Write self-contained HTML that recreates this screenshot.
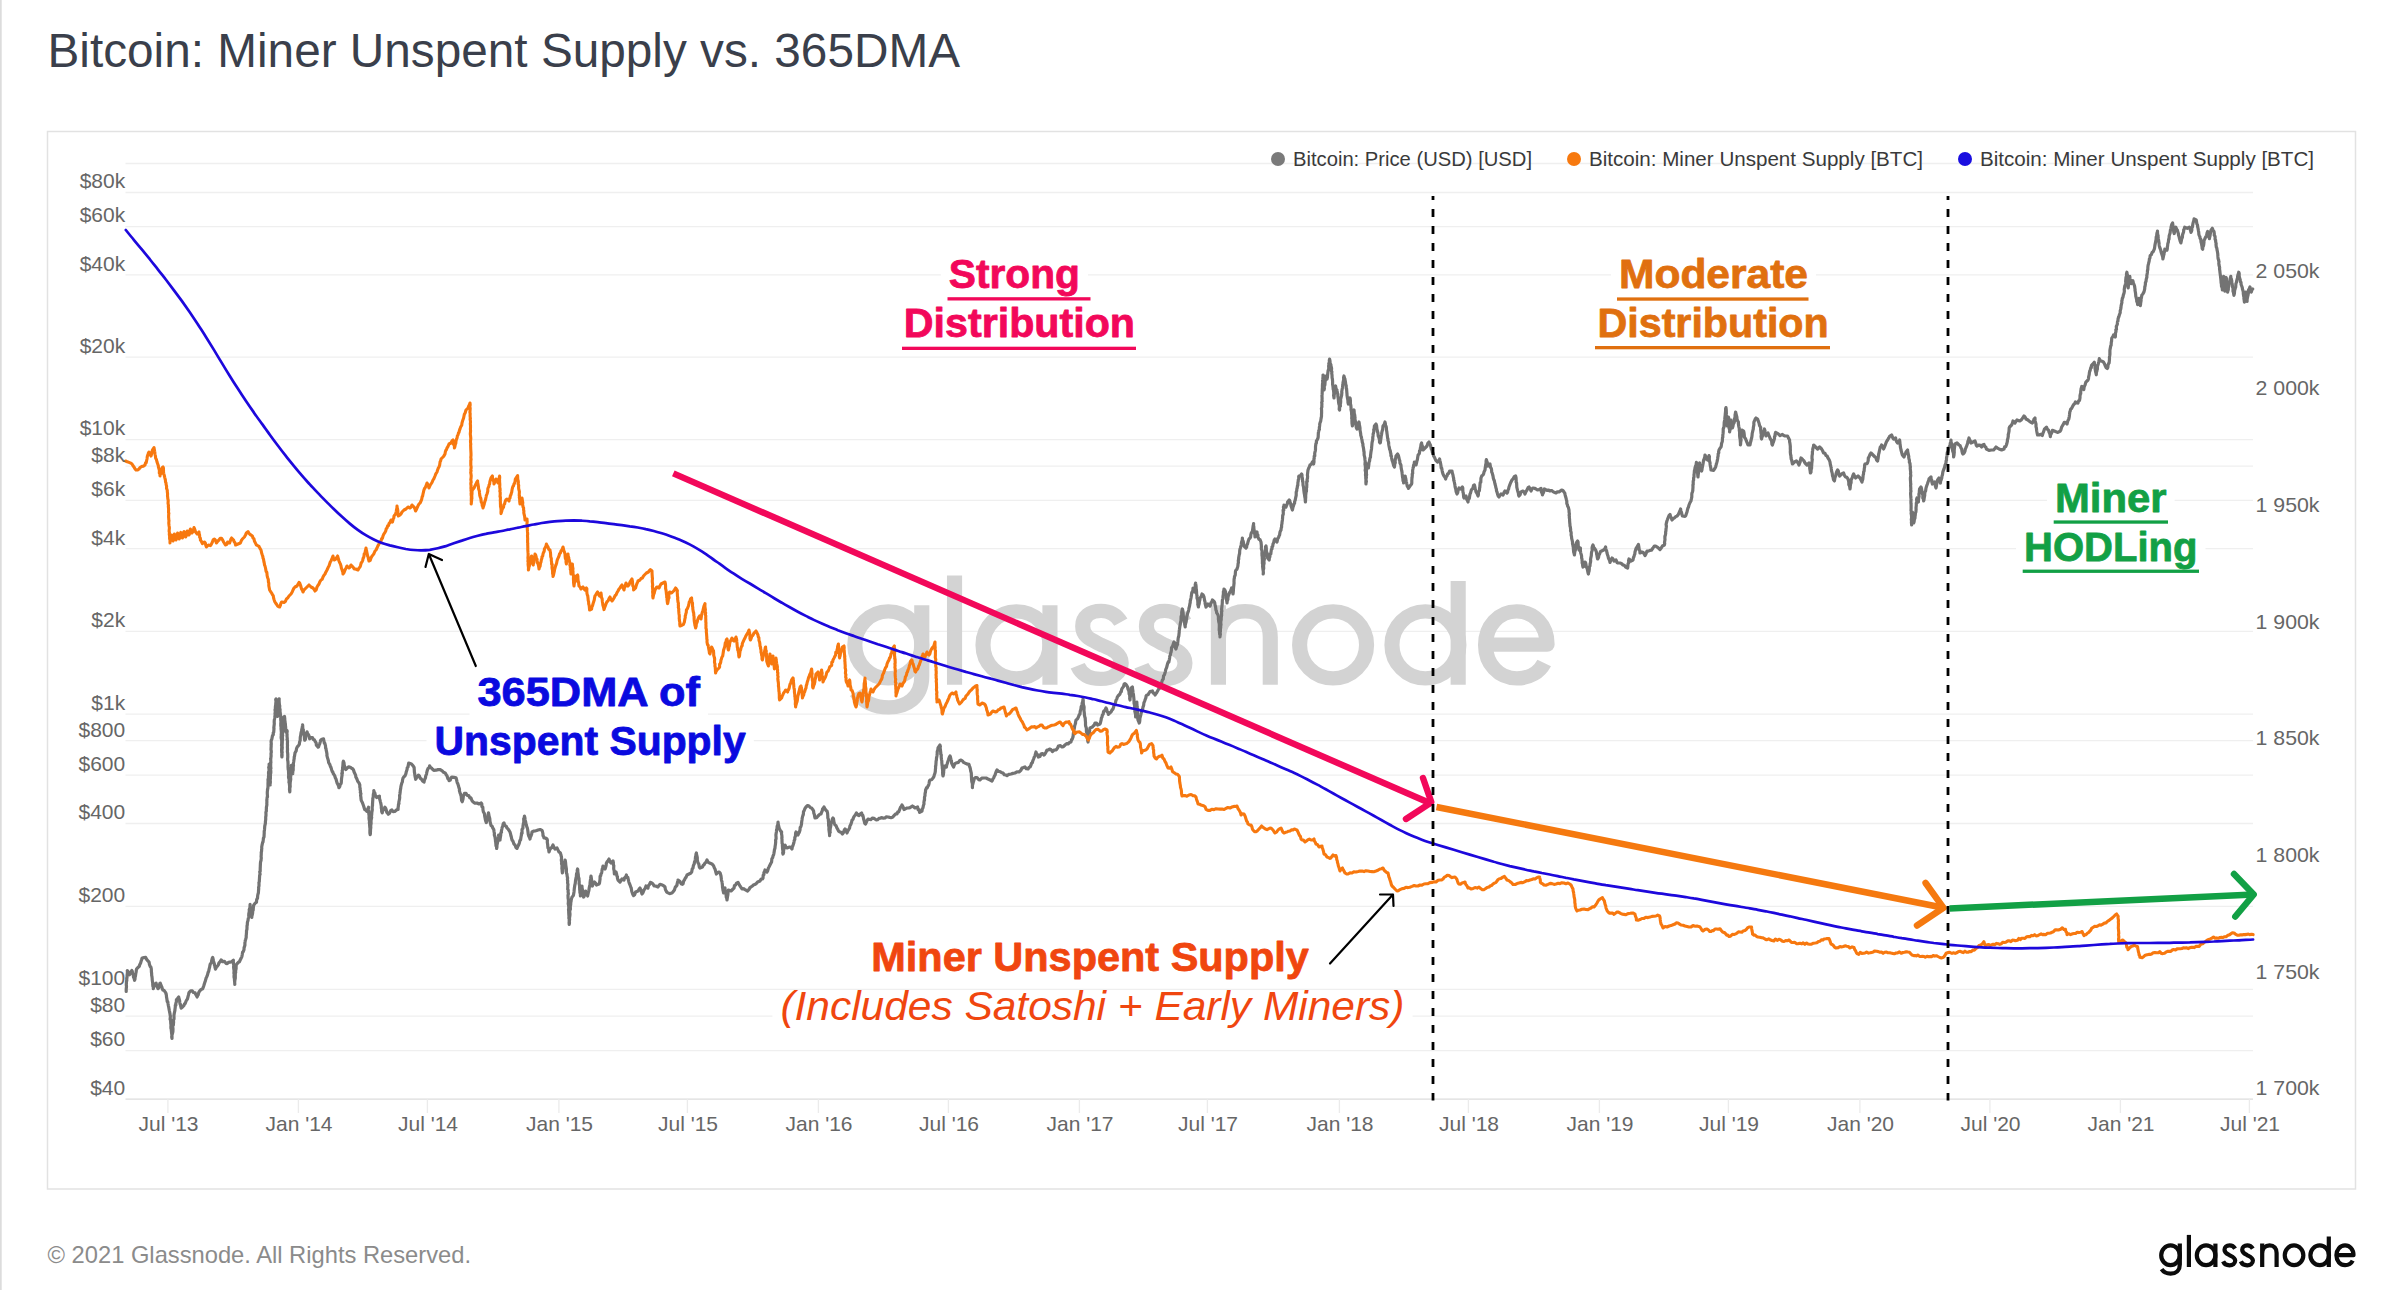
<!DOCTYPE html>
<html lang="en"><head><meta charset="utf-8"><title>Bitcoin: Miner Unspent Supply vs. 365DMA</title>
<style>
html,body{margin:0;padding:0;background:#fff;}
body{width:2400px;height:1290px;overflow:hidden;font-family:"Liberation Sans", sans-serif;}
svg{display:block;position:absolute;left:0;top:0;}
text{font-family:"Liberation Sans", sans-serif;}
.ax{font-size:21px;fill:#666;}
.lg{font-size:20.5px;fill:#3a3a3a;}
.an{font-size:41px;font-weight:bold;stroke-width:0.8px;stroke-linejoin:round;}
</style></head><body>
<svg width="2400" height="1290" viewBox="0 0 2400 1290">
<rect x="0" y="0" width="1.7" height="1290" fill="#dcdcdc"/>
<text x="47.5" y="67" font-size="48" fill="#3a3f4b" textLength="912.5" lengthAdjust="spacingAndGlyphs">Bitcoin: Miner Unspent Supply vs. 365DMA</text>
<rect x="47.5" y="131.5" width="2308" height="1057.5" fill="#fff" stroke="#e2e2e2" stroke-width="1.5"/>
<g stroke="#efefef" stroke-width="1.3">
<line x1="125.5" x2="2253" y1="163.5" y2="163.5"/>
<line x1="125.5" x2="2253" y1="192.5" y2="192.5"/>
<line x1="125.5" x2="2253" y1="226.6" y2="226.6"/>
<line x1="125.5" x2="2253" y1="274.8" y2="274.8"/>
<line x1="125.5" x2="2253" y1="357.2" y2="357.2"/>
<line x1="125.5" x2="2253" y1="439.6" y2="439.6"/>
<line x1="125.5" x2="2253" y1="466.2" y2="466.2"/>
<line x1="125.5" x2="2253" y1="500.4" y2="500.4"/>
<line x1="125.5" x2="2253" y1="548.7" y2="548.7"/>
<line x1="125.5" x2="2253" y1="631.3" y2="631.3"/>
<line x1="125.5" x2="2253" y1="714.1" y2="714.1"/>
<line x1="125.5" x2="2253" y1="740.7" y2="740.7"/>
<line x1="125.5" x2="2253" y1="775.1" y2="775.1"/>
<line x1="125.5" x2="2253" y1="823.5" y2="823.5"/>
<line x1="125.5" x2="2253" y1="906.4" y2="906.4"/>
<line x1="125.5" x2="2253" y1="989.4" y2="989.4"/>
<line x1="125.5" x2="2253" y1="1016.1" y2="1016.1"/>
<line x1="125.5" x2="2253" y1="1050.6" y2="1050.6"/>
</g>
<line x1="125.5" x2="2253" y1="1099.2" y2="1099.2" stroke="#dcdcdc" stroke-width="1.2"/>
<g stroke="#ebebeb" stroke-width="1.3">
<line x1="167.9" x2="167.9" y1="1099" y2="1113"/>
<line x1="298.4" x2="298.4" y1="1099" y2="1113"/>
<line x1="427.4" x2="427.4" y1="1099" y2="1113"/>
<line x1="558.9" x2="558.9" y1="1099" y2="1113"/>
<line x1="687.4" x2="687.4" y1="1099" y2="1113"/>
<line x1="818.4" x2="818.4" y1="1099" y2="1113"/>
<line x1="948.4" x2="948.4" y1="1099" y2="1113"/>
<line x1="1079.4" x2="1079.4" y1="1099" y2="1113"/>
<line x1="1207.4" x2="1207.4" y1="1099" y2="1113"/>
<line x1="1339.4" x2="1339.4" y1="1099" y2="1113"/>
<line x1="1468.4" x2="1468.4" y1="1099" y2="1113"/>
<line x1="1599.4" x2="1599.4" y1="1099" y2="1113"/>
<line x1="1728.4" x2="1728.4" y1="1099" y2="1113"/>
<line x1="1859.9" x2="1859.9" y1="1099" y2="1113"/>
<line x1="1989.9" x2="1989.9" y1="1099" y2="1113"/>
<line x1="2120.4" x2="2120.4" y1="1099" y2="1113"/>
<line x1="2249.4" x2="2249.4" y1="1099" y2="1113"/>
</g>
<g fill="none" stroke="#d3d3d3" stroke-width="4.2" stroke-linecap="butt" stroke-linejoin="round" transform="translate(-6925.5 -3623.1) scale(3.6 3.4)"><ellipse cx="2170.50" cy="1255.30" rx="9.30" ry="9.85"/><path d="M2179.8 1243.6 L2179.8 1264.5 C2179.8 1270.8 2175.5 1273.7 2170.6 1273.7 C2166.6 1273.7 2163.4 1272 2161.6 1269.2"/><path d="M2188.9 1234.9 L2188.9 1267"/><ellipse cx="2206.10" cy="1255.30" rx="9.30" ry="9.85"/><path d="M2215.4 1243.6 L2215.4 1267"/><path d="M2235.10 1248.6 C2233.70 1246.2 2231.90 1245.3 2229.60 1245.3 C2226.50 1245.3 2224.50 1247 2224.50 1249.8 C2224.50 1253.2 2227.30 1254 2229.70 1255.3 C2232.50 1256.6 2235.20 1257.6 2235.20 1260.6 C2235.20 1263.6 2232.70 1265.3 2229.50 1265.3 C2226.50 1265.3 2224.20 1264 2223.10 1261.4"/><path d="M2252.80 1248.6 C2251.40 1246.2 2249.60 1245.3 2247.30 1245.3 C2244.20 1245.3 2242.20 1247 2242.20 1249.8 C2242.20 1253.2 2245.00 1254 2247.40 1255.3 C2250.20 1256.6 2252.90 1257.6 2252.90 1260.6 C2252.90 1263.6 2250.40 1265.3 2247.20 1265.3 C2244.20 1265.3 2241.90 1264 2240.80 1261.4"/><path d="M2262.2 1243.6 L2262.2 1267 M2262.2 1253.5 C2262.2 1248.5 2265.3 1245.4 2269.6 1245.4 C2274 1245.4 2276.6 1248.4 2276.6 1253 L2276.6 1267"/><ellipse cx="2294.05" cy="1255.30" rx="9.30" ry="9.85"/><ellipse cx="2319.70" cy="1255.30" rx="9.30" ry="9.85"/><path d="M2328.8 1236.5 L2328.8 1267"/><path d="M2337 1255.2 L2353.5 1255.2 C2353.5 1249.4 2349.8 1245.45 2345.05 1245.45 C2340 1245.45 2336.4 1249.8 2336.4 1255.3 C2336.4 1260.8 2340 1265.15 2345.1 1265.15 C2348.6 1265.15 2351.3 1263.4 2352.7 1260.6"/></g>
<rect x="940.8" y="257.5" width="147.2" height="44.3" fill="#fff"/>
<rect x="895.8" y="307.3" width="247.2" height="42.9" fill="#fff"/>
<rect x="1611.0" y="257.5" width="205.0" height="44.3" fill="#fff"/>
<rect x="1589.5" y="307.3" width="247.5" height="42.9" fill="#fff"/>
<rect x="2047.0" y="482.5" width="127.6" height="42.3" fill="#fff"/>
<rect x="2016.0" y="531.3" width="189.5" height="42.7" fill="#fff"/>
<rect x="469.5" y="676.5" width="238.5" height="42.5" fill="#fff"/>
<rect x="426.5" y="726.0" width="327.3" height="42.0" fill="#fff"/>
<rect x="864.3" y="942.2" width="452.0" height="41.6" fill="#fff"/>
<rect x="772.4" y="991.2" width="640.2" height="42.2" fill="#fff"/>
<path d="M126.2 991.5 L126.2 989.2 L126.4 987.4 L126.5 986.4 L126.3 985.0 L126.4 983.3 L126.5 981.0 L126.8 980.8 L126.7 978.0 L127.0 977.9 L127.1 975.2 L127.4 972.8 L127.4 971.7 L127.3 970.5 L127.9 971.2 L128.7 974.0 L129.5 974.7 L130.1 973.5 L131.1 971.7 L131.8 970.5 L132.3 971.3 L132.5 973.2 L133.3 975.3 L133.5 977.2 L134.1 978.3 L134.6 980.3 L135.0 979.1 L135.0 977.3 L135.4 976.3 L135.8 973.5 L136.2 971.6 L136.2 971.2 L136.5 969.1 L137.7 967.7 L139.3 966.3 L139.6 965.0 L140.6 963.1 L141.2 960.9 L141.6 959.8 L142.1 958.0 L144.0 957.6 L145.7 957.4 L147.0 959.9 L147.9 960.9 L149.1 962.2 L149.4 964.3 L150.3 966.6 L150.9 967.0 L151.3 969.1 L151.4 971.0 L151.4 972.1 L151.6 972.9 L151.7 975.7 L151.9 976.1 L152.2 978.9 L152.2 979.6 L152.5 981.9 L152.8 983.4 L152.7 984.0 L152.9 986.4 L153.3 986.5 L153.3 988.7 L153.8 986.7 L154.5 985.9 L155.4 984.0 L156.1 983.1 L156.5 984.8 L157.3 986.9 L158.0 988.7 L158.8 987.7 L159.1 986.1 L159.8 983.6 L160.2 983.1 L161.0 985.0 L161.5 986.5 L161.9 987.1 L162.3 988.9 L163.0 990.1 L164.2 990.6 L165.8 992.9 L166.0 993.8 L166.4 995.2 L166.5 996.9 L166.9 999.0 L167.2 1001.6 L167.8 1001.7 L168.1 1004.0 L168.3 1005.3 L168.6 1006.5 L169.2 1009.9 L169.3 1010.5 L169.5 1011.4 L170.0 1013.8 L170.1 1014.9 L170.4 1016.2 L170.1 1019.3 L170.5 1019.2 L170.6 1020.5 L170.8 1024.0 L171.1 1024.9 L170.9 1025.8 L170.9 1028.2 L171.3 1029.7 L171.3 1030.1 L171.6 1033.2 L171.8 1034.4 L171.9 1035.8 L171.7 1036.9 L172.0 1038.4 L172.0 1035.9 L172.0 1034.8 L172.3 1034.1 L172.8 1032.1 L172.9 1031.7 L173.0 1028.9 L172.8 1027.1 L172.9 1025.5 L173.3 1025.3 L173.5 1023.0 L173.6 1022.1 L173.4 1020.3 L174.0 1019.0 L174.0 1016.8 L173.9 1015.9 L174.2 1013.8 L174.4 1012.8 L174.9 1010.5 L174.9 1010.0 L175.3 1006.9 L175.3 1005.3 L175.9 1005.1 L175.8 1003.6 L176.4 1001.7 L176.4 999.8 L177.5 998.5 L178.7 997.0 L178.8 997.7 L179.6 1000.5 L179.8 1002.7 L180.1 1004.2 L180.6 1004.4 L180.7 1006.2 L181.2 1008.2 L182.4 1007.0 L184.0 1005.4 L184.5 1003.9 L185.2 1003.5 L186.0 1001.2 L186.8 999.8 L187.4 999.1 L187.8 997.5 L188.4 995.2 L189.0 992.6 L189.6 992.0 L190.9 990.8 L192.3 990.9 L193.5 992.5 L195.1 992.9 L195.6 994.2 L196.6 995.8 L197.1 997.0 L197.6 995.7 L198.2 994.8 L198.6 993.0 L199.3 991.5 L200.9 989.6 L202.7 988.7 L203.3 987.1 L203.7 986.0 L204.4 983.8 L204.8 982.3 L205.3 981.1 L205.8 979.2 L206.3 977.5 L206.8 976.7 L207.5 974.9 L208.2 972.0 L208.6 971.7 L209.1 969.1 L209.7 966.9 L209.8 966.1 L210.2 964.2 L210.7 963.6 L211.5 962.6 L211.6 960.8 L212.3 958.2 L212.7 957.4 L213.3 959.8 L213.3 961.2 L213.7 961.8 L214.4 963.9 L214.3 964.6 L214.8 965.9 L215.0 967.3 L215.5 969.1 L216.6 966.8 L217.4 966.2 L218.3 964.9 L219.0 962.9 L220.2 961.6 L221.1 959.9 L222.6 961.6 L224.4 961.3 L226.0 963.4 L227.2 963.6 L228.4 962.4 L230.0 962.2 L231.5 961.7 L233.4 960.2 L233.3 961.0 L233.5 964.1 L233.8 964.3 L233.6 967.1 L233.8 968.2 L233.7 968.4 L234.1 970.7 L233.9 973.2 L234.2 974.5 L234.0 976.1 L234.1 977.6 L234.4 978.1 L234.5 980.8 L234.5 980.7 L234.7 982.4 L234.8 984.5 L234.7 982.3 L234.8 980.9 L235.0 979.6 L235.3 978.1 L235.3 976.3 L235.3 974.5 L235.4 973.0 L235.7 972.6 L235.6 970.9 L236.1 968.7 L236.1 967.8 L236.1 967.1 L236.2 964.9 L237.2 963.6 L238.4 962.2 L239.4 961.7 L240.2 960.0 L241.2 958.0 L241.9 956.6 L242.3 954.3 L242.6 952.2 L243.2 951.8 L244.0 949.6 L244.1 947.4 L244.3 947.2 L244.9 945.3 L244.9 942.9 L245.1 941.8 L245.3 940.2 L245.6 939.7 L246.2 937.3 L246.2 935.6 L246.3 935.0 L246.5 932.3 L246.5 930.8 L246.9 929.6 L247.0 928.0 L247.0 926.0 L247.3 924.8 L247.4 922.5 L247.7 921.4 L248.0 920.5 L248.2 918.9 L248.5 917.6 L248.7 916.4 L248.8 913.7 L249.3 911.7 L249.4 911.1 L249.2 909.9 L249.9 907.9 L250.0 906.6 L250.1 904.4 L250.2 906.1 L250.5 908.3 L250.9 909.9 L251.0 911.7 L251.3 913.0 L251.2 913.3 L251.4 915.6 L251.8 917.5 L251.8 916.6 L252.3 914.6 L252.6 913.1 L252.8 910.2 L253.2 910.1 L253.3 908.1 L253.6 905.6 L253.8 904.9 L255.3 903.0 L256.5 902.1 L256.6 900.1 L257.2 898.4 L257.5 898.3 L257.7 895.5 L257.9 894.5 L258.4 892.8 L258.5 891.0 L258.7 888.5 L258.6 887.3 L259.0 885.8 L259.0 883.6 L258.9 882.5 L259.3 881.8 L259.4 879.4 L259.5 878.1 L259.6 875.9 L259.9 874.4 L260.1 874.3 L259.7 871.8 L260.2 871.2 L260.2 868.6 L260.3 866.6 L260.3 866.4 L260.4 864.1 L260.5 862.4 L261.1 860.0 L261.1 859.2 L261.3 858.0 L261.1 856.8 L261.3 853.5 L261.2 852.8 L261.6 850.9 L261.6 849.4 L261.8 848.8 L261.7 847.0 L262.1 844.9 L262.6 842.5 L263.0 842.1 L263.3 839.6 L263.4 838.2 L264.0 837.0 L264.1 835.2 L264.2 833.4 L264.2 831.1 L264.3 831.1 L264.5 829.7 L264.7 826.8 L264.9 825.1 L265.0 825.1 L265.4 823.2 L265.4 821.8 L265.7 819.5 L265.7 817.0 L265.9 816.2 L266.0 815.0 L265.9 812.3 L266.4 810.9 L266.3 810.0 L266.4 808.1 L266.4 807.4 L266.9 804.8 L266.8 803.3 L266.9 802.0 L266.8 799.9 L266.9 799.8 L267.2 796.9 L267.5 796.9 L267.3 793.6 L267.3 791.9 L267.5 790.4 L267.5 789.1 L267.8 788.8 L268.0 786.3 L268.0 784.9 L268.0 783.3 L268.1 781.4 L268.0 779.6 L268.6 777.7 L268.4 777.1 L268.7 774.7 L268.5 773.1 L268.6 771.9 L269.0 771.1 L269.0 767.8 L268.7 767.6 L269.2 765.5 L269.1 764.0 L269.2 764.6 L269.2 768.0 L269.5 769.5 L269.7 769.9 L269.3 771.3 L269.6 774.0 L269.9 775.7 L269.9 777.4 L269.9 778.6 L269.7 780.6 L269.9 782.5 L270.2 782.9 L270.2 784.9 L270.1 782.9 L270.4 782.2 L270.1 779.4 L270.4 778.9 L270.4 776.7 L270.5 774.7 L270.4 774.0 L270.8 772.9 L270.8 771.0 L270.5 769.0 L270.9 768.4 L270.6 765.5 L270.7 765.2 L270.7 762.9 L270.9 762.7 L270.7 759.3 L270.8 758.6 L271.0 756.6 L271.1 756.1 L271.0 753.5 L271.3 752.2 L271.2 750.5 L271.0 750.0 L271.0 748.8 L271.2 745.8 L271.1 744.7 L271.3 744.2 L271.1 741.6 L271.3 740.2 L271.8 739.3 L272.5 735.6 L273.3 734.7 L273.2 732.9 L273.7 732.4 L273.8 731.1 L274.0 728.2 L273.8 727.9 L274.2 724.6 L274.3 723.8 L274.2 722.1 L274.3 720.0 L274.5 719.1 L274.7 717.9 L275.0 715.6 L275.2 714.2 L275.0 713.8 L275.3 711.5 L275.0 710.0 L275.3 709.3 L275.4 706.6 L275.8 704.3 L275.7 704.3 L276.0 701.2 L275.7 699.6 L276.1 698.9 L276.4 700.0 L276.5 702.9 L276.4 703.3 L276.8 705.6 L276.6 707.4 L276.8 708.1 L276.7 710.6 L277.3 712.0 L277.4 712.4 L277.2 714.9 L277.5 716.5 L277.9 715.8 L277.7 712.8 L277.9 711.7 L278.3 709.5 L278.4 709.0 L278.6 707.5 L278.6 705.0 L278.6 703.5 L279.0 701.3 L278.9 701.0 L279.2 698.9 L279.1 699.6 L279.2 702.1 L279.4 704.6 L279.8 706.1 L279.6 705.9 L279.7 708.3 L280.1 709.7 L280.0 711.2 L280.3 713.3 L280.5 715.2 L280.6 715.3 L280.8 717.2 L280.7 718.9 L280.8 720.7 L281.0 721.6 L280.8 723.2 L280.8 726.0 L281.1 726.4 L281.0 729.2 L281.1 729.2 L281.3 731.6 L281.4 732.0 L281.2 735.0 L281.5 736.7 L281.1 736.9 L281.2 738.2 L281.7 740.5 L281.7 741.6 L281.7 743.3 L281.5 745.5 L281.8 745.6 L281.7 748.2 L281.6 749.2 L281.6 750.4 L281.7 752.7 L281.9 753.4 L281.7 755.1 L281.9 757.0 L282.1 754.9 L281.9 753.4 L282.2 752.6 L281.9 750.2 L282.1 749.6 L282.3 747.2 L282.1 746.9 L282.2 744.5 L282.2 744.4 L282.3 742.1 L282.3 740.3 L282.6 739.9 L282.4 736.8 L282.7 735.4 L282.3 735.3 L282.6 733.6 L282.6 732.2 L282.7 729.3 L282.5 728.5 L282.9 727.8 L282.6 725.7 L282.8 723.9 L282.8 722.0 L283.0 721.8 L282.8 719.4 L283.1 717.9 L284.5 716.5 L284.8 719.0 L284.6 718.8 L285.1 722.1 L285.0 721.8 L285.4 724.0 L285.5 726.0 L285.6 726.6 L285.7 728.2 L285.7 731.0 L285.9 731.9 L287.0 730.5 L287.2 731.3 L286.9 733.3 L287.1 734.8 L287.0 736.0 L287.3 738.8 L287.0 739.6 L287.4 740.1 L287.5 741.8 L287.4 744.1 L287.5 745.2 L287.4 747.2 L287.5 748.9 L287.5 749.9 L287.4 751.8 L287.6 752.6 L287.8 755.2 L287.7 755.5 L287.8 756.8 L287.6 759.0 L287.7 760.5 L287.9 761.2 L288.0 762.8 L288.1 765.7 L288.0 765.8 L288.1 768.2 L288.2 769.5 L288.5 770.6 L288.6 773.9 L288.7 775.1 L288.5 777.0 L288.8 778.6 L289.1 778.6 L289.1 781.7 L288.9 782.1 L289.3 783.3 L289.5 785.1 L289.6 786.4 L289.5 789.6 L289.5 789.8 L289.8 791.9 L289.9 790.0 L289.7 788.1 L289.9 788.1 L290.2 786.4 L290.1 784.7 L290.2 782.6 L290.5 780.7 L290.7 779.5 L290.7 778.6 L290.6 777.3 L290.9 774.5 L291.1 772.7 L291.3 771.8 L291.1 770.6 L291.2 767.8 L291.5 766.0 L291.4 765.4 L291.9 766.5 L292.1 769.7 L292.3 770.7 L292.5 771.1 L292.8 773.7 L292.7 771.5 L293.1 770.6 L293.2 770.0 L293.2 767.1 L293.5 765.2 L293.3 764.3 L293.5 762.8 L293.7 761.7 L294.0 759.4 L294.2 758.5 L294.2 757.0 L294.5 756.2 L295.0 752.9 L295.4 752.2 L296.2 750.9 L296.5 748.6 L297.3 746.8 L298.1 746.1 L299.3 744.4 L299.5 742.6 L299.8 741.3 L300.2 740.4 L300.2 739.2 L300.3 737.0 L300.8 734.9 L300.8 734.5 L301.1 732.5 L301.8 730.2 L301.7 729.6 L302.1 728.2 L302.5 725.7 L302.6 724.9 L302.7 726.0 L302.8 728.7 L303.4 729.9 L303.2 731.7 L303.8 732.5 L304.1 734.0 L304.0 734.8 L304.3 736.3 L304.5 739.2 L304.8 740.2 L305.4 739.3 L305.8 736.4 L306.2 735.1 L306.8 733.6 L307.1 731.9 L307.6 733.9 L308.6 734.8 L309.1 736.1 L309.6 738.8 L310.9 737.6 L312.4 737.5 L313.4 739.7 L314.4 739.9 L315.2 741.6 L316.1 742.7 L316.4 745.2 L317.3 746.2 L318.0 747.2 L318.6 746.8 L319.1 745.1 L319.7 743.8 L320.2 742.1 L320.7 740.2 L322.2 739.2 L323.5 738.8 L323.9 740.8 L324.3 743.2 L324.8 743.1 L325.5 745.8 L325.6 748.3 L326.0 748.3 L326.1 749.6 L326.7 752.4 L327.0 754.2 L326.9 755.4 L327.4 757.5 L327.7 758.4 L328.4 760.8 L328.6 762.5 L329.6 764.3 L329.8 764.5 L330.5 766.8 L330.9 767.2 L331.8 770.2 L332.3 771.6 L332.8 771.9 L333.3 773.7 L333.8 774.3 L334.8 775.9 L335.3 777.8 L336.1 779.3 L336.4 780.5 L337.1 783.1 L337.7 784.0 L338.6 786.0 L338.9 787.7 L339.8 786.5 L340.1 784.7 L341.1 783.5 L341.3 782.5 L341.4 780.7 L341.6 778.2 L341.9 776.3 L342.1 774.9 L341.8 773.3 L342.4 773.3 L342.2 770.7 L342.6 769.7 L342.6 767.5 L342.8 766.6 L342.9 765.3 L343.1 762.2 L343.4 761.2 L344.0 762.9 L344.2 764.8 L344.7 766.8 L345.5 768.5 L345.9 769.6 L347.3 767.9 L348.7 766.8 L350.0 767.2 L351.5 768.2 L352.6 768.7 L353.5 770.0 L354.2 772.3 L354.7 773.3 L355.6 775.1 L355.9 777.3 L356.3 777.8 L357.0 779.3 L357.7 781.2 L358.6 782.4 L359.1 783.2 L359.8 784.9 L359.8 787.1 L360.2 788.5 L360.1 789.4 L360.5 791.2 L360.3 792.5 L360.9 793.6 L360.6 795.3 L361.0 797.9 L360.9 798.0 L361.2 800.3 L361.7 801.3 L362.3 802.4 L362.8 803.8 L363.7 806.3 L364.0 807.2 L364.7 809.6 L365.7 809.8 L366.8 811.4 L367.6 810.6 L368.0 808.5 L368.5 807.2 L368.4 809.0 L368.5 809.7 L368.7 810.9 L368.8 813.9 L369.0 814.8 L369.1 816.3 L369.0 818.1 L369.2 819.9 L369.5 820.8 L369.4 822.9 L369.5 823.4 L369.7 826.2 L369.8 827.4 L370.0 828.9 L369.9 829.9 L369.9 831.8 L369.9 832.9 L370.2 834.6 L370.4 833.5 L370.5 831.0 L370.5 829.8 L370.7 828.2 L370.8 827.7 L370.7 825.6 L371.1 823.5 L371.1 823.1 L371.0 820.7 L371.2 819.6 L371.7 817.5 L371.4 816.1 L371.7 814.8 L371.8 812.8 L372.0 811.5 L372.3 809.7 L372.2 808.9 L372.2 806.8 L372.5 805.4 L372.5 804.2 L372.7 800.8 L372.8 799.9 L372.8 798.3 L373.2 797.3 L373.3 794.8 L373.4 794.2 L373.9 792.1 L373.8 790.5 L374.2 792.5 L374.8 792.7 L375.3 795.2 L376.2 796.3 L376.6 797.5 L378.0 796.9 L379.4 796.1 L379.5 798.5 L379.8 799.4 L380.3 801.3 L380.4 801.8 L380.7 802.9 L381.1 804.9 L381.3 806.3 L381.3 807.8 L381.6 809.1 L381.7 811.7 L382.2 812.8 L382.7 810.9 L383.5 810.0 L384.2 808.9 L384.9 807.2 L385.7 808.4 L386.5 810.7 L386.7 812.1 L387.8 813.4 L388.3 814.2 L389.3 813.5 L390.8 810.5 L391.9 810.0 L393.1 811.6 L394.7 811.4 L396.5 809.9 L398.1 809.5 L398.1 807.2 L398.3 806.9 L398.5 804.0 L399.0 803.7 L398.8 802.3 L399.2 800.5 L399.5 799.2 L399.7 797.5 L399.6 795.6 L399.9 794.1 L400.1 792.8 L400.3 790.5 L400.7 788.4 L400.9 786.6 L401.3 784.9 L401.7 783.5 L402.0 782.6 L402.4 781.8 L402.5 780.2 L403.1 777.9 L404.0 776.7 L405.0 775.8 L405.9 773.7 L406.2 772.1 L406.9 769.9 L407.1 769.5 L407.2 767.9 L408.0 767.0 L408.2 765.6 L408.7 763.1 L411.5 764.0 L412.6 765.3 L413.7 766.8 L414.1 767.4 L414.3 770.2 L414.4 772.2 L414.6 773.0 L414.9 775.2 L415.0 776.1 L415.4 777.9 L415.7 779.3 L416.7 777.5 L417.7 776.3 L418.4 775.1 L419.4 775.9 L420.3 778.5 L421.2 778.8 L422.7 781.0 L424.0 782.1 L424.4 780.1 L424.9 779.0 L425.5 777.8 L425.7 776.0 L426.5 774.1 L426.8 772.3 L427.3 770.3 L428.0 768.5 L429.1 767.7 L429.6 765.9 L430.7 767.6 L431.9 768.4 L432.8 769.5 L433.8 770.4 L436.0 770.2 L438.0 769.6 L440.2 769.7 L442.2 770.9 L443.6 772.3 L445.1 772.9 L446.4 775.1 L446.9 775.6 L447.9 778.8 L448.5 779.1 L449.1 780.7 L450.2 780.1 L451.0 777.8 L451.9 777.1 L453.9 777.4 L456.1 777.9 L456.5 779.4 L457.1 782.1 L457.3 782.9 L457.8 783.7 L458.6 786.2 L458.9 787.7 L459.5 789.1 L459.4 790.6 L460.1 793.2 L460.6 793.9 L460.7 794.7 L461.2 796.4 L461.3 797.6 L461.6 800.5 L462.3 801.7 L462.5 800.9 L463.0 799.0 L463.4 795.7 L464.2 794.4 L464.5 793.3 L466.0 793.4 L467.1 795.3 L468.7 795.5 L469.8 797.8 L470.9 797.8 L471.9 800.5 L472.9 801.7 L474.9 803.2 L477.1 803.0 L479.0 804.0 L481.2 803.0 L481.8 803.7 L481.9 806.6 L482.8 807.1 L483.0 810.0 L483.4 811.9 L484.0 812.8 L484.4 813.6 L484.7 816.2 L485.1 818.1 L485.4 819.9 L485.8 821.3 L486.3 822.6 L486.7 820.8 L487.0 819.9 L487.6 818.3 L487.8 815.7 L487.9 815.4 L488.5 812.8 L488.9 815.0 L489.1 816.2 L489.7 818.2 L489.8 818.7 L490.0 821.4 L490.3 822.6 L490.8 824.6 L491.0 825.4 L492.1 826.3 L492.6 827.7 L493.8 829.6 L494.0 831.3 L494.4 833.5 L494.3 835.0 L494.9 836.6 L495.0 837.0 L495.4 839.7 L495.5 841.5 L495.6 841.4 L495.9 844.4 L496.0 845.9 L496.6 846.4 L496.6 848.5 L496.9 847.4 L497.0 845.0 L497.1 844.6 L497.6 842.5 L497.5 841.7 L498.0 839.1 L498.2 838.9 L498.5 836.7 L498.6 835.2 L499.0 836.9 L499.4 837.8 L500.0 840.0 L500.1 838.9 L500.4 837.1 L500.7 835.5 L500.8 833.1 L501.5 832.2 L501.3 831.3 L501.9 828.8 L502.0 828.0 L502.7 826.0 L503.3 823.7 L504.0 823.0 L504.8 825.6 L506.2 826.3 L507.0 828.0 L508.0 828.9 L509.1 830.5 L510.0 832.0 L510.6 834.1 L511.0 836.1 L511.1 835.9 L511.5 837.8 L512.0 840.0 L512.8 840.8 L514.0 844.1 L515.0 845.0 L516.0 847.6 L517.0 848.4 L517.9 846.1 L518.4 845.3 L519.0 844.0 L519.3 843.2 L519.9 840.6 L520.6 839.7 L521.0 837.0 L521.4 835.2 L521.5 833.2 L522.1 833.3 L522.0 829.8 L522.3 828.8 L522.9 828.4 L523.0 826.0 L523.4 823.4 L523.6 823.1 L523.8 822.0 L523.7 818.6 L524.3 818.5 L524.4 816.0 L524.8 817.2 L525.1 819.7 L525.2 820.4 L525.6 821.6 L526.0 824.0 L526.4 824.9 L526.7 826.5 L527.3 827.8 L527.7 829.8 L528.0 832.0 L528.3 834.6 L528.9 836.4 L529.7 838.0 L530.0 839.0 L530.3 837.1 L530.8 836.4 L531.7 834.0 L532.0 832.0 L533.5 831.2 L535.0 831.0 L536.7 830.5 L538.0 830.0 L540.1 829.5 L542.0 830.4 L542.3 831.0 L542.9 833.5 L543.0 835.7 L543.5 836.3 L544.0 838.0 L545.3 838.0 L547.0 839.0 L547.4 840.3 L547.3 842.2 L547.7 844.7 L547.8 846.5 L548.0 847.9 L548.6 848.2 L548.7 849.9 L549.0 852.0 L549.9 849.4 L551.0 848.0 L551.9 847.5 L553.0 845.0 L554.2 847.9 L555.0 849.0 L557.0 848.0 L557.8 849.6 L559.0 852.0 L560.2 852.6 L561.0 855.0 L561.2 856.1 L561.5 857.0 L561.5 859.2 L561.3 860.0 L561.7 862.6 L561.5 863.9 L562.0 864.9 L562.0 866.3 L561.9 869.0 L562.3 869.4 L562.1 870.7 L562.4 873.0 L562.8 871.2 L562.9 868.9 L563.4 868.2 L563.6 866.0 L564.1 864.7 L564.2 862.1 L564.8 861.3 L565.0 860.0 L565.3 860.7 L565.6 862.8 L565.8 865.4 L565.8 865.3 L566.2 867.8 L566.4 869.0 L566.4 871.0 L566.5 873.4 L566.9 873.8 L567.2 876.4 L567.6 878.0 L567.4 879.5 L567.7 881.0 L567.6 882.9 L568.0 884.7 L567.8 885.9 L567.8 887.5 L567.7 889.2 L568.2 890.0 L568.1 891.6 L568.1 892.0 L568.4 893.9 L568.0 895.2 L568.1 898.1 L568.1 898.2 L568.4 899.9 L568.4 902.0 L568.2 903.8 L568.6 905.2 L568.7 906.0 L568.8 908.8 L568.5 909.2 L568.7 911.6 L568.7 912.4 L568.8 914.1 L569.0 917.1 L568.8 918.1 L569.2 918.9 L569.2 922.1 L569.1 922.6 L569.2 924.4 L569.5 922.9 L569.3 922.1 L569.6 919.3 L569.4 917.7 L569.6 917.4 L569.9 915.6 L570.0 913.9 L569.7 911.6 L570.0 910.0 L570.4 909.2 L570.3 906.5 L570.7 904.7 L570.8 902.5 L571.0 901.7 L571.2 900.0 L571.9 897.3 L573.0 896.0 L573.5 895.0 L573.8 893.1 L574.0 892.0 L574.3 888.7 L574.4 888.0 L574.7 885.9 L575.0 884.2 L575.2 883.8 L575.5 880.8 L575.7 879.5 L576.0 878.0 L576.5 876.1 L576.4 875.3 L576.6 873.7 L577.3 872.0 L577.2 870.4 L577.6 869.0 L577.8 869.9 L577.8 871.4 L578.1 873.5 L578.3 874.8 L578.4 876.9 L579.0 878.6 L579.0 880.0 L579.2 881.9 L579.1 883.6 L579.4 884.9 L579.6 886.3 L579.6 887.5 L579.7 889.6 L579.9 891.4 L579.9 892.5 L580.4 893.9 L580.4 896.0 L580.7 894.3 L580.8 893.6 L581.1 891.5 L581.3 888.5 L581.9 887.5 L582.0 886.0 L582.0 887.3 L582.4 889.6 L582.5 890.2 L583.1 892.8 L583.0 893.5 L583.3 895.8 L583.6 897.0 L584.2 896.2 L584.8 894.0 L585.2 893.0 L585.6 891.0 L586.4 892.6 L587.1 894.8 L587.6 896.0 L588.1 893.6 L588.5 891.7 L588.7 891.2 L588.9 890.3 L589.3 887.5 L589.6 886.0 L590.0 885.1 L590.1 882.4 L590.3 880.9 L590.6 878.9 L590.7 877.8 L591.0 876.0 L591.2 877.3 L591.6 880.0 L591.7 880.9 L591.8 882.3 L592.0 884.5 L592.4 886.0 L593.4 883.2 L594.4 882.0 L595.6 883.1 L596.4 885.0 L599.0 884.0 L599.5 883.0 L599.9 880.1 L600.0 879.8 L600.1 876.4 L600.7 875.7 L601.0 874.0 L601.6 872.9 L601.8 871.8 L602.2 869.2 L602.7 867.4 L603.0 866.0 L603.9 867.7 L605.0 869.0 L605.4 868.1 L606.1 865.6 L606.3 863.5 L607.0 862.0 L608.0 860.6 L609.0 859.0 L610.0 861.8 L611.0 863.0 L613.0 861.0 L613.4 862.6 L613.3 864.5 L613.8 865.6 L613.7 868.1 L613.7 868.8 L614.3 871.4 L614.2 871.6 L614.4 874.0 L616.0 872.0 L616.6 874.0 L617.0 876.2 L617.4 876.6 L617.4 878.0 L618.0 880.0 L620.0 882.0 L621.0 880.5 L622.0 879.0 L624.0 880.0 L624.6 877.7 L625.7 876.9 L626.4 875.0 L627.0 877.7 L627.8 877.4 L628.4 880.0 L628.9 882.1 L629.3 883.4 L629.7 884.1 L630.4 886.0 L631.0 887.7 L631.3 888.4 L631.6 890.6 L632.0 892.0 L632.7 894.1 L633.6 895.6 L634.6 894.8 L635.6 892.0 L638.0 891.0 L639.0 889.3 L640.0 888.0 L640.3 888.8 L641.1 890.2 L641.3 891.8 L642.0 894.0 L643.0 892.6 L644.0 890.0 L645.1 888.6 L646.0 886.0 L648.0 888.0 L648.4 885.6 L649.3 884.8 L649.9 883.5 L650.4 882.4 L651.5 882.7 L653.0 884.0 L654.1 885.8 L655.6 886.0 L658.0 887.0 L659.0 885.4 L660.0 884.4 L662.4 885.0 L663.7 885.8 L665.0 887.0 L665.4 889.6 L666.4 891.5 L667.0 892.4 L669.6 893.6 L672.0 893.0 L673.2 891.7 L674.4 890.0 L675.3 887.1 L676.4 886.0 L677.0 885.2 L677.1 883.8 L677.8 881.1 L678.0 880.0 L680.0 881.6 L681.3 883.9 L682.4 884.4 L683.1 883.8 L683.6 881.2 L684.4 880.0 L685.4 877.8 L686.0 877.4 L687.0 875.0 L689.0 874.0 L691.0 873.0 L691.7 871.9 L692.2 869.0 L693.0 868.0 L693.4 865.6 L694.2 864.1 L694.5 862.0 L695.0 861.0 L695.3 859.2 L695.5 856.9 L695.7 856.9 L696.0 854.1 L696.4 853.0 L696.5 854.2 L696.8 855.4 L697.3 857.7 L697.3 860.1 L697.5 860.9 L698.0 863.0 L698.8 863.9 L699.3 867.0 L700.0 868.0 L702.4 867.0 L703.4 865.0 L704.1 864.8 L705.0 863.0 L705.9 862.4 L707.0 860.0 L708.2 862.4 L709.6 863.0 L712.0 864.0 L712.8 864.8 L713.6 865.9 L714.4 868.0 L715.0 869.0 L715.6 871.2 L715.8 872.0 L716.4 874.0 L717.8 872.4 L719.0 872.0 L720.2 873.2 L721.0 876.0 L721.2 877.6 L721.4 879.5 L721.6 880.8 L722.0 881.6 L722.1 882.7 L722.4 885.0 L722.5 887.3 L722.8 888.5 L722.9 889.9 L723.3 891.4 L723.6 893.0 L724.0 890.5 L724.4 889.1 L725.0 888.0 L725.1 889.9 L725.4 890.8 L726.0 893.0 L726.2 894.7 L726.1 895.1 L726.3 897.4 L726.8 898.2 L727.0 900.0 L727.2 898.7 L727.6 896.2 L727.9 894.7 L728.0 892.7 L728.0 892.5 L728.4 890.0 L731.0 891.0 L733.0 889.0 L734.0 888.1 L734.5 885.4 L735.6 885.0 L736.6 883.1 L738.0 882.4 L738.9 884.0 L740.0 886.0 L740.8 887.1 L742.0 889.0 L743.6 888.7 L745.0 889.6 L747.6 891.0 L749.0 889.4 L750.0 887.6 L752.4 886.0 L753.8 884.7 L755.0 884.4 L756.3 883.6 L757.6 882.0 L760.0 881.0 L761.1 879.0 L762.4 879.0 L763.0 878.1 L763.2 875.1 L763.9 874.7 L763.9 872.5 L764.4 872.1 L765.0 870.0 L767.0 872.0 L767.5 871.2 L768.5 867.8 L769.0 867.0 L770.1 864.8 L771.0 863.0 L771.6 861.9 L771.9 858.7 L772.7 857.6 L773.0 856.0 L773.6 854.8 L773.9 853.5 L774.3 851.1 L774.4 850.0 L775.0 848.0 L775.1 846.4 L775.5 844.1 L775.6 842.3 L775.7 842.2 L775.6 840.1 L776.1 838.7 L776.0 836.3 L775.9 834.9 L776.2 833.0 L776.4 832.0 L776.6 829.6 L777.0 829.0 L777.1 826.5 L777.5 825.2 L778.0 823.4 L778.0 822.0 L778.3 824.5 L778.6 825.6 L779.1 827.9 L779.6 829.0 L780.6 831.0 L781.6 832.0 L781.5 833.9 L781.8 835.1 L782.0 837.4 L781.8 837.9 L782.0 839.3 L782.0 841.0 L782.1 843.4 L782.4 843.8 L782.4 846.1 L782.5 847.1 L782.5 848.3 L783.0 851.4 L782.7 852.9 L783.0 854.0 L783.6 852.6 L783.5 851.0 L784.0 848.9 L784.4 847.0 L784.9 846.8 L785.0 845.0 L786.1 847.4 L787.0 848.0 L789.6 847.0 L790.9 847.5 L792.0 849.0 L792.4 846.5 L792.8 846.0 L793.7 843.3 L794.0 842.0 L794.2 840.6 L794.8 839.5 L794.8 837.6 L795.5 835.8 L795.6 833.0 L796.0 832.0 L797.2 833.1 L798.0 835.0 L798.6 833.4 L799.3 832.3 L800.0 830.0 L800.2 827.4 L800.7 826.9 L801.2 825.4 L801.5 824.2 L801.7 821.7 L802.0 820.0 L802.2 818.1 L802.7 816.2 L803.1 814.8 L803.3 814.9 L803.5 811.6 L804.0 811.0 L805.0 808.4 L806.0 807.0 L807.6 805.5 L809.0 806.0 L810.5 807.7 L811.6 808.0 L812.7 809.4 L813.6 811.0 L813.8 813.1 L814.3 814.3 L814.6 816.1 L815.0 818.0 L816.6 817.7 L818.0 816.0 L819.7 814.3 L821.0 814.0 L821.5 812.5 L822.2 810.9 L822.6 809.0 L823.3 808.3 L824.0 807.0 L825.2 809.2 L826.2 810.6 L827.0 811.0 L827.5 812.9 L827.6 813.5 L827.8 816.2 L827.8 817.8 L828.4 819.3 L828.4 821.0 L828.6 822.2 L828.6 825.0 L828.6 825.2 L829.0 827.4 L828.9 829.4 L829.1 830.9 L829.3 832.4 L829.5 833.8 L829.6 835.6 L829.6 833.3 L830.2 832.4 L830.0 831.4 L830.3 828.2 L830.6 826.8 L830.8 825.8 L831.0 824.0 L831.4 822.6 L831.8 821.0 L832.5 818.7 L833.0 818.0 L833.5 818.9 L834.0 822.2 L834.5 823.7 L835.0 825.0 L836.0 825.6 L837.0 828.1 L837.6 829.0 L838.6 831.2 L840.0 832.0 L841.1 832.3 L842.4 834.0 L843.5 832.5 L844.3 829.9 L845.0 829.0 L846.1 830.1 L847.0 833.0 L847.7 831.1 L848.5 829.9 L849.6 828.0 L849.9 826.0 L850.7 824.7 L851.2 823.4 L851.7 821.7 L852.0 820.0 L853.0 819.4 L853.4 817.8 L854.4 816.0 L855.3 815.0 L856.4 813.0 L857.8 815.0 L859.0 815.6 L860.1 814.0 L861.6 813.0 L862.2 815.4 L862.7 815.1 L863.2 816.7 L863.6 819.0 L864.3 821.3 L864.7 823.2 L865.6 824.0 L866.5 821.8 L867.0 820.6 L868.0 819.0 L869.7 819.5 L871.0 819.6 L872.3 818.0 L874.0 818.4 L876.4 820.0 L877.5 819.8 L879.0 818.4 L880.3 818.1 L882.0 817.6 L883.4 818.2 L885.0 818.0 L886.4 816.8 L888.0 817.0 L889.7 817.4 L891.0 817.6 L892.6 817.2 L894.0 815.6 L895.7 813.8 L897.0 814.0 L897.8 811.8 L898.7 811.8 L899.6 809.6 L900.6 807.1 L901.0 807.2 L902.0 805.0 L902.8 806.3 L903.3 807.4 L904.0 809.6 L905.7 808.6 L907.0 808.0 L908.7 808.0 L910.0 807.6 L912.4 806.0 L913.5 806.7 L915.0 808.0 L917.6 807.0 L918.1 809.6 L919.0 809.7 L919.6 812.4 L922.0 811.0 L922.3 809.0 L923.0 807.7 L923.4 805.5 L924.0 804.0 L923.9 802.6 L924.3 799.9 L924.5 800.3 L924.5 797.1 L925.0 795.8 L925.0 794.7 L925.1 793.2 L925.4 792.5 L925.6 790.0 L926.6 787.7 L927.2 787.9 L928.0 786.0 L928.7 785.0 L929.1 783.3 L929.4 781.1 L930.0 780.0 L931.6 779.7 L933.0 778.0 L933.9 776.7 L934.2 775.2 L935.0 773.0 L935.3 771.4 L935.4 769.5 L935.6 767.9 L935.5 766.2 L935.8 765.9 L936.0 763.0 L936.1 761.1 L936.4 760.0 L936.5 757.8 L936.6 757.7 L937.0 755.4 L937.2 753.6 L937.2 751.6 L937.5 750.6 L937.9 749.6 L938.0 748.0 L939.2 746.2 L940.0 745.0 L940.4 746.7 L940.1 747.4 L940.5 750.5 L940.6 751.5 L940.8 753.2 L940.7 754.0 L941.3 755.1 L941.2 756.0 L941.3 758.0 L941.6 760.0 L941.8 761.0 L941.8 762.6 L942.1 765.5 L942.2 765.8 L942.4 768.9 L942.5 768.8 L942.7 772.0 L942.6 772.1 L942.7 774.5 L943.0 776.0 L943.4 774.6 L943.7 772.1 L943.6 771.5 L944.0 769.1 L944.3 767.3 L944.4 766.0 L946.4 767.0 L946.7 765.1 L947.2 763.8 L947.8 761.7 L948.4 760.0 L949.2 757.5 L950.0 756.0 L950.4 756.8 L951.0 759.6 L951.4 760.4 L951.6 763.0 L952.7 765.4 L953.6 767.0 L954.3 764.9 L955.0 763.6 L956.0 763.0 L958.4 762.4 L959.8 760.4 L961.0 760.0 L962.5 761.0 L963.6 762.4 L966.0 763.6 L967.5 764.2 L969.0 764.4 L969.4 766.2 L969.9 767.1 L970.3 768.5 L970.7 771.0 L971.0 772.0 L971.3 773.2 L971.4 776.1 L971.4 776.2 L971.6 779.1 L971.5 778.8 L971.8 781.7 L972.1 782.6 L972.4 783.9 L972.4 785.2 L972.4 787.6 L972.5 785.1 L972.8 784.2 L973.4 781.8 L973.9 780.5 L974.0 779.0 L975.3 777.7 L977.0 777.6 L978.6 779.6 L980.0 780.0 L981.8 778.1 L984.0 778.0 L986.1 778.0 L988.0 779.0 L990.2 780.0 L992.0 781.0 L992.9 779.0 L993.8 777.6 L994.4 776.0 L995.0 775.3 L995.5 773.5 L996.1 771.8 L997.0 770.0 L998.5 771.5 L1000.0 771.6 L1001.3 772.4 L1003.0 773.0 L1004.3 774.7 L1005.9 775.0 L1007.0 775.6 L1008.9 774.3 L1011.0 774.0 L1012.9 773.4 L1015.0 773.0 L1016.9 771.9 L1019.0 772.0 L1020.1 771.0 L1020.9 770.3 L1022.0 768.0 L1023.4 767.6 L1025.0 767.0 L1026.3 768.7 L1028.0 769.0 L1029.2 767.2 L1030.1 767.0 L1031.0 765.0 L1031.5 763.2 L1032.3 762.8 L1032.8 760.9 L1033.6 759.0 L1034.2 757.2 L1034.8 756.3 L1035.3 754.5 L1036.0 752.0 L1036.7 754.2 L1037.8 754.7 L1038.4 757.0 L1039.9 756.5 L1041.0 754.0 L1042.4 753.5 L1044.0 755.0 L1044.8 754.3 L1045.8 752.5 L1047.0 750.0 L1048.3 750.0 L1050.0 749.0 L1051.0 749.6 L1052.4 751.6 L1054.1 750.0 L1055.6 750.0 L1056.5 749.5 L1057.6 748.1 L1058.4 746.0 L1060.4 745.6 L1062.0 747.0 L1063.4 746.6 L1065.0 745.0 L1066.6 743.6 L1068.0 744.0 L1069.5 742.5 L1071.0 742.0 L1071.6 739.5 L1072.1 739.6 L1073.0 737.0 L1073.1 736.3 L1073.3 734.0 L1073.5 732.4 L1073.8 731.4 L1074.0 730.0 L1074.4 728.0 L1074.7 725.6 L1075.0 724.8 L1075.6 722.9 L1075.5 722.5 L1076.0 720.0 L1077.4 719.0 L1078.4 717.0 L1079.1 714.9 L1080.0 714.0 L1080.2 711.5 L1080.4 710.8 L1080.9 709.3 L1081.2 706.6 L1081.6 706.0 L1082.0 704.6 L1082.3 702.6 L1082.7 701.7 L1083.0 699.0 L1083.3 700.9 L1083.2 701.6 L1083.4 704.4 L1083.5 704.8 L1083.7 705.8 L1084.1 707.0 L1084.0 710.4 L1084.0 711.2 L1084.2 712.0 L1084.4 714.0 L1084.4 714.9 L1085.0 717.8 L1085.2 718.0 L1085.3 720.1 L1085.5 722.2 L1085.5 724.7 L1085.6 725.9 L1086.0 727.0 L1086.4 728.5 L1086.4 731.0 L1086.5 731.8 L1086.9 732.8 L1087.1 734.3 L1087.2 736.2 L1087.5 737.1 L1087.7 739.1 L1087.7 740.7 L1088.0 742.0 L1088.1 741.3 L1088.4 739.3 L1088.7 737.3 L1088.7 735.1 L1089.3 734.3 L1089.3 732.7 L1089.7 730.6 L1089.6 730.2 L1090.0 728.0 L1092.4 727.0 L1093.2 725.9 L1094.3 725.1 L1095.0 723.0 L1096.5 723.1 L1097.6 725.0 L1100.0 724.0 L1100.4 722.9 L1101.2 719.7 L1101.3 718.3 L1102.0 717.0 L1102.3 715.2 L1103.2 714.0 L1103.5 711.7 L1104.0 711.0 L1104.9 710.5 L1106.0 708.0 L1106.7 709.5 L1107.2 711.8 L1107.9 712.1 L1108.4 714.4 L1109.8 712.9 L1111.0 712.0 L1112.0 710.0 L1113.0 709.0 L1113.6 707.0 L1114.3 704.7 L1115.0 704.0 L1115.5 702.5 L1116.0 700.2 L1116.9 698.7 L1117.3 697.1 L1118.0 696.0 L1120.0 694.0 L1120.8 691.7 L1121.3 691.7 L1121.7 689.3 L1122.4 688.0 L1123.4 686.8 L1124.1 684.2 L1125.0 683.6 L1126.0 684.5 L1127.0 686.0 L1127.6 687.1 L1128.0 689.3 L1128.7 690.2 L1129.0 692.0 L1129.1 693.8 L1129.6 694.6 L1129.8 697.2 L1129.7 698.7 L1130.0 700.0 L1130.1 697.6 L1130.4 696.8 L1130.5 695.5 L1130.8 694.5 L1130.5 692.7 L1130.9 690.9 L1131.2 689.3 L1131.2 688.0 L1132.4 687.0 L1132.6 689.4 L1132.8 690.2 L1133.0 692.5 L1133.3 694.0 L1133.4 694.2 L1133.7 696.9 L1133.9 698.9 L1134.0 700.0 L1134.0 701.0 L1134.1 703.7 L1134.2 703.8 L1134.7 706.3 L1134.5 708.1 L1135.0 709.2 L1134.8 711.2 L1135.1 712.5 L1135.6 714.5 L1135.6 714.7 L1135.6 717.0 L1135.6 715.5 L1135.6 715.0 L1135.8 712.0 L1136.0 710.5 L1136.4 709.6 L1136.3 707.8 L1136.2 706.1 L1136.7 705.6 L1136.9 703.0 L1136.8 702.0 L1136.8 702.6 L1137.0 704.7 L1137.1 706.5 L1137.2 707.7 L1137.5 708.9 L1137.6 711.1 L1137.3 712.1 L1137.6 713.8 L1137.7 715.1 L1137.7 717.6 L1137.8 718.9 L1138.0 720.0 L1138.8 721.7 L1139.2 723.0 L1139.5 722.4 L1139.8 720.8 L1139.9 718.4 L1140.5 716.1 L1140.9 714.6 L1141.0 714.0 L1141.5 711.6 L1142.2 710.6 L1142.7 708.7 L1143.0 707.0 L1143.6 705.6 L1143.9 702.9 L1144.7 701.0 L1145.0 700.0 L1145.9 697.7 L1146.1 695.9 L1147.0 695.0 L1148.1 694.8 L1149.0 693.1 L1150.0 691.6 L1152.4 691.0 L1153.1 693.1 L1154.2 693.0 L1155.0 695.0 L1155.6 694.1 L1156.5 693.0 L1157.6 691.0 L1158.7 689.0 L1160.0 688.0 L1160.5 686.0 L1161.0 684.1 L1161.6 682.8 L1162.1 680.9 L1162.4 680.0 L1163.2 679.2 L1163.6 675.6 L1164.3 675.0 L1165.0 673.0 L1165.4 671.3 L1165.8 669.4 L1166.6 667.6 L1167.0 666.0 L1167.6 663.6 L1168.2 662.0 L1168.8 662.2 L1169.3 659.7 L1169.6 658.0 L1169.8 656.1 L1170.4 654.9 L1170.8 652.5 L1171.0 652.4 L1171.4 650.2 L1171.5 647.9 L1172.0 647.0 L1172.6 646.1 L1173.5 643.1 L1174.0 642.0 L1174.7 642.8 L1175.0 646.4 L1175.4 648.1 L1176.0 649.0 L1176.6 646.4 L1177.0 645.6 L1177.6 644.0 L1177.7 642.8 L1177.9 641.2 L1178.2 638.1 L1178.6 636.5 L1178.8 636.2 L1179.0 634.0 L1179.2 632.4 L1179.2 631.0 L1179.4 629.8 L1179.6 628.2 L1179.9 626.2 L1180.3 624.3 L1180.2 624.4 L1180.5 622.7 L1181.0 620.5 L1181.0 619.0 L1181.1 616.5 L1181.7 614.9 L1181.7 614.1 L1181.7 612.3 L1182.0 610.7 L1182.4 609.0 L1182.7 610.2 L1182.8 611.8 L1183.1 612.8 L1183.3 615.7 L1183.7 617.3 L1184.0 618.0 L1184.0 620.4 L1184.4 621.6 L1184.6 622.9 L1184.7 624.5 L1184.8 625.0 L1185.2 627.0 L1185.2 625.2 L1185.7 623.4 L1186.2 621.5 L1186.3 620.2 L1186.5 619.7 L1186.8 616.7 L1187.0 616.0 L1187.3 614.6 L1188.0 611.9 L1188.3 611.6 L1188.8 609.3 L1189.0 608.0 L1189.5 606.3 L1189.9 603.7 L1190.2 602.8 L1190.3 600.5 L1190.5 600.1 L1191.0 598.0 L1191.4 595.6 L1191.6 593.9 L1191.8 592.4 L1192.2 592.3 L1192.9 590.2 L1193.0 588.0 L1193.7 590.0 L1194.4 592.0 L1194.7 591.3 L1194.9 589.3 L1194.8 587.8 L1195.4 586.6 L1195.2 584.9 L1195.6 583.0 L1195.7 583.8 L1196.1 586.3 L1196.1 586.8 L1196.3 589.9 L1196.5 591.0 L1196.6 592.6 L1196.6 593.4 L1196.9 595.6 L1197.0 596.1 L1197.0 598.0 L1197.5 599.6 L1197.7 600.2 L1197.9 603.1 L1197.8 604.7 L1198.0 604.9 L1198.4 607.0 L1198.6 605.0 L1198.9 604.8 L1199.3 602.9 L1199.4 601.6 L1199.9 599.9 L1200.0 598.0 L1201.2 596.7 L1202.0 594.0 L1203.0 594.7 L1204.0 597.0 L1204.4 599.3 L1204.6 600.5 L1205.2 602.6 L1205.1 603.6 L1205.4 604.6 L1206.0 607.0 L1207.2 605.3 L1208.0 604.0 L1210.0 606.0 L1210.7 604.4 L1211.1 602.4 L1211.7 602.2 L1212.4 600.0 L1214.4 602.0 L1214.8 603.1 L1214.9 604.5 L1215.5 606.4 L1215.8 608.6 L1215.9 609.9 L1216.4 611.0 L1216.7 613.1 L1217.2 613.5 L1218.1 615.2 L1218.4 617.0 L1218.4 619.3 L1218.7 620.9 L1218.7 621.6 L1219.1 623.2 L1219.3 624.1 L1219.3 625.6 L1219.3 626.8 L1219.2 630.2 L1219.5 631.5 L1219.5 632.1 L1219.6 634.0 L1220.1 635.5 L1220.0 637.0 L1220.0 636.3 L1220.4 634.2 L1220.1 632.5 L1220.4 631.6 L1220.4 629.4 L1220.7 627.3 L1220.7 626.3 L1221.0 624.3 L1220.8 623.7 L1220.8 621.8 L1221.2 619.7 L1221.2 618.0 L1221.3 617.0 L1221.6 615.5 L1221.6 612.6 L1221.5 611.3 L1221.9 611.3 L1221.6 609.2 L1221.9 606.6 L1221.9 606.5 L1222.2 604.1 L1222.3 602.6 L1222.3 601.3 L1222.4 600.0 L1222.9 598.7 L1223.0 597.2 L1223.0 596.2 L1223.4 594.1 L1223.4 591.5 L1223.8 591.2 L1224.0 589.0 L1224.9 590.2 L1225.6 592.0 L1225.6 593.6 L1226.2 594.5 L1226.3 596.1 L1226.3 597.4 L1226.5 599.6 L1227.0 602.4 L1227.0 603.0 L1227.2 601.1 L1227.9 599.4 L1227.9 598.4 L1228.1 596.5 L1228.6 595.3 L1229.0 594.0 L1229.9 592.0 L1230.2 591.8 L1230.9 590.2 L1231.6 588.0 L1232.0 590.1 L1232.2 590.3 L1232.8 592.4 L1233.0 594.0 L1233.2 592.7 L1233.4 590.4 L1233.4 590.0 L1233.6 587.2 L1233.8 585.5 L1234.0 583.5 L1234.1 582.9 L1234.0 582.1 L1234.1 579.1 L1234.4 578.0 L1234.5 576.5 L1235.2 575.2 L1235.3 573.8 L1235.5 571.2 L1236.0 570.0 L1236.9 569.4 L1237.6 567.0 L1237.9 565.8 L1238.1 563.6 L1238.4 562.8 L1238.3 560.5 L1238.8 558.8 L1238.6 558.3 L1239.0 556.0 L1239.3 554.4 L1239.6 553.6 L1239.7 550.9 L1239.9 549.4 L1240.4 548.0 L1240.7 547.0 L1241.2 544.8 L1241.4 543.1 L1241.6 542.0 L1242.2 540.3 L1242.4 538.0 L1242.5 539.9 L1243.2 541.2 L1243.6 543.6 L1243.8 545.0 L1244.0 546.0 L1246.0 548.0 L1246.6 547.3 L1246.8 545.4 L1247.6 543.7 L1248.0 542.0 L1248.9 539.1 L1250.0 538.0 L1250.6 537.1 L1250.9 534.4 L1251.4 532.7 L1252.0 532.0 L1252.4 531.3 L1252.8 528.4 L1253.1 526.1 L1253.4 524.9 L1253.6 523.6 L1253.5 525.5 L1253.8 526.5 L1253.9 528.5 L1254.3 530.9 L1254.2 532.6 L1254.5 533.1 L1254.9 535.0 L1255.0 537.0 L1255.6 535.5 L1256.2 534.3 L1257.0 532.0 L1257.2 534.2 L1257.9 535.1 L1257.8 537.1 L1258.4 538.0 L1259.0 539.3 L1260.1 539.8 L1261.0 542.0 L1261.2 543.9 L1261.3 544.8 L1261.4 546.7 L1261.3 548.7 L1261.8 550.1 L1261.9 550.7 L1262.1 551.6 L1261.9 553.3 L1262.0 555.9 L1262.3 556.9 L1262.2 557.9 L1262.4 560.0 L1262.4 561.1 L1262.4 563.6 L1262.7 564.5 L1262.6 566.6 L1262.7 567.3 L1263.0 569.7 L1263.3 571.4 L1263.3 573.3 L1263.2 574.0 L1263.4 572.9 L1263.2 570.4 L1263.3 570.2 L1263.7 568.3 L1263.6 566.2 L1263.6 565.3 L1264.1 563.1 L1263.8 561.4 L1264.0 561.3 L1264.4 558.9 L1264.1 556.7 L1264.4 556.0 L1264.5 554.9 L1264.9 553.6 L1265.4 551.6 L1265.5 550.0 L1265.5 546.9 L1266.0 546.0 L1266.2 547.5 L1266.3 548.5 L1266.4 551.3 L1266.9 552.9 L1267.2 553.4 L1267.3 554.8 L1267.6 557.2 L1267.6 558.0 L1269.2 560.0 L1269.4 557.4 L1269.8 557.0 L1270.2 554.2 L1270.8 554.2 L1271.0 552.0 L1271.4 549.5 L1272.0 548.9 L1272.0 546.8 L1272.7 546.4 L1273.0 544.0 L1273.7 542.6 L1274.2 540.2 L1275.0 539.0 L1276.2 540.3 L1277.0 542.0 L1277.3 540.7 L1277.8 538.4 L1278.5 537.7 L1279.0 536.0 L1279.6 534.9 L1280.0 532.1 L1280.6 530.6 L1281.0 530.0 L1281.2 528.1 L1281.6 527.1 L1281.6 525.3 L1282.0 523.3 L1282.0 522.5 L1282.4 520.0 L1282.6 517.6 L1282.6 518.0 L1282.7 515.3 L1283.2 514.6 L1283.3 513.0 L1283.1 510.2 L1283.8 510.1 L1283.4 507.1 L1283.7 507.4 L1284.0 505.0 L1286.0 507.0 L1286.4 505.7 L1287.3 503.9 L1287.6 502.0 L1289.2 500.0 L1289.9 501.0 L1289.9 502.0 L1290.7 503.7 L1291.0 506.0 L1291.9 508.4 L1292.4 510.0 L1292.6 509.1 L1293.0 507.0 L1293.4 506.1 L1294.0 504.0 L1294.6 503.3 L1294.6 501.7 L1295.2 500.1 L1295.6 498.0 L1295.9 496.6 L1296.2 495.3 L1296.2 492.1 L1296.7 490.9 L1296.9 488.7 L1297.2 488.0 L1297.5 485.5 L1297.8 485.6 L1297.9 482.7 L1298.2 481.4 L1298.3 479.7 L1298.8 479.1 L1298.7 476.7 L1299.0 476.0 L1300.4 475.7 L1301.6 474.0 L1302.0 474.9 L1302.0 476.9 L1302.4 478.3 L1302.6 481.6 L1302.9 481.3 L1303.0 484.0 L1303.0 484.9 L1303.6 487.5 L1303.7 488.9 L1303.9 490.9 L1304.2 493.2 L1304.4 494.0 L1304.7 496.2 L1305.0 497.9 L1305.1 497.9 L1305.3 501.1 L1305.4 502.0 L1305.5 501.2 L1305.5 499.8 L1305.7 497.7 L1305.7 495.4 L1305.9 493.9 L1305.9 492.6 L1306.4 491.4 L1306.5 490.1 L1306.4 488.0 L1306.7 487.5 L1306.8 484.5 L1306.7 483.3 L1306.7 481.5 L1307.3 481.3 L1307.1 479.5 L1307.5 478.3 L1307.6 476.1 L1307.4 475.2 L1307.6 473.3 L1307.8 471.6 L1308.0 470.0 L1308.9 467.7 L1309.3 467.0 L1310.0 465.0 L1311.2 464.4 L1312.4 462.0 L1313.6 464.0 L1313.7 463.3 L1314.0 461.9 L1313.9 458.9 L1314.2 458.8 L1314.2 456.0 L1314.8 456.0 L1314.7 453.4 L1315.0 452.0 L1315.3 450.8 L1315.5 449.4 L1315.5 446.8 L1315.6 446.1 L1315.9 443.7 L1316.4 442.9 L1316.4 441.0 L1317.2 439.8 L1318.0 438.0 L1318.2 436.9 L1318.3 434.1 L1318.4 432.5 L1318.7 431.3 L1318.8 430.5 L1319.4 429.4 L1319.3 428.0 L1319.6 426.0 L1319.8 423.6 L1320.1 422.6 L1320.7 421.1 L1321.0 418.8 L1321.2 418.0 L1321.5 416.2 L1321.5 414.1 L1321.6 413.0 L1321.6 412.6 L1321.6 410.1 L1321.4 408.4 L1321.9 406.8 L1321.8 406.2 L1321.9 403.9 L1321.7 402.2 L1322.2 401.3 L1322.0 400.0 L1322.1 398.6 L1322.0 396.0 L1321.9 396.0 L1322.1 394.7 L1322.2 392.6 L1322.2 391.2 L1322.3 388.8 L1322.5 386.7 L1322.4 386.5 L1322.5 384.1 L1322.8 382.3 L1322.6 380.7 L1322.8 379.4 L1322.9 378.1 L1323.1 375.7 L1323.0 375.0 L1323.2 377.2 L1323.1 377.1 L1323.3 378.7 L1323.4 381.4 L1323.3 381.7 L1323.6 383.3 L1323.6 385.4 L1323.6 386.1 L1323.8 388.4 L1324.0 390.0 L1324.4 388.6 L1324.1 386.3 L1324.7 385.5 L1324.9 384.7 L1325.1 381.4 L1325.3 380.7 L1325.1 378.5 L1325.6 377.0 L1325.6 376.0 L1326.1 377.0 L1327.0 379.0 L1327.4 377.4 L1327.6 375.1 L1327.7 374.1 L1327.8 373.3 L1328.1 370.7 L1328.4 370.0 L1328.8 368.4 L1328.6 365.9 L1329.0 365.3 L1328.8 363.7 L1329.4 362.2 L1329.3 360.6 L1329.6 359.0 L1330.0 361.1 L1330.1 363.1 L1330.9 364.7 L1331.0 366.0 L1331.4 367.4 L1331.6 368.6 L1331.4 371.1 L1331.9 371.7 L1331.7 373.2 L1332.0 375.0 L1332.1 377.9 L1332.4 379.0 L1332.6 381.5 L1332.6 382.5 L1332.6 384.6 L1332.8 385.3 L1333.1 387.8 L1333.2 389.5 L1333.4 389.5 L1333.6 391.1 L1333.8 393.2 L1333.6 395.8 L1333.8 396.2 L1334.0 398.0 L1334.1 396.8 L1334.2 394.7 L1334.4 394.2 L1334.6 392.2 L1334.9 390.4 L1335.2 389.4 L1335.2 387.0 L1335.6 386.0 L1336.1 388.9 L1337.0 390.0 L1337.1 390.9 L1337.5 393.5 L1337.9 394.1 L1337.8 396.0 L1338.2 398.2 L1338.4 400.0 L1338.6 402.4 L1338.9 404.1 L1339.2 404.5 L1339.4 406.5 L1339.2 409.2 L1339.6 410.0 L1339.6 407.5 L1339.8 406.6 L1340.4 406.2 L1340.3 404.1 L1340.6 403.1 L1340.7 401.0 L1340.6 399.0 L1341.0 398.0 L1341.3 396.5 L1341.6 395.5 L1341.9 392.4 L1341.7 392.1 L1342.2 389.0 L1342.4 388.0 L1342.7 386.0 L1342.7 384.7 L1343.0 383.9 L1343.0 382.5 L1343.5 380.4 L1343.7 379.6 L1343.6 377.5 L1344.0 376.0 L1344.5 378.2 L1344.9 378.9 L1345.4 381.8 L1345.6 383.0 L1345.7 384.4 L1346.2 385.6 L1346.2 388.6 L1346.6 388.8 L1346.7 390.6 L1346.9 393.0 L1347.0 394.0 L1347.0 395.1 L1347.3 396.9 L1347.5 398.3 L1347.9 400.5 L1348.0 402.5 L1348.4 404.0 L1349.0 402.7 L1349.1 401.4 L1349.6 398.9 L1350.0 398.0 L1350.2 398.6 L1350.4 400.5 L1350.4 403.7 L1350.8 405.1 L1350.9 406.3 L1351.1 408.5 L1351.0 409.7 L1351.2 410.3 L1351.6 412.6 L1351.6 414.0 L1351.9 416.3 L1351.8 416.4 L1351.7 418.6 L1352.1 419.5 L1351.9 420.5 L1352.0 423.4 L1352.1 424.0 L1352.4 426.0 L1352.4 424.8 L1353.0 421.8 L1352.7 422.1 L1353.3 418.9 L1353.1 418.0 L1353.3 416.2 L1353.5 414.3 L1353.5 412.4 L1353.7 410.8 L1354.0 410.0 L1354.2 411.9 L1354.2 413.7 L1354.6 414.4 L1354.7 415.6 L1355.1 417.9 L1354.8 418.6 L1355.3 420.7 L1355.5 421.9 L1355.6 424.0 L1356.2 426.3 L1356.3 427.5 L1357.0 429.0 L1357.3 427.7 L1358.2 426.1 L1358.4 422.9 L1359.0 422.0 L1359.3 423.8 L1359.3 424.7 L1359.7 426.2 L1360.0 428.1 L1360.0 430.2 L1360.4 432.0 L1360.7 434.0 L1360.8 435.6 L1361.2 436.4 L1361.7 438.8 L1362.0 440.0 L1362.3 442.3 L1362.4 442.6 L1362.9 444.0 L1362.9 445.5 L1363.5 448.2 L1363.6 449.0 L1363.9 451.5 L1364.1 451.8 L1364.1 454.2 L1364.2 455.5 L1364.4 456.0 L1364.8 457.7 L1365.0 460.0 L1365.3 462.3 L1365.1 462.4 L1365.0 464.5 L1365.3 465.7 L1365.4 467.6 L1365.5 468.2 L1365.2 470.3 L1365.5 471.5 L1365.6 472.9 L1365.5 475.0 L1365.8 477.0 L1365.7 477.9 L1366.0 480.4 L1365.9 480.2 L1365.9 482.8 L1366.0 484.0 L1366.0 481.5 L1366.4 481.7 L1366.0 479.3 L1366.4 477.4 L1366.2 476.8 L1366.6 474.6 L1366.3 473.0 L1366.4 472.6 L1366.5 469.7 L1366.9 467.9 L1366.6 466.2 L1366.8 465.6 L1367.0 464.0 L1367.9 465.3 L1368.4 468.0 L1368.5 466.9 L1368.9 464.3 L1369.0 462.5 L1369.7 460.6 L1369.6 460.1 L1370.0 458.0 L1370.5 457.1 L1370.5 455.6 L1370.9 452.6 L1371.0 451.8 L1371.5 448.9 L1371.6 448.0 L1371.6 447.4 L1371.8 445.6 L1372.0 443.0 L1372.2 441.9 L1372.7 439.8 L1372.8 438.6 L1372.7 438.0 L1373.0 436.0 L1373.2 433.7 L1373.4 433.3 L1373.9 431.1 L1373.7 429.9 L1374.2 428.5 L1374.4 426.0 L1376.0 424.0 L1376.5 425.3 L1376.8 427.8 L1376.8 428.5 L1377.2 430.1 L1377.6 432.0 L1377.9 432.7 L1378.2 435.8 L1378.6 436.8 L1379.0 438.0 L1379.5 440.2 L1379.5 442.2 L1380.0 443.0 L1380.4 442.5 L1380.6 440.5 L1381.0 438.0 L1381.1 436.8 L1381.5 434.8 L1381.6 434.0 L1381.9 432.1 L1382.3 430.5 L1382.6 429.9 L1382.9 426.9 L1383.0 426.0 L1384.2 424.5 L1385.0 422.0 L1385.4 423.8 L1385.5 425.7 L1386.1 426.4 L1386.4 428.0 L1386.5 430.2 L1386.9 432.1 L1386.9 432.7 L1387.1 433.9 L1387.3 435.4 L1387.6 438.0 L1388.0 439.1 L1387.9 440.3 L1388.6 442.2 L1388.7 444.2 L1389.0 446.0 L1389.5 448.4 L1389.6 449.3 L1390.2 450.4 L1390.4 452.0 L1390.9 454.0 L1390.9 455.7 L1391.3 455.7 L1391.6 458.0 L1392.1 460.3 L1392.5 461.3 L1393.0 463.0 L1393.7 465.8 L1394.4 467.0 L1394.7 464.8 L1394.8 463.6 L1395.3 462.7 L1395.1 461.5 L1395.3 459.3 L1395.7 458.0 L1396.0 456.0 L1397.6 454.0 L1398.3 455.2 L1399.0 458.0 L1399.4 460.1 L1399.8 460.7 L1399.9 463.0 L1400.4 464.0 L1400.9 465.0 L1401.2 468.2 L1401.3 468.6 L1401.8 471.3 L1402.0 472.0 L1402.1 473.2 L1402.4 475.6 L1402.5 476.8 L1402.9 478.6 L1403.0 480.8 L1403.6 481.6 L1403.6 483.0 L1404.1 480.6 L1404.6 479.6 L1404.9 478.5 L1405.2 476.0 L1405.5 478.4 L1405.7 478.2 L1406.2 481.6 L1406.7 483.3 L1406.8 484.0 L1407.3 486.3 L1407.9 486.2 L1408.4 488.4 L1410.0 486.0 L1411.6 484.0 L1411.8 483.0 L1411.8 481.0 L1411.9 478.8 L1412.1 477.6 L1412.3 475.2 L1412.2 474.1 L1412.7 473.3 L1412.6 470.7 L1412.9 469.0 L1413.0 468.0 L1413.4 467.3 L1413.6 465.2 L1414.2 464.0 L1414.4 462.0 L1415.3 463.9 L1416.0 465.0 L1416.3 463.9 L1417.0 460.6 L1417.4 459.6 L1417.6 458.0 L1418.1 455.1 L1419.0 454.0 L1419.5 452.9 L1419.5 450.9 L1420.1 450.5 L1420.4 448.0 L1420.7 446.9 L1421.1 444.1 L1421.6 443.0 L1421.8 444.6 L1422.4 446.1 L1422.5 447.7 L1423.0 450.0 L1425.0 448.0 L1427.0 446.0 L1427.8 443.4 L1429.0 442.0 L1429.6 443.5 L1430.4 445.0 L1430.8 446.6 L1431.4 449.3 L1432.0 450.0 L1432.4 452.4 L1432.8 452.4 L1433.2 453.8 L1433.6 456.0 L1434.4 457.1 L1435.6 460.0 L1437.6 462.0 L1438.7 461.4 L1439.6 459.0 L1439.9 460.5 L1440.3 462.2 L1440.7 464.0 L1441.0 466.0 L1441.2 468.2 L1441.7 468.0 L1442.2 471.0 L1442.4 472.0 L1443.1 474.3 L1444.0 476.0 L1445.0 477.3 L1445.6 479.0 L1446.2 476.9 L1447.0 476.0 L1447.6 474.0 L1448.7 473.4 L1449.6 471.0 L1452.0 471.0 L1452.2 472.5 L1453.0 475.1 L1453.2 476.6 L1453.6 478.0 L1453.8 480.5 L1454.2 481.0 L1454.3 482.0 L1454.9 485.0 L1455.0 486.0 L1455.2 487.2 L1455.8 489.2 L1456.1 491.6 L1456.5 492.5 L1457.0 494.0 L1457.7 492.8 L1458.0 490.7 L1458.4 489.7 L1459.0 488.0 L1461.0 489.0 L1462.4 487.0 L1462.8 488.1 L1462.8 489.9 L1463.0 492.5 L1463.3 492.8 L1463.5 495.5 L1463.6 496.8 L1464.0 498.0 L1466.0 496.0 L1466.3 496.9 L1466.8 499.6 L1467.3 500.0 L1468.0 502.0 L1468.2 499.9 L1468.9 499.2 L1469.4 498.1 L1469.6 496.4 L1470.0 494.0 L1470.5 493.2 L1471.3 490.1 L1472.0 489.0 L1472.9 488.4 L1473.5 485.5 L1474.4 485.0 L1475.0 487.3 L1475.2 489.5 L1475.4 489.4 L1476.0 492.0 L1476.8 493.0 L1478.0 496.0 L1478.4 494.7 L1478.4 492.1 L1478.8 491.4 L1479.4 490.5 L1479.6 488.0 L1479.8 487.3 L1480.0 484.4 L1480.2 482.5 L1480.8 482.3 L1480.9 479.0 L1481.0 478.0 L1481.8 475.8 L1483.0 475.0 L1483.6 473.8 L1484.1 471.7 L1485.0 470.0 L1485.3 467.3 L1485.4 467.1 L1485.7 464.7 L1486.1 463.3 L1486.1 461.1 L1486.4 459.6 L1487.0 461.9 L1487.4 462.9 L1487.4 463.8 L1488.0 466.0 L1490.0 464.0 L1490.3 465.9 L1490.6 467.6 L1491.3 468.5 L1491.6 470.0 L1491.7 472.1 L1492.3 473.3 L1492.7 475.0 L1493.0 476.0 L1493.4 478.5 L1494.0 480.1 L1494.3 480.4 L1494.5 481.9 L1495.0 484.0 L1495.6 486.2 L1495.9 487.8 L1496.4 489.2 L1496.5 490.9 L1497.0 492.0 L1497.5 493.9 L1498.2 496.0 L1499.0 497.0 L1500.0 495.1 L1501.0 494.0 L1503.0 495.0 L1504.2 492.2 L1505.0 491.0 L1507.0 493.0 L1507.7 492.0 L1507.8 490.5 L1508.5 489.3 L1509.0 487.0 L1509.7 485.2 L1510.6 482.8 L1511.0 482.0 L1512.1 479.7 L1513.0 479.0 L1514.2 476.7 L1515.6 476.0 L1516.0 477.4 L1516.1 478.5 L1516.2 480.8 L1516.1 482.0 L1516.6 482.9 L1516.7 484.6 L1516.8 487.3 L1517.0 488.0 L1517.6 490.6 L1517.8 491.3 L1518.4 493.3 L1518.6 495.1 L1519.0 496.0 L1520.0 494.9 L1521.0 492.0 L1523.0 491.0 L1524.0 491.7 L1525.0 494.0 L1526.1 491.3 L1527.0 490.0 L1528.1 487.6 L1529.0 487.0 L1530.2 489.1 L1531.0 491.0 L1532.1 488.8 L1533.0 488.0 L1534.6 488.3 L1536.0 489.0 L1537.4 489.9 L1539.0 489.6 L1541.0 488.4 L1541.1 490.0 L1541.5 492.4 L1542.2 492.4 L1542.4 495.0 L1542.9 493.4 L1543.5 492.5 L1543.8 491.4 L1544.4 489.0 L1547.0 490.4 L1548.3 490.0 L1550.0 491.0 L1551.7 490.5 L1553.0 491.6 L1554.3 492.3 L1556.0 493.0 L1557.4 491.8 L1559.0 492.0 L1560.5 490.9 L1561.6 490.0 L1562.9 490.5 L1564.0 492.0 L1564.7 492.9 L1565.2 495.2 L1565.7 497.0 L1566.0 498.0 L1566.4 499.7 L1566.8 501.1 L1566.8 503.6 L1567.4 504.8 L1567.6 506.0 L1568.4 507.5 L1569.0 510.0 L1569.1 512.2 L1569.4 514.0 L1569.1 515.2 L1569.4 516.2 L1569.3 517.3 L1569.6 519.6 L1569.6 520.9 L1569.8 523.3 L1569.9 523.7 L1570.0 526.0 L1570.4 527.3 L1570.7 530.1 L1570.5 530.9 L1571.1 532.1 L1571.2 533.5 L1571.1 534.8 L1571.6 537.0 L1571.6 538.1 L1572.1 540.1 L1572.5 541.9 L1572.5 543.9 L1572.8 544.6 L1573.0 546.0 L1573.4 547.8 L1573.4 549.2 L1573.6 551.4 L1573.8 552.9 L1573.9 552.5 L1574.4 555.0 L1574.7 552.8 L1574.9 551.1 L1575.3 550.6 L1575.4 549.6 L1575.8 547.5 L1575.9 544.6 L1576.0 544.0 L1576.6 542.4 L1577.6 541.0 L1578.1 542.1 L1578.1 543.0 L1578.3 546.3 L1578.6 547.6 L1578.5 547.9 L1579.0 550.0 L1580.4 548.0 L1580.4 550.3 L1580.6 552.2 L1580.9 553.8 L1581.2 554.3 L1581.6 556.1 L1581.6 558.0 L1581.9 558.6 L1582.2 562.0 L1582.1 563.0 L1582.4 563.3 L1582.7 565.8 L1583.0 567.0 L1583.9 566.3 L1584.6 563.9 L1585.0 562.0 L1585.6 562.8 L1586.1 565.1 L1586.4 567.3 L1587.0 568.0 L1587.2 568.8 L1587.5 570.3 L1588.1 573.1 L1588.4 574.0 L1588.6 572.4 L1589.1 570.9 L1589.3 569.3 L1589.4 566.7 L1590.0 566.0 L1590.1 563.9 L1590.5 562.4 L1590.7 560.8 L1590.5 559.7 L1590.8 557.9 L1591.2 556.1 L1591.3 555.8 L1591.4 553.6 L1591.6 552.0 L1592.2 550.5 L1592.1 547.6 L1592.4 546.4 L1593.0 545.0 L1593.8 547.3 L1595.0 549.0 L1595.7 550.1 L1596.4 552.0 L1596.7 554.6 L1596.9 554.8 L1597.2 556.9 L1597.6 559.0 L1598.5 557.7 L1598.9 555.0 L1599.6 554.0 L1600.4 551.7 L1601.6 551.0 L1603.6 550.0 L1604.8 548.8 L1605.6 547.0 L1605.8 548.8 L1606.1 550.0 L1606.6 550.7 L1607.0 553.0 L1607.6 555.1 L1607.9 555.7 L1608.4 558.0 L1609.0 559.3 L1609.5 560.1 L1610.0 562.4 L1610.9 559.9 L1611.2 559.3 L1612.0 558.0 L1612.8 558.7 L1614.0 561.0 L1616.0 560.0 L1617.1 562.5 L1618.0 563.0 L1620.0 563.0 L1621.4 563.5 L1623.0 565.0 L1624.4 565.4 L1625.6 567.0 L1627.6 568.0 L1627.8 566.9 L1628.0 564.3 L1628.1 563.6 L1628.8 562.8 L1628.6 560.5 L1629.0 559.0 L1631.0 561.0 L1633.0 560.0 L1633.4 557.8 L1633.9 556.8 L1634.4 554.8 L1634.8 554.2 L1635.0 552.0 L1635.7 549.6 L1636.3 547.9 L1637.0 547.0 L1638.4 544.4 L1638.8 546.5 L1639.1 548.8 L1639.1 550.0 L1639.8 550.5 L1640.0 553.0 L1642.4 552.0 L1643.6 552.9 L1645.0 555.6 L1645.7 554.5 L1646.3 552.9 L1647.0 551.0 L1648.4 551.1 L1650.0 550.4 L1651.4 550.2 L1653.0 548.0 L1654.3 546.0 L1655.6 546.0 L1658.0 547.6 L1660.0 549.6 L1661.0 548.3 L1662.4 546.0 L1664.4 545.0 L1664.7 543.6 L1664.5 542.5 L1665.0 539.4 L1664.9 538.8 L1664.9 536.0 L1665.2 536.0 L1665.7 533.3 L1665.6 532.0 L1665.9 531.1 L1666.0 529.2 L1666.2 527.8 L1666.4 526.1 L1666.1 524.5 L1666.4 523.0 L1666.9 521.0 L1667.4 519.7 L1668.0 518.0 L1669.0 515.6 L1670.0 514.4 L1670.6 516.3 L1671.3 518.0 L1672.0 520.0 L1673.3 518.4 L1674.4 518.0 L1675.7 516.6 L1677.0 516.0 L1678.1 514.9 L1679.0 513.0 L1679.9 511.0 L1680.6 509.0 L1680.9 511.6 L1681.5 512.3 L1681.8 514.1 L1682.4 516.0 L1685.0 516.4 L1685.8 515.6 L1686.3 513.9 L1687.0 512.0 L1687.4 510.2 L1687.9 508.1 L1688.4 507.3 L1689.0 505.0 L1690.1 502.4 L1691.0 501.0 L1691.1 500.1 L1691.5 498.4 L1691.8 496.9 L1691.8 494.1 L1692.1 492.6 L1692.4 492.0 L1692.8 490.5 L1692.8 489.8 L1693.0 486.8 L1692.9 485.0 L1693.2 484.7 L1693.2 482.4 L1693.2 481.1 L1693.6 480.3 L1693.6 478.0 L1694.0 477.1 L1694.0 474.5 L1694.2 473.9 L1694.4 470.6 L1694.7 470.5 L1695.0 468.0 L1695.6 465.8 L1696.1 465.0 L1696.4 462.4 L1696.5 463.4 L1696.9 465.4 L1696.7 468.1 L1697.1 468.7 L1697.3 470.0 L1697.2 471.9 L1697.6 472.8 L1697.8 475.9 L1698.0 477.0 L1698.1 475.8 L1698.4 473.3 L1698.3 472.7 L1698.8 470.4 L1698.7 469.9 L1699.3 467.1 L1699.3 466.3 L1699.3 463.6 L1699.6 463.0 L1699.9 464.9 L1700.5 466.2 L1700.6 467.2 L1701.1 469.2 L1701.6 471.0 L1701.9 470.1 L1702.1 468.5 L1702.5 466.5 L1703.0 464.0 L1703.2 462.7 L1703.6 460.1 L1704.1 460.1 L1704.2 458.6 L1704.7 457.5 L1705.0 455.0 L1705.6 456.4 L1706.6 458.6 L1707.6 460.0 L1708.2 459.2 L1708.6 456.8 L1709.0 455.6 L1709.4 456.4 L1709.3 459.3 L1709.6 461.4 L1709.7 461.9 L1710.0 462.6 L1710.1 464.4 L1710.5 466.7 L1710.8 468.0 L1711.0 470.0 L1713.6 470.4 L1714.7 468.7 L1715.6 467.0 L1716.2 464.7 L1716.4 463.8 L1716.7 462.9 L1717.1 461.4 L1717.6 459.0 L1717.8 457.2 L1718.1 456.1 L1718.2 453.7 L1718.8 452.7 L1718.6 451.8 L1719.0 450.0 L1720.0 448.2 L1721.0 447.0 L1721.3 445.9 L1721.6 443.3 L1722.3 441.5 L1722.4 440.0 L1722.5 437.8 L1722.8 437.3 L1722.8 435.3 L1722.9 434.6 L1723.1 433.2 L1723.2 431.5 L1723.2 428.9 L1723.6 428.0 L1724.0 426.9 L1724.1 425.0 L1724.2 422.9 L1724.2 422.3 L1724.7 420.0 L1724.8 419.0 L1725.0 416.6 L1725.2 415.1 L1725.3 413.7 L1725.5 411.8 L1725.6 411.1 L1725.6 408.8 L1726.0 407.6 L1726.2 409.2 L1726.3 411.2 L1726.3 411.6 L1726.4 414.4 L1726.5 415.8 L1726.5 416.7 L1726.9 419.0 L1726.9 419.1 L1727.0 420.5 L1727.2 423.9 L1727.2 424.0 L1727.2 426.0 L1727.6 423.9 L1727.8 423.0 L1727.6 422.3 L1728.0 420.7 L1728.3 418.6 L1728.4 417.0 L1728.7 417.9 L1728.8 419.7 L1728.5 421.2 L1728.7 422.1 L1729.1 423.7 L1728.9 425.6 L1729.1 428.3 L1729.6 429.7 L1729.7 430.4 L1729.6 432.0 L1729.9 430.1 L1730.2 429.6 L1730.2 427.0 L1730.1 426.9 L1730.5 424.7 L1730.8 422.3 L1730.9 421.4 L1731.0 420.0 L1731.4 421.5 L1731.4 424.1 L1731.7 425.3 L1732.3 425.9 L1732.4 428.0 L1733.0 426.1 L1733.3 424.1 L1734.0 423.0 L1734.5 421.2 L1734.5 419.9 L1734.4 418.8 L1735.0 417.5 L1735.1 414.6 L1735.3 414.0 L1735.6 412.0 L1736.0 413.6 L1736.3 414.8 L1736.9 417.2 L1737.0 419.0 L1737.7 421.1 L1738.4 422.0 L1738.4 424.1 L1738.7 426.0 L1738.8 426.6 L1739.3 428.6 L1739.3 430.5 L1739.6 432.0 L1739.6 433.5 L1739.6 435.8 L1739.8 437.5 L1740.0 438.7 L1740.2 439.4 L1740.3 441.3 L1740.5 443.9 L1740.4 445.0 L1740.6 444.1 L1740.7 442.3 L1741.1 439.9 L1740.8 438.8 L1741.2 436.8 L1741.2 436.7 L1741.5 433.8 L1741.5 433.2 L1741.7 431.5 L1742.0 430.0 L1743.6 431.0 L1744.0 432.6 L1744.3 435.2 L1744.4 437.1 L1745.0 438.0 L1745.5 438.6 L1746.4 441.0 L1747.3 443.1 L1748.0 445.0 L1750.0 445.0 L1750.4 442.7 L1750.9 441.1 L1751.3 439.2 L1751.6 438.0 L1751.9 436.7 L1752.1 434.8 L1752.2 433.5 L1752.8 430.9 L1753.0 430.0 L1753.3 429.0 L1753.3 427.7 L1753.9 424.6 L1753.8 423.2 L1754.0 421.7 L1754.4 421.0 L1755.2 419.0 L1756.0 418.0 L1757.6 419.0 L1758.2 420.9 L1759.0 423.0 L1759.6 425.6 L1760.4 427.0 L1760.7 427.7 L1760.6 429.0 L1760.8 430.7 L1761.1 433.6 L1761.4 433.9 L1761.1 436.5 L1761.4 438.4 L1761.6 439.0 L1762.0 437.0 L1762.3 436.6 L1763.0 434.0 L1763.5 432.2 L1763.9 431.2 L1764.4 429.0 L1765.0 430.7 L1765.0 432.3 L1765.8 434.1 L1766.0 436.0 L1767.1 434.6 L1768.0 433.0 L1768.8 435.1 L1769.6 437.0 L1770.2 438.6 L1771.0 440.0 L1771.6 440.8 L1771.9 444.1 L1772.4 445.0 L1773.2 442.4 L1773.5 441.9 L1774.0 440.0 L1774.5 438.4 L1774.5 436.6 L1775.1 435.9 L1775.1 434.2 L1775.6 432.4 L1778.0 433.6 L1780.0 435.6 L1782.4 434.4 L1783.8 435.5 L1785.0 436.0 L1787.6 436.0 L1788.4 437.9 L1789.6 440.0 L1789.6 441.9 L1789.8 442.6 L1790.1 444.6 L1790.3 446.3 L1790.3 448.9 L1790.4 450.0 L1790.3 452.0 L1790.5 453.9 L1790.6 454.9 L1790.9 455.4 L1791.0 457.5 L1791.2 459.0 L1791.6 459.9 L1792.0 461.9 L1792.4 464.0 L1794.4 462.0 L1796.4 461.0 L1797.5 462.1 L1798.1 463.1 L1799.0 465.0 L1799.7 462.9 L1800.1 462.2 L1800.4 460.3 L1801.0 458.0 L1803.0 460.0 L1803.9 460.7 L1805.0 463.0 L1807.0 465.0 L1809.0 463.0 L1809.0 464.6 L1809.7 465.7 L1809.7 468.5 L1809.8 469.0 L1810.2 471.2 L1810.4 473.0 L1811.0 472.1 L1811.1 469.8 L1811.6 468.0 L1811.6 465.5 L1811.7 465.7 L1811.8 463.5 L1812.1 460.9 L1812.3 459.4 L1812.0 459.1 L1812.0 456.9 L1812.1 455.5 L1812.4 454.0 L1812.4 451.8 L1812.7 450.2 L1812.8 448.9 L1813.2 447.3 L1813.6 446.3 L1813.6 445.0 L1815.6 447.0 L1817.6 449.0 L1819.6 447.0 L1821.6 449.0 L1822.5 450.5 L1823.6 453.0 L1825.0 453.4 L1826.0 455.6 L1827.1 456.0 L1828.0 458.0 L1829.2 459.8 L1830.0 462.0 L1830.3 464.2 L1830.3 464.1 L1830.9 466.7 L1831.2 467.6 L1831.3 468.9 L1831.6 471.0 L1831.9 472.1 L1832.3 473.6 L1832.5 475.8 L1833.0 477.0 L1833.5 479.6 L1834.4 481.0 L1834.8 478.7 L1835.0 477.5 L1835.6 476.2 L1836.0 474.0 L1836.7 471.8 L1837.6 470.0 L1838.3 471.0 L1838.8 473.8 L1839.3 475.4 L1839.6 476.0 L1841.6 474.0 L1843.6 473.0 L1844.5 475.6 L1845.6 477.0 L1846.9 477.4 L1848.0 479.0 L1848.6 481.0 L1848.8 482.4 L1848.8 484.7 L1849.2 485.2 L1849.7 486.7 L1850.0 489.0 L1850.2 487.8 L1850.3 486.0 L1850.6 484.0 L1851.1 482.7 L1851.1 480.0 L1851.6 479.0 L1852.5 477.1 L1852.9 475.4 L1853.6 474.0 L1854.7 476.5 L1855.6 478.0 L1856.9 476.8 L1858.0 476.0 L1860.0 478.0 L1861.0 480.0 L1862.0 482.0 L1862.1 481.2 L1862.8 479.2 L1863.0 476.9 L1863.2 474.8 L1863.5 474.1 L1863.6 472.0 L1864.1 471.1 L1864.3 468.3 L1864.6 467.2 L1864.6 465.3 L1865.0 464.0 L1867.0 463.6 L1867.6 462.6 L1868.2 460.6 L1868.3 458.0 L1869.0 457.0 L1870.0 454.4 L1871.0 453.0 L1873.0 455.0 L1875.0 457.0 L1875.8 457.5 L1876.6 460.1 L1877.6 461.0 L1877.7 460.1 L1878.1 458.6 L1878.4 455.8 L1878.7 453.7 L1879.0 452.9 L1879.1 452.3 L1879.6 450.0 L1880.2 447.3 L1881.2 446.1 L1881.6 445.0 L1882.5 446.0 L1883.6 449.0 L1884.1 447.8 L1885.0 445.7 L1885.6 444.0 L1886.5 441.6 L1887.6 440.0 L1888.8 437.9 L1889.6 436.4 L1891.6 435.0 L1892.8 437.8 L1893.6 439.0 L1895.6 438.0 L1896.1 440.4 L1896.7 441.8 L1897.6 443.0 L1898.8 441.9 L1899.6 440.0 L1899.9 442.3 L1899.9 443.4 L1900.2 444.8 L1900.4 447.1 L1900.8 448.9 L1901.0 450.0 L1901.5 451.9 L1902.1 454.0 L1902.4 455.0 L1904.0 457.0 L1904.7 455.0 L1905.5 453.4 L1906.0 452.0 L1907.6 450.0 L1907.6 451.2 L1908.2 453.9 L1908.4 454.8 L1908.8 456.6 L1908.7 457.4 L1909.0 459.0 L1909.4 460.2 L1909.4 462.4 L1910.0 463.3 L1910.2 466.2 L1910.4 467.0 L1910.2 467.8 L1910.4 469.8 L1910.7 472.6 L1910.5 473.8 L1910.6 474.1 L1910.8 475.6 L1910.4 477.7 L1910.4 479.3 L1910.6 481.8 L1910.6 483.1 L1910.8 484.1 L1910.6 485.1 L1910.7 486.8 L1910.8 488.6 L1910.7 490.3 L1911.0 491.1 L1910.7 492.2 L1910.6 493.9 L1910.8 497.0 L1911.0 498.8 L1911.1 499.5 L1911.0 499.9 L1910.9 502.0 L1911.0 504.0 L1911.1 504.6 L1911.1 506.8 L1911.1 508.3 L1911.0 510.5 L1911.4 511.7 L1911.1 513.2 L1911.5 515.5 L1911.5 515.1 L1911.6 517.8 L1911.3 519.8 L1911.6 521.3 L1911.4 522.2 L1911.5 523.1 L1911.6 525.0 L1911.8 523.6 L1911.7 521.8 L1912.1 520.3 L1912.2 518.6 L1912.3 515.9 L1912.2 515.4 L1912.4 514.6 L1912.4 512.0 L1912.6 513.5 L1912.8 515.2 L1913.0 517.6 L1912.8 517.9 L1913.4 519.0 L1913.6 520.5 L1913.6 523.0 L1914.1 521.9 L1914.4 519.4 L1915.0 518.0 L1915.0 516.7 L1915.3 514.9 L1915.4 513.2 L1915.9 511.9 L1916.1 509.2 L1916.0 508.0 L1916.2 506.1 L1916.3 505.3 L1916.3 503.1 L1916.8 502.2 L1916.6 499.2 L1917.0 498.0 L1917.7 500.9 L1918.4 502.0 L1918.4 501.1 L1918.6 498.8 L1919.1 496.3 L1918.9 494.8 L1919.0 493.5 L1919.4 492.4 L1919.3 491.2 L1919.6 489.0 L1921.0 487.0 L1921.4 488.0 L1921.9 491.1 L1921.9 493.1 L1922.4 494.0 L1922.9 495.2 L1922.8 498.2 L1923.5 498.4 L1923.6 501.0 L1924.0 500.0 L1924.1 498.7 L1924.5 496.2 L1924.7 495.8 L1924.7 493.9 L1925.0 492.0 L1925.6 490.9 L1926.0 488.1 L1926.4 486.8 L1927.0 485.0 L1927.3 484.2 L1928.2 481.5 L1928.6 480.8 L1929.0 479.0 L1931.0 477.0 L1931.2 479.3 L1931.8 480.1 L1931.8 481.8 L1932.4 484.0 L1934.4 482.0 L1934.9 483.4 L1935.4 484.3 L1935.4 486.2 L1936.0 488.0 L1936.5 485.7 L1936.4 485.3 L1936.8 483.5 L1937.1 481.1 L1937.6 480.0 L1939.0 478.0 L1939.5 480.4 L1939.9 481.2 L1940.4 483.0 L1940.6 480.9 L1941.1 480.1 L1941.7 478.3 L1942.0 476.0 L1942.5 474.6 L1942.8 472.3 L1943.4 470.3 L1944.0 469.0 L1944.7 466.8 L1945.0 465.2 L1945.6 464.0 L1946.0 462.8 L1946.1 460.8 L1946.5 460.4 L1946.5 458.1 L1946.9 456.0 L1947.0 455.0 L1947.3 452.5 L1947.9 452.2 L1948.4 450.0 L1948.8 447.9 L1949.6 446.0 L1950.2 444.5 L1950.2 443.7 L1950.8 441.3 L1951.0 440.0 L1951.0 441.8 L1951.6 443.8 L1951.8 444.1 L1951.9 445.6 L1952.1 447.4 L1952.4 449.0 L1952.8 451.4 L1953.1 452.2 L1953.4 453.1 L1953.6 455.7 L1953.6 457.0 L1954.0 455.2 L1954.2 452.8 L1954.3 452.8 L1954.2 451.2 L1954.3 449.4 L1954.6 447.1 L1954.7 446.2 L1955.0 444.0 L1957.0 443.0 L1959.0 445.0 L1960.1 445.7 L1961.0 448.0 L1961.7 448.9 L1961.9 450.8 L1962.5 453.3 L1963.0 454.0 L1964.2 452.8 L1965.0 451.0 L1965.4 448.7 L1965.8 448.0 L1966.5 446.4 L1967.0 445.0 L1967.7 443.1 L1967.9 441.3 L1968.3 440.6 L1969.0 438.0 L1969.7 439.8 L1970.3 440.8 L1971.0 443.0 L1973.0 442.0 L1975.0 441.0 L1975.6 442.7 L1976.3 445.3 L1977.0 446.0 L1979.0 445.0 L1980.3 445.4 L1981.6 447.0 L1982.6 445.0 L1984.0 444.4 L1984.7 446.5 L1985.8 446.9 L1986.4 449.0 L1989.0 450.4 L1991.6 450.0 L1993.6 450.0 L1994.9 448.4 L1996.0 447.0 L1997.5 448.1 L1999.0 449.0 L2001.6 450.0 L2004.0 449.0 L2004.6 446.8 L2005.7 446.7 L2006.4 445.0 L2006.7 444.1 L2007.4 441.1 L2007.4 439.9 L2008.0 438.0 L2008.3 435.9 L2008.2 434.8 L2008.5 433.8 L2009.0 431.3 L2009.1 429.6 L2009.2 427.9 L2009.6 427.0 L2011.6 425.0 L2012.5 422.9 L2013.0 421.0 L2015.0 423.0 L2016.1 421.2 L2017.0 420.0 L2019.6 421.0 L2021.0 420.2 L2022.0 419.0 L2023.1 417.3 L2024.0 416.0 L2025.0 416.9 L2026.0 419.0 L2028.0 420.0 L2029.4 421.3 L2030.4 422.0 L2032.4 423.0 L2033.3 421.6 L2033.9 419.3 L2035.0 418.0 L2035.1 420.4 L2035.2 421.2 L2035.9 423.6 L2036.0 424.3 L2036.0 426.7 L2036.4 428.0 L2036.6 430.2 L2036.9 432.0 L2037.3 433.9 L2037.6 435.0 L2039.4 434.9 L2041.0 434.4 L2042.3 435.5 L2043.0 433.0 L2043.4 432.2 L2044.0 430.4 L2044.4 429.2 L2046.5 427.1 L2047.4 429.3 L2048.6 430.3 L2049.1 432.4 L2049.4 432.5 L2050.0 434.4 L2050.3 436.6 L2050.8 434.0 L2051.2 433.8 L2052.0 432.1 L2052.4 430.3 L2054.9 431.3 L2057.4 432.4 L2060.1 431.3 L2060.8 430.1 L2061.6 427.3 L2062.2 426.1 L2063.3 424.4 L2064.3 422.3 L2065.8 422.6 L2067.0 424.0 L2067.5 422.1 L2067.9 420.6 L2068.7 419.4 L2069.1 417.7 L2069.3 416.5 L2069.5 414.9 L2069.8 411.9 L2070.2 411.1 L2070.6 409.3 L2071.5 408.5 L2072.7 406.2 L2073.8 404.4 L2074.6 403.8 L2075.4 402.0 L2077.9 403.1 L2078.7 400.8 L2079.5 400.5 L2080.0 397.8 L2080.0 395.9 L2080.4 393.9 L2080.7 393.7 L2080.7 391.9 L2081.1 388.6 L2081.7 387.5 L2081.7 386.3 L2082.6 387.1 L2083.8 389.5 L2084.1 387.2 L2084.5 386.0 L2085.1 385.0 L2085.4 383.7 L2085.9 382.1 L2088.0 380.0 L2088.5 378.7 L2088.6 377.2 L2089.2 374.7 L2089.4 372.7 L2089.8 370.9 L2090.1 370.6 L2090.8 367.5 L2091.3 367.6 L2091.5 365.4 L2092.7 364.2 L2094.3 362.2 L2094.4 363.9 L2094.9 365.1 L2095.0 367.3 L2095.1 368.8 L2095.5 371.1 L2095.7 372.1 L2095.9 372.8 L2096.3 374.8 L2096.4 372.5 L2096.9 371.0 L2097.2 369.3 L2097.4 369.2 L2097.4 366.4 L2097.8 365.4 L2098.3 363.7 L2098.8 361.7 L2098.9 361.3 L2099.3 358.7 L2100.6 360.9 L2102.0 361.2 L2103.6 362.2 L2104.7 364.3 L2105.6 366.6 L2106.2 367.8 L2107.2 368.5 L2107.8 367.6 L2108.1 364.8 L2108.7 363.3 L2109.1 363.1 L2109.3 361.2 L2109.4 360.1 L2109.5 358.7 L2109.4 357.5 L2109.7 355.8 L2109.9 354.3 L2109.9 352.2 L2109.9 350.6 L2110.0 349.8 L2110.4 347.6 L2110.7 345.9 L2111.1 345.3 L2111.3 342.0 L2111.5 341.8 L2111.7 338.8 L2111.8 338.2 L2112.9 336.5 L2113.5 335.0 L2115.2 337.1 L2115.4 336.1 L2115.5 332.9 L2116.0 331.7 L2115.8 329.8 L2116.5 329.4 L2116.3 326.5 L2116.7 325.6 L2117.3 324.3 L2117.5 321.5 L2117.9 321.5 L2118.1 318.7 L2118.7 317.2 L2118.9 316.6 L2119.4 314.8 L2120.2 312.7 L2120.2 310.9 L2120.8 308.9 L2121.0 307.3 L2121.1 305.9 L2121.6 303.6 L2121.9 302.7 L2121.8 300.9 L2122.1 300.2 L2122.3 298.4 L2122.9 297.4 L2123.4 294.9 L2124.0 293.2 L2124.4 291.0 L2124.2 289.7 L2124.5 287.7 L2124.8 285.9 L2125.2 285.3 L2125.4 284.1 L2125.6 282.7 L2125.7 280.6 L2125.8 279.4 L2126.0 277.4 L2126.5 276.1 L2126.5 273.6 L2126.9 272.2 L2127.2 274.4 L2127.4 274.6 L2127.1 276.1 L2127.5 279.0 L2127.6 280.6 L2127.7 281.8 L2128.0 283.5 L2128.0 285.0 L2128.0 286.9 L2128.2 287.9 L2128.4 285.5 L2128.6 284.5 L2128.9 283.1 L2129.1 281.1 L2129.3 279.4 L2129.8 277.2 L2129.8 276.4 L2130.0 278.7 L2130.5 280.0 L2131.0 281.6 L2131.3 283.7 L2131.9 281.2 L2132.8 280.6 L2133.5 283.2 L2133.8 284.0 L2134.5 285.8 L2134.6 286.6 L2135.1 289.8 L2135.0 290.3 L2135.5 293.0 L2135.6 293.8 L2135.8 296.3 L2136.1 297.3 L2136.7 299.9 L2136.7 301.2 L2137.5 303.3 L2137.6 304.7 L2137.9 302.4 L2138.1 302.0 L2138.5 300.6 L2139.1 298.4 L2139.5 300.2 L2139.9 302.9 L2140.1 303.1 L2140.3 305.7 L2140.6 304.1 L2140.6 303.6 L2141.1 300.5 L2141.0 299.4 L2141.4 297.9 L2141.5 297.4 L2141.8 295.3 L2142.7 294.1 L2143.9 292.1 L2144.1 291.5 L2144.7 288.8 L2144.8 286.8 L2145.0 286.4 L2145.4 284.3 L2145.4 282.4 L2146.0 281.6 L2146.2 279.4 L2146.4 278.7 L2146.9 277.0 L2146.8 275.5 L2147.1 274.4 L2147.4 272.2 L2147.5 270.2 L2147.8 269.9 L2147.9 266.9 L2148.1 265.4 L2148.4 264.2 L2148.7 262.8 L2149.2 260.8 L2149.4 258.9 L2149.9 258.1 L2150.2 255.5 L2151.2 254.8 L2152.2 252.3 L2153.2 251.7 L2154.3 249.2 L2154.6 247.9 L2154.9 245.4 L2155.0 244.9 L2155.4 242.9 L2155.8 240.8 L2156.1 239.2 L2156.2 236.9 L2156.6 236.3 L2156.9 233.3 L2157.3 232.5 L2157.5 231.0 L2157.5 232.1 L2157.7 234.7 L2158.1 235.3 L2158.1 236.8 L2158.3 238.5 L2158.7 240.9 L2158.9 242.7 L2159.0 242.7 L2159.2 245.0 L2159.3 245.8 L2159.9 248.0 L2160.6 249.6 L2160.8 250.4 L2161.2 252.3 L2161.9 254.5 L2162.0 254.8 L2162.7 256.9 L2162.9 259.0 L2163.4 256.6 L2163.6 255.5 L2164.1 253.7 L2164.0 251.9 L2164.6 251.8 L2164.8 249.2 L2166.9 250.2 L2167.3 248.9 L2167.4 246.4 L2167.6 246.2 L2167.8 243.8 L2168.4 241.9 L2168.6 239.4 L2169.0 239.1 L2169.2 235.7 L2169.6 234.5 L2170.1 233.0 L2170.4 230.2 L2170.9 228.3 L2171.1 227.2 L2171.7 224.6 L2172.6 223.0 L2172.8 224.5 L2173.1 226.5 L2173.5 227.5 L2173.3 229.7 L2173.5 230.1 L2173.8 232.2 L2174.2 233.5 L2174.8 231.2 L2175.0 231.1 L2175.6 228.0 L2175.9 227.2 L2176.7 229.5 L2177.3 230.0 L2178.0 232.4 L2178.4 233.7 L2178.5 234.9 L2179.0 236.4 L2179.5 238.7 L2180.1 240.9 L2180.9 242.9 L2181.3 241.0 L2181.7 238.7 L2181.8 238.8 L2182.4 237.1 L2182.6 234.5 L2183.2 233.1 L2183.6 231.8 L2183.7 229.7 L2184.1 229.4 L2184.7 227.2 L2187.2 228.3 L2189.3 227.2 L2189.8 228.8 L2190.4 229.9 L2191.0 232.4 L2191.4 231.6 L2191.8 230.3 L2191.9 227.3 L2192.4 227.0 L2192.7 225.1 L2193.0 223.2 L2193.2 222.6 L2193.7 221.0 L2194.1 218.8 L2196.2 219.9 L2196.5 221.4 L2196.9 224.0 L2197.5 225.1 L2197.7 227.2 L2198.1 228.7 L2198.5 231.1 L2198.7 232.0 L2198.9 234.7 L2199.3 235.6 L2199.9 236.8 L2200.0 238.1 L2200.8 239.4 L2201.0 241.9 L2201.5 243.4 L2201.7 244.9 L2202.0 246.4 L2202.2 248.6 L2202.7 249.2 L2202.8 246.9 L2203.3 246.3 L2203.7 244.9 L2204.0 242.0 L2203.9 240.8 L2204.4 239.8 L2205.4 237.5 L2206.0 236.6 L2206.6 235.4 L2207.0 233.2 L2207.7 231.4 L2208.3 233.4 L2208.3 234.3 L2208.6 236.7 L2209.2 237.6 L2209.4 238.7 L2209.6 237.5 L2210.0 236.0 L2210.2 234.5 L2210.7 231.9 L2210.9 230.4 L2212.3 228.3 L2213.2 230.4 L2214.0 231.4 L2214.3 233.8 L2214.2 235.2 L2214.8 235.9 L2215.1 236.7 L2215.1 239.3 L2215.6 240.1 L2215.7 241.9 L2216.2 243.8 L2216.0 244.5 L2216.3 247.0 L2216.8 248.1 L2217.1 250.2 L2217.3 250.9 L2217.8 253.9 L2217.8 254.6 L2217.9 256.4 L2218.1 258.7 L2218.6 259.7 L2218.6 260.7 L2219.0 261.4 L2218.8 263.4 L2219.0 265.0 L2219.6 267.4 L2219.7 267.6 L2219.5 268.7 L2219.9 271.2 L2219.9 271.9 L2220.2 274.1 L2220.5 276.2 L2220.6 277.4 L2220.9 279.8 L2221.0 281.0 L2221.1 282.7 L2221.4 284.1 L2221.5 286.3 L2222.1 287.6 L2222.4 290.0 L2222.7 289.3 L2222.8 287.6 L2222.8 284.8 L2222.8 284.4 L2223.3 281.7 L2223.0 280.7 L2223.3 279.6 L2223.3 278.6 L2223.6 276.4 L2223.7 278.9 L2223.8 279.3 L2223.9 282.2 L2224.2 283.6 L2224.1 284.6 L2224.6 287.1 L2224.8 287.0 L2224.7 290.4 L2224.9 291.1 L2225.0 290.5 L2225.0 287.1 L2225.5 286.1 L2225.5 284.7 L2225.6 284.4 L2226.0 282.7 L2225.7 281.1 L2225.8 278.8 L2226.1 277.5 L2226.5 278.6 L2226.4 280.9 L2226.5 282.8 L2226.9 283.2 L2227.2 284.7 L2227.2 286.9 L2227.1 288.0 L2227.7 291.1 L2227.6 292.1 L2227.8 291.1 L2228.3 289.8 L2228.4 287.0 L2228.6 286.8 L2228.9 284.6 L2229.1 282.7 L2229.7 280.9 L2229.9 280.3 L2230.2 278.7 L2230.8 276.4 L2230.8 278.1 L2231.3 278.8 L2231.8 281.0 L2231.7 282.5 L2232.2 284.1 L2232.4 285.8 L2232.4 286.6 L2233.0 288.2 L2233.0 291.2 L2233.6 292.9 L2233.5 292.7 L2233.9 295.3 L2234.4 293.6 L2234.6 290.6 L2235.0 289.2 L2235.4 287.9 L2235.7 287.2 L2235.9 283.7 L2236.5 282.1 L2236.6 281.1 L2237.0 279.6 L2237.6 277.7 L2237.6 276.6 L2237.9 275.0 L2238.5 273.3 L2238.7 272.2 L2239.2 273.4 L2239.2 276.1 L2239.8 278.6 L2240.2 279.6 L2240.3 281.6 L2241.0 282.4 L2241.1 284.5 L2241.6 285.8 L2242.2 287.3 L2242.5 289.3 L2242.9 290.4 L2243.3 292.1 L2243.3 293.7 L2243.7 296.3 L2244.1 297.3 L2243.9 298.3 L2244.3 301.0 L2244.4 302.2 L2244.5 300.9 L2245.1 298.6 L2245.3 297.0 L2245.4 296.2 L2245.4 293.5 L2245.8 292.1 L2246.3 292.8 L2246.1 295.2 L2246.6 297.1 L2246.9 298.7 L2246.6 299.1 L2247.1 301.5 L2247.1 299.8 L2247.3 298.3 L2247.8 296.0 L2248.1 294.8 L2248.4 293.0 L2248.4 291.7 L2248.5 290.0 L2249.2 289.0 L2250.0 286.9 L2250.2 288.1 L2250.8 291.1 L2251.3 292.1 L2252.0 289.6 L2252.7 289.0" fill="none" stroke="#737373" stroke-width="3.2" stroke-linejoin="round" stroke-linecap="round"/>
<path d="M125.6 461.0 L127.3 461.8 L129.0 462.4 L130.7 463.1 L132.0 464.0 L133.0 465.7 L134.0 467.0 L134.8 468.5 L136.0 470.0 L137.6 470.0 L139.0 469.0 L140.3 467.3 L142.0 466.4 L143.3 466.3 L145.0 465.0 L145.6 462.7 L146.2 462.8 L146.6 460.7 L147.0 459.0 L147.3 456.4 L148.0 454.7 L148.3 453.3 L149.0 452.0 L149.8 453.9 L151.0 456.0 L151.3 455.1 L151.7 453.3 L152.0 451.8 L152.4 450.0 L154.0 447.6 L154.2 448.7 L154.7 451.5 L154.9 452.4 L154.8 453.1 L155.0 454.3 L155.5 456.3 L155.6 458.0 L156.5 459.8 L157.0 462.0 L157.9 464.6 L158.4 466.0 L158.4 467.1 L159.1 469.3 L159.4 470.8 L159.3 472.9 L159.9 473.9 L160.0 476.0 L160.2 474.2 L161.0 473.5 L161.0 471.0 L161.6 470.0 L162.1 467.7 L163.0 467.0 L163.4 467.9 L163.5 469.9 L163.5 471.9 L163.7 473.3 L164.0 474.4 L164.4 476.0 L164.7 477.3 L165.4 480.0 L165.5 481.9 L166.0 483.0 L166.1 484.4 L166.6 486.4 L166.5 488.6 L166.8 488.9 L167.3 490.5 L167.3 491.7 L167.6 494.0 L167.5 495.7 L167.7 497.4 L167.8 498.7 L168.2 500.4 L168.1 502.7 L168.0 503.0 L168.5 505.8 L168.3 506.2 L168.6 509.2 L168.6 510.0 L168.5 512.3 L168.9 513.3 L168.7 513.9 L168.6 517.0 L168.7 518.1 L168.8 519.8 L169.0 520.4 L168.8 522.7 L168.8 523.4 L169.1 526.0 L169.2 526.5 L169.4 527.9 L169.2 530.0 L169.1 531.2 L169.4 532.5 L169.3 534.6 L169.6 535.8 L169.6 538.8 L170.0 540.0 L170.0 541.5 L170.0 543.0 L170.1 540.6 L170.4 540.5 L171.1 539.0 L171.0 536.8 L171.6 535.0 L171.9 536.9 L172.2 538.9 L172.4 539.6 L173.0 541.0 L173.5 540.0 L173.8 537.9 L174.2 536.5 L174.4 534.0 L174.7 535.8 L175.4 537.7 L175.6 539.0 L176.0 540.0 L176.6 538.4 L176.9 536.3 L177.2 534.9 L177.6 533.0 L177.8 534.8 L178.6 536.7 L178.9 537.3 L179.2 539.0 L179.7 537.5 L180.0 536.3 L180.2 534.5 L180.8 532.4 L181.1 534.4 L181.9 535.6 L182.4 538.0 L182.9 536.4 L183.3 535.6 L183.5 532.3 L184.0 531.6 L184.4 533.7 L184.9 534.6 L185.6 537.0 L186.2 535.8 L186.4 534.7 L186.7 532.8 L187.2 531.0 L187.8 532.9 L188.8 535.0 L189.4 534.2 L189.8 531.8 L190.0 530.2 L190.4 529.0 L191.0 531.0 L192.0 533.0 L192.8 531.8 L193.4 530.2 L194.0 527.6 L194.4 528.5 L195.0 530.1 L195.6 532.0 L197.2 534.0 L199.0 532.0 L199.1 533.4 L199.6 535.2 L199.7 537.4 L200.4 538.3 L200.4 540.0 L201.2 541.0 L202.4 543.6 L204.4 542.0 L205.3 542.8 L205.8 545.5 L206.4 547.0 L208.4 545.0 L210.4 545.6 L211.3 544.3 L212.4 542.0 L213.2 539.8 L214.4 539.0 L215.4 540.1 L216.4 543.0 L217.9 541.0 L219.0 540.0 L220.1 538.4 L221.6 538.4 L222.7 540.1 L223.6 542.0 L224.7 543.8 L225.6 545.0 L226.8 544.3 L227.6 542.0 L229.6 543.0 L230.4 540.8 L230.9 539.1 L231.6 538.0 L233.6 540.0 L234.0 541.6 L235.0 542.8 L235.6 545.0 L238.0 544.0 L240.4 543.0 L241.3 540.7 L242.4 539.0 L244.4 537.0 L245.5 535.0 L246.4 533.0 L248.0 531.6 L249.1 533.5 L250.0 534.4 L252.4 536.0 L253.0 538.2 L253.9 538.6 L254.4 541.0 L255.6 543.4 L256.4 545.0 L259.0 546.4 L259.8 548.1 L261.0 550.0 L261.5 552.3 L261.7 553.3 L262.4 555.3 L262.8 556.3 L263.0 558.0 L263.5 559.1 L263.9 561.8 L264.3 563.2 L264.5 565.1 L265.0 566.0 L265.6 568.5 L265.8 569.7 L266.1 571.5 L266.8 572.1 L267.0 574.0 L267.1 575.5 L267.6 577.7 L267.8 578.0 L268.3 579.6 L268.4 582.0 L268.8 583.0 L268.8 585.7 L268.9 586.2 L269.4 588.8 L269.6 590.0 L270.8 591.8 L271.6 593.0 L272.5 594.7 L273.2 595.6 L273.6 598.0 L274.1 599.7 L274.8 601.7 L275.6 603.0 L276.7 604.5 L277.6 606.0 L279.6 607.0 L280.4 605.4 L280.8 603.5 L281.6 602.0 L284.0 602.4 L285.4 601.4 L286.4 599.0 L287.6 598.1 L289.0 596.0 L291.0 594.0 L292.2 592.0 L293.0 590.0 L294.0 588.0 L295.0 587.0 L297.0 586.0 L298.0 584.2 L299.0 582.4 L299.7 583.1 L300.6 585.5 L301.0 587.0 L301.6 589.2 L302.4 590.3 L303.0 592.0 L304.1 589.7 L305.0 589.0 L307.0 587.0 L309.0 585.0 L311.0 587.0 L313.0 588.0 L314.0 589.3 L315.0 591.0 L316.2 589.8 L317.0 587.0 L317.9 585.5 L319.0 584.0 L319.8 581.9 L321.0 580.0 L322.2 579.2 L323.0 577.0 L324.0 575.2 L325.0 574.0 L325.8 572.2 L327.0 570.0 L328.2 567.3 L329.0 566.0 L329.8 563.5 L330.2 562.2 L331.0 561.0 L331.8 559.0 L332.3 557.9 L333.0 556.0 L333.5 558.4 L334.4 560.0 L336.0 559.0 L336.6 557.5 L337.6 556.0 L337.9 557.1 L338.5 559.2 L339.0 561.0 L339.6 562.5 L340.3 563.7 L341.0 566.0 L341.3 567.8 L341.9 569.3 L342.4 571.0 L342.8 571.9 L343.0 574.0 L344.1 572.6 L345.0 570.0 L346.2 567.7 L347.0 566.0 L349.0 568.0 L349.9 567.3 L351.0 565.0 L353.0 567.0 L354.2 568.9 L355.6 569.0 L358.0 570.0 L359.2 567.8 L360.0 567.0 L360.5 565.7 L361.2 562.9 L362.0 562.0 L362.7 560.4 L363.1 558.3 L363.5 557.8 L364.0 556.0 L364.2 553.9 L364.9 553.5 L365.4 550.5 L365.6 550.1 L366.0 548.0 L366.3 549.9 L366.5 550.4 L366.8 552.0 L367.3 554.4 L367.6 556.0 L368.1 557.0 L368.4 558.8 L369.0 561.0 L370.2 560.4 L371.0 558.0 L372.2 555.8 L373.0 555.0 L373.8 553.8 L375.0 551.0 L376.0 550.0 L377.0 548.0 L377.9 545.9 L379.0 544.0 L380.0 542.4 L381.0 541.0 L381.7 538.5 L382.4 538.3 L383.0 536.0 L383.8 534.1 L385.0 532.4 L385.8 530.8 L386.2 528.9 L387.0 528.0 L387.7 525.7 L388.5 525.6 L389.0 523.6 L390.1 522.4 L391.0 520.0 L392.4 522.0 L392.9 520.3 L393.2 519.0 L393.8 518.0 L394.0 516.0 L395.6 514.0 L395.8 513.1 L396.3 511.3 L396.6 509.0 L396.9 508.3 L397.0 506.0 L397.3 508.1 L397.6 509.2 L397.8 510.2 L397.9 512.6 L397.9 514.1 L398.4 516.0 L400.0 515.0 L401.1 513.7 L402.0 512.0 L404.0 510.0 L406.0 509.0 L408.0 507.0 L410.0 508.0 L410.9 507.3 L412.0 505.0 L414.0 507.0 L414.9 508.7 L415.6 511.0 L416.4 509.6 L417.0 508.0 L418.0 505.8 L419.0 504.0 L420.2 502.8 L421.0 501.0 L421.6 499.7 L422.2 496.6 L422.6 496.2 L423.0 494.0 L423.4 492.3 L423.8 490.5 L424.4 488.8 L425.0 488.0 L425.5 487.1 L426.4 484.7 L427.0 483.0 L427.9 484.8 L428.6 486.6 L429.0 488.0 L430.2 485.2 L431.0 484.0 L432.0 482.5 L433.0 480.0 L433.8 478.8 L435.0 476.0 L435.8 473.9 L437.0 472.0 L437.5 470.3 L438.4 467.9 L439.0 467.0 L439.6 465.3 L439.8 464.0 L440.1 461.8 L440.7 460.7 L441.0 459.0 L443.0 457.0 L443.9 455.9 L445.0 454.0 L445.4 451.6 L445.9 450.2 L446.3 450.0 L447.0 448.0 L447.9 446.7 L449.0 444.0 L451.0 443.0 L452.1 440.7 L453.0 440.0 L453.5 442.4 L453.3 443.9 L453.8 444.8 L454.4 445.9 L454.4 448.0 L454.8 447.0 L455.3 444.4 L455.8 443.3 L456.0 441.0 L456.6 438.8 L457.1 437.9 L457.4 435.7 L458.0 435.0 L458.5 432.8 L459.0 432.3 L459.5 430.1 L460.0 429.0 L460.5 427.4 L461.1 426.1 L461.7 425.3 L462.0 423.0 L462.6 420.8 L462.8 420.2 L463.6 418.0 L464.0 416.0 L464.4 414.1 L465.1 413.1 L465.5 411.7 L466.0 410.0 L468.0 408.0 L468.8 405.8 L469.2 405.5 L470.0 403.0 L470.2 405.2 L469.8 405.2 L470.0 407.4 L470.2 408.3 L470.1 409.8 L469.9 412.4 L470.2 413.8 L470.1 415.1 L470.1 416.4 L470.4 418.8 L470.1 419.0 L470.5 421.4 L470.5 422.2 L470.3 423.8 L470.5 425.5 L470.5 428.1 L470.4 428.9 L470.6 431.0 L470.5 431.6 L470.3 434.0 L470.3 434.1 L470.6 436.3 L470.7 437.5 L470.8 438.6 L470.5 441.2 L470.5 442.1 L470.8 444.3 L470.6 444.8 L470.7 447.4 L470.7 447.8 L470.8 450.0 L470.9 451.6 L471.0 453.8 L471.0 454.4 L471.0 455.6 L470.8 457.3 L471.1 459.7 L470.8 460.3 L470.8 461.8 L470.8 463.3 L470.8 465.1 L471.1 466.6 L471.1 468.1 L470.8 470.0 L471.1 470.6 L470.7 472.5 L471.0 474.1 L471.2 475.8 L471.2 476.2 L471.0 479.0 L470.8 479.2 L471.2 482.2 L470.8 483.2 L470.9 484.9 L471.1 485.5 L470.9 488.0 L471.1 489.5 L471.0 490.2 L471.3 492.3 L471.1 493.6 L471.2 495.4 L471.4 496.3 L471.3 498.3 L471.3 500.1 L471.3 501.7 L471.4 502.8 L471.2 504.0 L471.3 502.8 L471.6 500.7 L471.6 498.7 L471.9 498.7 L471.8 495.6 L471.9 494.5 L472.0 494.0 L472.0 491.2 L472.4 490.0 L474.0 488.0 L474.8 486.3 L476.0 484.0 L476.9 481.9 L477.6 481.0 L477.6 482.4 L478.1 484.7 L478.1 484.8 L478.4 486.5 L478.6 488.9 L479.0 490.0 L479.4 491.2 L479.5 492.9 L479.8 495.5 L480.2 496.8 L480.8 498.3 L481.0 500.0 L481.3 502.3 L482.0 502.9 L482.2 505.6 L482.6 505.9 L483.0 508.0 L483.3 507.1 L484.2 504.3 L484.5 502.8 L485.0 501.0 L485.4 500.1 L486.1 497.0 L486.3 495.7 L487.0 494.0 L487.3 493.0 L487.8 491.2 L487.8 488.9 L488.2 487.6 L488.9 486.5 L489.0 485.0 L489.6 484.1 L489.9 481.6 L490.3 480.2 L491.0 478.0 L492.4 476.0 L492.5 478.2 L493.2 479.8 L493.2 480.4 L493.8 481.7 L494.0 484.0 L494.7 482.3 L495.6 480.8 L496.0 479.0 L497.2 480.6 L498.0 483.0 L498.5 481.1 L499.0 478.8 L499.4 477.2 L499.6 476.0 L499.7 477.6 L499.5 479.7 L499.6 480.2 L499.6 481.8 L499.8 484.0 L499.8 485.5 L499.7 486.5 L500.0 489.1 L500.2 490.0 L499.8 491.1 L500.2 492.4 L500.2 494.3 L500.0 496.8 L500.4 496.9 L500.4 498.6 L500.3 500.5 L500.4 502.0 L500.4 503.4 L500.5 505.6 L500.5 506.4 L500.9 508.3 L501.1 510.4 L501.0 511.6 L501.0 513.6 L501.8 511.0 L502.2 509.1 L503.0 508.0 L503.6 506.9 L503.8 504.8 L504.7 503.7 L505.0 502.0 L505.8 500.0 L507.0 499.0 L509.0 501.0 L509.3 498.8 L510.0 498.0 L510.4 495.6 L511.0 494.7 L511.2 493.5 L511.7 492.2 L512.0 490.0 L512.4 488.2 L513.0 486.1 L513.5 485.9 L514.0 484.0 L514.7 483.0 L515.1 481.2 L515.3 479.2 L516.0 478.0 L517.6 475.6 L517.7 477.5 L517.7 478.6 L518.1 480.9 L518.4 482.2 L518.2 484.1 L518.7 485.3 L518.6 486.8 L518.7 488.8 L519.0 490.0 L519.4 491.6 L519.3 493.7 L519.2 495.5 L519.5 495.7 L519.3 497.3 L519.7 499.7 L519.7 501.7 L519.8 502.4 L520.0 504.0 L520.3 503.4 L520.8 501.7 L521.5 499.6 L522.0 498.0 L522.2 499.1 L522.6 501.9 L522.8 502.7 L522.6 504.6 L522.9 506.2 L523.1 507.1 L523.6 507.9 L523.6 510.0 L523.9 510.9 L523.8 512.8 L524.5 515.8 L524.6 516.3 L524.9 518.8 L525.0 520.0 L527.0 519.0 L527.0 520.7 L527.2 521.1 L527.0 523.4 L527.0 524.8 L527.2 525.9 L527.3 527.6 L527.3 529.2 L527.4 530.2 L527.5 531.9 L527.7 534.2 L527.5 535.3 L527.6 537.3 L527.7 539.0 L527.6 540.0 L527.6 542.4 L527.8 543.6 L527.7 544.4 L527.8 546.7 L527.8 547.5 L527.8 549.7 L527.8 549.7 L528.0 552.7 L528.1 553.7 L528.1 554.6 L528.1 555.7 L527.9 557.9 L528.1 559.3 L527.9 561.4 L528.2 562.0 L528.1 563.8 L528.1 564.7 L528.5 567.8 L528.4 569.2 L528.4 570.0 L528.7 568.9 L528.9 567.2 L529.4 565.9 L529.5 564.1 L530.0 562.0 L530.2 560.6 L531.0 558.1 L531.1 557.1 L531.6 556.0 L531.8 556.7 L532.3 559.6 L532.3 560.2 L532.7 561.2 L532.7 564.2 L533.2 565.0 L533.4 563.4 L533.9 562.7 L534.0 559.8 L534.1 559.5 L534.7 556.6 L534.9 555.3 L535.0 554.0 L535.7 555.1 L536.5 558.2 L537.0 559.0 L537.2 560.9 L537.5 563.0 L537.8 563.3 L538.4 565.3 L538.9 568.0 L539.0 569.0 L539.6 566.6 L540.1 566.3 L540.5 563.0 L541.0 562.0 L541.3 560.1 L541.9 558.3 L542.0 556.7 L542.7 556.1 L543.0 554.0 L543.4 552.8 L544.2 551.2 L544.4 549.1 L545.0 548.0 L545.9 546.3 L546.4 544.0 L547.1 545.8 L548.0 547.0 L548.8 549.4 L550.0 550.0 L550.2 551.6 L550.4 552.2 L550.6 554.1 L550.7 556.5 L550.8 557.1 L551.3 558.5 L551.3 560.6 L551.6 562.0 L551.6 564.3 L552.2 564.4 L552.0 567.3 L552.2 569.2 L552.4 569.4 L552.6 571.9 L552.6 573.5 L553.0 574.8 L553.0 576.4 L553.4 575.3 L553.9 573.1 L554.4 570.8 L554.7 569.1 L555.0 568.0 L555.6 565.8 L556.0 565.0 L556.6 563.3 L557.0 561.0 L557.5 559.3 L558.2 557.8 L559.0 556.0 L559.7 553.5 L560.4 553.1 L561.0 551.0 L562.0 549.7 L563.0 547.0 L563.3 548.1 L563.8 550.5 L564.5 552.1 L565.0 554.0 L565.1 556.2 L565.3 558.1 L565.7 559.1 L566.1 560.2 L566.0 562.0 L566.4 564.0 L566.4 562.0 L567.0 560.7 L567.1 559.2 L567.3 557.9 L567.6 555.2 L568.0 554.0 L568.1 555.9 L568.8 557.7 L568.7 558.6 L569.2 559.9 L569.6 562.0 L570.0 562.7 L569.9 565.5 L570.4 565.9 L570.3 568.4 L570.2 569.0 L570.8 570.4 L570.8 572.1 L571.0 574.0 L571.2 571.6 L571.2 571.6 L571.8 569.4 L571.8 566.9 L572.2 565.2 L572.4 564.0 L572.5 566.3 L572.6 566.8 L573.0 568.9 L572.6 570.1 L573.0 571.1 L573.0 573.8 L573.4 575.2 L573.5 576.5 L573.4 578.8 L573.5 580.2 L573.5 581.0 L573.6 582.9 L573.7 583.9 L574.0 586.0 L574.2 584.3 L574.5 582.7 L575.2 581.5 L575.5 579.1 L575.6 578.0 L576.5 575.7 L577.6 575.0 L577.9 576.3 L577.9 577.3 L578.0 579.3 L578.3 582.0 L578.7 582.4 L578.7 583.8 L579.0 586.0 L580.2 587.2 L581.0 589.0 L583.0 587.0 L584.1 588.9 L585.0 590.0 L586.4 588.0 L586.9 588.8 L586.8 591.1 L587.0 593.7 L587.4 595.2 L587.7 595.5 L588.0 598.0 L588.1 599.0 L588.2 600.4 L588.6 601.7 L588.7 603.9 L589.0 604.8 L589.3 606.6 L589.5 608.8 L589.6 610.0 L591.6 609.0 L591.9 606.7 L592.5 605.9 L593.1 603.5 L593.6 602.0 L594.3 599.8 L594.5 598.2 L595.0 595.9 L595.6 595.0 L596.4 593.7 L597.6 592.0 L598.6 594.6 L599.6 596.0 L600.5 594.1 L601.0 593.0 L601.3 595.3 L601.3 596.3 L601.8 598.3 L602.1 598.5 L602.2 599.8 L602.4 602.0 L602.7 603.3 L602.8 604.8 L603.3 606.6 L603.6 607.5 L604.0 609.6 L604.6 607.7 L605.2 606.2 L606.0 604.0 L606.9 601.8 L608.0 601.0 L608.9 598.9 L610.0 597.0 L610.8 599.1 L612.0 601.0 L613.1 599.6 L614.0 598.0 L615.1 595.6 L616.0 595.0 L616.9 592.8 L618.0 591.0 L618.8 589.3 L620.0 588.0 L620.8 586.5 L622.0 585.0 L622.7 586.6 L623.2 587.9 L624.0 590.0 L624.3 588.0 L625.2 586.6 L625.4 585.1 L626.0 583.0 L626.8 584.4 L628.0 586.0 L629.1 584.8 L630.0 582.0 L630.9 580.6 L632.0 579.0 L632.4 581.1 L632.5 582.4 L632.6 583.6 L632.8 585.9 L633.3 586.6 L633.6 587.6 L633.6 590.0 L635.6 588.0 L636.0 586.3 L636.7 584.2 L637.6 582.1 L638.0 581.0 L640.0 580.0 L641.0 578.5 L642.4 578.0 L643.5 576.0 L644.4 575.0 L646.4 573.0 L648.4 572.0 L649.2 570.9 L650.4 569.6 L652.0 571.0 L652.0 572.0 L652.1 574.3 L652.2 575.7 L652.3 577.6 L652.5 578.2 L652.3 580.7 L652.3 581.9 L652.5 583.3 L652.7 585.1 L652.4 586.2 L652.6 587.6 L652.6 588.6 L652.8 590.6 L652.6 591.5 L652.7 592.9 L652.9 594.3 L652.7 595.7 L653.0 598.0 L653.2 596.8 L653.6 594.7 L654.3 593.2 L654.4 592.3 L655.0 590.0 L656.2 587.7 L657.0 587.0 L659.0 588.0 L659.9 586.0 L661.0 584.0 L663.0 583.0 L665.0 582.0 L665.3 583.3 L665.5 584.6 L665.6 586.2 L665.6 588.5 L666.0 590.1 L666.1 590.9 L666.3 592.7 L666.4 594.0 L666.8 596.1 L666.6 597.0 L667.1 598.3 L667.0 599.5 L667.4 602.8 L667.6 603.6 L668.1 601.3 L668.3 600.1 L668.5 598.4 L669.0 597.9 L668.8 595.7 L669.1 592.8 L669.6 592.0 L671.6 593.0 L673.6 591.0 L674.5 589.9 L675.6 588.0 L677.0 590.0 L677.4 590.8 L677.2 592.1 L677.4 594.5 L677.4 595.7 L677.8 598.1 L677.6 598.8 L677.9 601.0 L678.0 602.0 L678.4 603.3 L678.3 605.1 L678.5 605.9 L678.3 607.3 L678.8 609.1 L678.7 610.3 L678.8 611.6 L679.0 614.0 L679.2 614.9 L679.3 616.6 L679.2 618.5 L679.4 619.6 L679.4 620.7 L679.9 622.7 L679.7 623.9 L680.0 626.0 L682.4 625.0 L683.4 624.4 L684.4 622.0 L684.5 621.2 L684.9 618.8 L685.3 617.3 L685.2 616.1 L685.7 614.7 L685.8 613.8 L686.3 612.4 L686.4 610.0 L687.4 608.6 L688.4 606.0 L689.0 603.7 L689.2 602.1 L690.0 601.0 L690.6 598.7 L691.6 598.0 L691.7 600.0 L691.9 601.0 L691.9 602.0 L692.5 603.1 L692.5 606.1 L692.8 607.4 L692.8 609.0 L693.0 610.0 L693.3 612.0 L693.6 612.3 L693.8 614.3 L693.8 615.6 L694.1 616.6 L694.1 618.5 L694.2 620.3 L694.4 622.0 L694.8 624.1 L694.9 625.2 L695.2 626.1 L695.6 628.0 L696.2 626.1 L696.2 624.5 L696.9 622.7 L697.3 621.7 L697.6 620.0 L698.7 617.4 L699.6 616.0 L700.1 616.9 L701.0 619.0 L701.3 617.1 L701.5 615.5 L702.0 613.4 L702.4 612.0 L702.8 611.3 L703.1 609.7 L703.5 608.0 L704.0 606.0 L705.0 603.6 L704.9 606.1 L705.1 607.6 L705.1 608.2 L705.4 609.4 L705.2 611.9 L705.7 612.9 L705.3 614.5 L705.8 615.8 L705.7 617.8 L705.8 619.1 L705.8 621.9 L706.0 623.0 L705.9 624.5 L706.0 626.0 L705.9 628.2 L706.3 629.1 L706.4 630.7 L706.3 631.9 L706.6 634.1 L706.6 634.8 L706.8 637.1 L706.8 639.0 L707.1 639.8 L707.0 642.0 L707.5 644.6 L708.1 645.0 L708.4 647.0 L708.9 649.6 L709.2 651.2 L709.4 653.1 L710.0 654.0 L710.4 651.8 L711.0 650.8 L711.4 649.3 L711.6 647.0 L712.4 648.5 L713.0 650.0 L713.5 650.8 L713.7 653.6 L713.7 655.4 L714.1 656.5 L714.4 658.0 L714.7 659.0 L714.5 661.3 L714.5 662.6 L715.0 664.0 L714.9 666.0 L715.3 667.5 L715.3 669.2 L715.5 669.4 L715.4 670.8 L715.6 673.0 L716.1 671.2 L717.0 670.0 L719.0 668.0 L719.6 667.0 L719.6 664.2 L720.1 663.8 L720.7 662.3 L721.0 660.0 L721.3 659.4 L721.9 657.2 L722.7 655.9 L723.0 654.0 L723.2 652.8 L723.6 650.1 L723.9 649.2 L724.4 647.6 L724.7 646.9 L725.0 645.0 L725.3 642.8 L726.1 641.9 L726.3 639.8 L727.0 639.0 L727.4 640.8 L727.3 641.6 L727.8 644.1 L727.9 645.0 L727.9 646.7 L728.0 648.7 L728.4 650.0 L728.7 649.0 L729.0 646.7 L729.4 646.0 L729.6 644.0 L730.0 642.0 L730.9 640.1 L732.0 638.0 L732.9 640.2 L734.0 641.0 L734.9 639.6 L736.0 637.0 L736.3 638.5 L736.7 639.9 L736.8 641.9 L736.9 642.5 L737.1 644.5 L737.3 647.2 L737.6 648.0 L737.7 649.9 L738.2 650.5 L738.3 651.8 L738.7 653.6 L738.7 655.2 L739.0 657.0 L739.5 656.1 L739.7 654.1 L739.8 653.2 L740.1 650.8 L740.6 649.9 L741.0 648.0 L741.6 646.2 L742.2 645.8 L742.3 643.7 L743.0 642.0 L744.0 639.8 L745.0 638.0 L746.0 635.7 L747.0 634.0 L748.1 632.2 L749.0 630.0 L749.5 632.5 L749.7 633.1 L749.9 635.3 L750.0 637.6 L749.9 638.3 L750.4 640.0 L751.2 638.3 L752.0 636.0 L752.9 635.4 L754.0 633.0 L756.0 631.0 L756.9 632.8 L758.0 635.0 L758.2 636.6 L758.9 637.8 L759.0 640.5 L759.6 642.0 L759.9 644.0 L760.0 645.8 L760.6 647.3 L760.5 648.3 L761.0 650.0 L761.0 652.3 L761.7 654.0 L761.5 654.7 L762.0 656.7 L762.0 658.9 L762.4 660.0 L762.7 658.5 L763.0 657.1 L763.4 654.8 L764.0 654.0 L764.4 651.9 L764.9 650.0 L765.2 647.9 L765.6 647.0 L765.6 648.4 L765.9 649.9 L766.2 650.8 L766.3 652.4 L766.5 654.5 L766.4 656.2 L766.8 658.3 L766.7 658.1 L766.7 661.1 L767.0 662.0 L767.8 664.4 L768.4 666.0 L768.4 664.6 L768.6 662.3 L768.9 662.3 L769.3 660.6 L769.2 658.3 L769.4 656.6 L769.6 656.3 L770.0 654.0 L770.2 655.6 L770.6 658.0 L771.0 659.1 L771.1 661.4 L771.3 662.0 L771.6 664.0 L772.0 662.0 L772.1 660.7 L772.4 658.9 L772.7 657.5 L773.0 656.0 L772.9 658.2 L773.1 659.3 L773.5 660.7 L773.6 661.8 L773.8 663.8 L774.0 665.3 L774.3 667.4 L774.4 669.0 L774.4 667.3 L775.1 665.0 L775.1 665.1 L775.2 662.9 L775.5 660.8 L775.8 659.7 L776.0 658.0 L776.1 659.5 L776.4 661.5 L776.4 661.8 L776.7 663.6 L777.1 665.4 L777.4 666.8 L777.3 668.8 L777.6 670.0 L777.5 672.5 L777.9 672.9 L777.7 675.4 L778.1 676.7 L777.8 678.5 L777.9 679.8 L778.2 682.0 L778.3 681.9 L778.5 684.9 L778.4 686.0 L778.6 686.7 L778.8 689.0 L778.9 691.5 L779.1 691.5 L779.2 693.7 L779.3 695.1 L779.3 696.8 L779.3 698.1 L779.6 700.0 L781.6 698.0 L782.4 695.6 L782.7 695.3 L783.6 693.0 L784.7 691.6 L785.6 690.0 L787.6 692.0 L787.9 689.8 L788.5 689.8 L789.1 688.3 L789.6 686.0 L790.0 684.3 L790.6 683.6 L790.9 682.2 L791.6 680.0 L793.0 678.0 L793.2 678.7 L793.3 680.8 L793.6 683.3 L793.7 684.3 L793.8 686.0 L793.9 687.4 L794.1 688.7 L794.4 690.0 L794.4 691.3 L794.5 692.8 L794.8 694.7 L794.8 696.3 L795.1 697.5 L795.1 699.2 L795.4 700.5 L795.4 701.9 L795.3 704.3 L795.5 705.0 L795.6 707.0 L795.7 706.1 L796.2 704.4 L796.6 702.7 L797.0 701.9 L797.5 699.4 L797.6 698.0 L797.9 696.0 L798.4 694.3 L798.5 694.1 L798.7 692.4 L799.3 690.6 L799.6 689.0 L800.2 686.9 L801.0 686.0 L801.4 688.0 L801.5 688.3 L801.7 690.0 L801.5 692.1 L801.9 692.8 L802.2 695.1 L802.4 697.3 L802.4 698.0 L803.0 696.1 L803.7 695.1 L804.0 693.0 L804.6 692.0 L805.4 689.2 L806.0 688.0 L806.3 685.5 L806.8 684.4 L807.1 682.8 L807.4 681.6 L808.0 680.0 L808.4 678.1 L808.9 677.0 L809.7 674.9 L810.0 674.0 L810.7 673.0 L811.1 670.7 L811.6 669.0 L811.8 670.6 L811.9 672.9 L812.1 673.3 L811.8 676.1 L812.1 677.4 L812.2 678.4 L812.4 680.5 L812.8 681.7 L812.7 683.0 L812.6 685.6 L812.7 687.2 L813.0 688.0 L813.8 685.2 L814.4 684.0 L814.9 681.6 L815.0 680.0 L815.4 678.7 L815.7 676.5 L815.8 674.9 L816.0 674.0 L818.0 672.0 L818.1 673.7 L818.9 675.5 L819.1 677.3 L819.3 677.6 L819.6 680.0 L819.9 677.8 L820.3 676.4 L820.6 674.5 L821.0 673.2 L821.3 670.9 L821.6 670.0 L821.8 671.6 L822.2 673.1 L821.9 674.1 L822.2 676.4 L822.7 678.4 L822.9 679.8 L823.0 681.3 L823.0 682.0 L823.8 680.0 L825.0 678.0 L825.5 676.8 L826.1 675.2 L826.7 672.8 L827.0 672.0 L828.0 671.3 L829.0 669.0 L829.8 666.8 L831.0 666.0 L831.7 665.3 L831.8 662.2 L832.7 661.8 L833.0 660.0 L834.0 658.1 L835.0 656.0 L835.6 655.1 L835.8 652.2 L836.6 652.4 L837.0 650.0 L837.5 648.3 L837.6 646.7 L837.8 646.0 L838.4 644.0 L838.4 645.7 L838.7 646.8 L838.9 648.6 L838.8 650.9 L838.9 651.1 L839.1 653.3 L839.5 654.6 L839.3 656.7 L839.6 658.0 L839.8 656.5 L840.2 655.7 L840.5 653.0 L841.0 652.0 L841.4 650.0 L842.0 649.0 L842.4 647.0 L844.0 646.0 L844.2 647.7 L844.0 649.7 L844.2 650.3 L844.4 653.3 L844.4 653.7 L844.8 656.5 L844.6 656.5 L844.9 659.3 L844.8 660.9 L845.0 662.0 L845.0 663.1 L845.2 665.4 L845.2 667.1 L845.1 668.0 L845.4 668.7 L845.7 670.4 L845.4 673.2 L845.9 674.8 L845.7 676.3 L845.7 677.4 L846.1 677.9 L846.0 680.0 L846.3 681.8 L847.2 683.4 L847.7 684.4 L848.0 686.0 L848.3 683.8 L848.7 683.8 L849.0 680.9 L849.6 680.0 L849.8 680.9 L850.0 682.8 L850.1 685.0 L850.6 686.8 L850.9 688.4 L851.0 690.0 L852.2 690.7 L853.0 693.0 L853.1 693.7 L853.4 696.5 L853.9 697.5 L853.8 698.7 L854.2 700.1 L854.4 702.0 L855.1 704.5 L855.4 705.5 L856.0 707.0 L856.5 705.4 L856.4 704.7 L857.1 701.4 L857.3 700.5 L857.2 698.5 L857.6 698.0 L858.0 696.0 L858.9 693.6 L860.0 693.0 L860.2 695.0 L860.7 696.3 L861.0 696.9 L861.1 698.6 L861.4 700.1 L862.0 702.0 L862.3 700.3 L862.4 699.2 L862.5 697.2 L863.0 696.1 L863.0 694.6 L863.2 692.7 L863.6 691.0 L863.6 690.0 L864.0 689.1 L864.1 686.4 L864.1 686.4 L864.2 683.4 L864.6 682.0 L864.7 680.4 L865.0 679.1 L865.0 678.0 L864.9 679.8 L865.2 681.1 L865.4 683.3 L865.5 683.8 L865.4 685.5 L865.6 687.1 L865.9 688.4 L866.0 690.0 L865.9 691.5 L866.2 693.3 L866.5 694.2 L866.3 695.4 L866.6 697.2 L866.7 699.8 L866.5 701.5 L866.7 702.2 L866.8 704.7 L866.9 705.4 L867.0 707.0 L867.2 706.0 L867.6 703.6 L867.7 701.8 L868.3 701.3 L868.7 699.9 L868.8 698.1 L869.0 696.0 L869.6 694.8 L870.2 691.9 L870.7 690.4 L871.0 689.0 L871.9 691.3 L873.0 692.0 L873.8 690.0 L875.0 688.0 L877.0 686.0 L879.0 684.0 L879.9 682.5 L881.0 680.0 L881.6 679.2 L882.2 677.3 L882.3 675.8 L883.0 674.0 L883.5 673.2 L884.5 670.3 L885.0 669.0 L885.5 667.7 L886.5 666.5 L887.0 664.0 L888.1 661.3 L889.0 660.0 L889.6 657.7 L890.2 657.5 L890.6 656.2 L891.0 654.0 L891.5 653.3 L892.1 651.0 L892.4 649.2 L893.0 648.0 L894.4 646.0 L894.2 646.9 L894.6 648.5 L894.6 651.0 L894.7 652.0 L894.6 653.1 L894.5 655.3 L894.8 657.3 L894.7 658.8 L895.1 659.1 L895.1 661.2 L895.2 663.0 L894.9 663.6 L895.1 665.5 L894.9 667.7 L895.2 668.5 L895.2 670.0 L895.4 671.1 L895.1 673.2 L895.2 674.3 L895.2 675.3 L895.4 677.7 L895.7 679.4 L895.5 680.5 L895.4 682.2 L895.9 683.1 L895.6 685.6 L895.8 686.9 L895.8 689.1 L896.0 689.4 L895.9 692.3 L895.9 692.4 L896.1 693.7 L896.0 696.0 L896.3 694.3 L896.9 692.9 L897.6 690.4 L898.0 689.0 L898.8 687.6 L899.4 685.6 L900.0 684.0 L902.0 686.0 L903.0 683.3 L904.0 682.0 L904.5 681.3 L905.2 678.2 L905.3 677.1 L906.0 676.0 L906.6 674.4 L906.8 672.9 L907.5 671.9 L908.0 670.0 L908.5 668.8 L909.1 667.2 L909.3 665.9 L910.0 664.0 L910.6 661.2 L911.6 660.0 L912.1 660.6 L912.4 662.8 L913.1 663.8 L913.6 666.0 L914.3 668.1 L914.6 669.2 L915.0 671.4 L915.6 672.0 L916.4 670.1 L917.6 669.0 L918.0 668.2 L918.7 665.8 L919.2 665.2 L919.7 663.5 L920.5 661.4 L921.0 660.0 L921.4 658.4 L922.0 656.7 L922.6 655.3 L923.0 654.0 L923.9 656.0 L925.0 657.0 L925.6 655.3 L926.5 653.6 L927.0 652.0 L927.9 654.2 L929.0 655.0 L929.9 653.8 L930.3 652.0 L931.0 650.0 L932.1 648.1 L933.0 647.0 L933.8 646.1 L934.4 644.0 L935.0 642.0 L935.0 643.8 L935.0 645.6 L935.2 647.5 L935.1 648.6 L935.0 649.6 L935.5 650.9 L935.4 652.4 L935.4 655.3 L935.3 656.7 L935.3 657.7 L935.8 659.7 L935.6 660.8 L935.8 662.7 L935.9 663.9 L935.7 665.7 L935.9 667.0 L936.2 667.8 L936.0 670.0 L936.2 671.2 L936.2 673.9 L936.0 674.7 L936.2 676.1 L936.1 677.8 L936.5 679.4 L936.2 681.2 L936.3 681.6 L936.5 683.6 L936.5 686.1 L936.6 687.6 L936.5 688.8 L936.4 689.5 L936.8 691.7 L936.9 692.6 L936.6 694.1 L936.8 695.0 L936.8 697.7 L936.7 698.6 L937.1 701.3 L937.0 702.0 L939.0 700.0 L939.4 700.9 L939.8 702.3 L940.6 704.9 L941.0 706.0 L941.2 707.6 L941.7 708.4 L942.0 711.4 L942.0 712.8 L942.4 714.0 L942.9 712.2 L943.4 710.5 L943.6 709.2 L944.0 708.0 L945.0 706.6 L946.0 704.0 L947.0 702.2 L948.0 700.0 L948.9 697.8 L949.2 696.9 L950.0 695.0 L952.0 693.0 L954.0 694.0 L956.0 692.0 L956.1 694.4 L956.6 695.1 L956.9 697.4 L957.5 698.7 L957.6 700.0 L958.4 701.7 L959.6 704.0 L961.6 702.0 L962.9 700.0 L964.0 699.0 L965.2 698.3 L965.9 696.1 L967.0 695.0 L967.9 694.1 L968.8 692.7 L970.0 691.0 L971.3 690.1 L973.0 688.0 L974.3 687.1 L975.6 686.0 L977.0 685.6 L976.9 686.3 L977.1 689.5 L977.3 690.9 L977.1 691.0 L977.2 693.6 L977.3 694.4 L977.7 696.7 L977.6 697.8 L977.6 699.5 L977.8 700.7 L977.8 702.1 L978.0 704.0 L980.0 705.0 L982.0 703.0 L984.4 704.0 L985.3 705.1 L986.4 708.0 L986.7 709.9 L987.1 710.8 L987.8 713.2 L988.0 715.0 L990.4 714.0 L991.7 712.2 L993.0 711.0 L995.6 712.0 L997.0 711.5 L998.0 710.0 L999.6 709.3 L1001.0 708.0 L1002.6 707.5 L1004.0 707.0 L1004.4 708.3 L1004.8 709.9 L1005.2 711.6 L1005.7 713.7 L1005.9 713.6 L1006.4 716.0 L1007.6 714.2 L1009.0 714.0 L1010.4 712.7 L1011.6 711.0 L1012.7 709.4 L1014.0 709.0 L1016.0 708.0 L1016.7 710.1 L1017.1 711.3 L1017.6 712.4 L1018.0 714.0 L1018.9 716.1 L1020.0 718.0 L1021.0 720.2 L1021.8 721.3 L1022.4 722.0 L1022.9 723.2 L1024.0 725.4 L1024.4 727.0 L1025.7 728.2 L1027.0 730.0 L1028.7 729.0 L1030.0 728.0 L1031.7 726.7 L1033.0 727.0 L1034.7 726.6 L1036.0 728.0 L1037.3 727.0 L1039.0 726.4 L1040.6 725.0 L1042.0 725.0 L1043.5 727.3 L1045.0 728.0 L1046.5 728.0 L1048.0 727.0 L1049.5 726.4 L1051.0 725.6 L1052.3 725.2 L1054.0 725.0 L1055.7 724.6 L1057.0 723.6 L1058.4 722.7 L1060.0 722.0 L1061.0 722.9 L1062.0 724.6 L1063.0 725.6 L1063.8 723.9 L1065.1 722.7 L1066.0 722.0 L1067.3 722.3 L1069.0 721.6 L1069.7 724.0 L1070.5 724.1 L1071.3 726.0 L1072.0 728.0 L1072.9 729.8 L1073.6 730.0 L1074.0 732.7 L1075.0 733.6 L1076.3 732.3 L1078.0 732.0 L1079.3 731.9 L1081.0 733.0 L1082.5 734.5 L1084.0 734.4 L1084.9 735.2 L1086.2 736.2 L1087.0 738.0 L1088.4 740.0 L1089.3 738.2 L1090.0 736.0 L1091.7 733.7 L1093.0 733.0 L1094.0 731.7 L1095.2 730.3 L1096.0 729.6 L1097.6 729.2 L1099.0 730.0 L1100.5 731.3 L1102.0 731.0 L1103.4 729.6 L1105.0 729.0 L1107.0 730.0 L1107.3 731.9 L1106.9 732.6 L1107.1 734.3 L1107.5 736.6 L1107.6 738.2 L1107.5 739.2 L1107.6 741.0 L1107.4 742.6 L1107.6 744.2 L1107.5 744.9 L1108.0 747.1 L1107.8 748.2 L1108.0 751.2 L1108.0 752.0 L1110.0 753.0 L1110.8 751.9 L1112.0 751.2 L1113.0 749.6 L1114.5 747.5 L1116.0 746.4 L1117.3 747.1 L1119.0 747.0 L1119.8 746.5 L1120.8 744.2 L1122.0 743.6 L1123.5 744.4 L1125.0 744.0 L1126.6 743.6 L1128.0 742.4 L1129.1 741.3 L1129.8 740.1 L1131.0 738.0 L1131.8 735.9 L1132.8 734.2 L1134.0 733.6 L1135.4 731.8 L1136.4 730.4 L1136.5 731.2 L1137.1 733.8 L1137.4 734.4 L1137.3 736.4 L1137.6 737.7 L1138.0 740.0 L1138.9 741.5 L1140.0 742.4 L1140.1 743.3 L1140.5 745.2 L1140.5 747.1 L1140.9 748.3 L1141.1 749.1 L1141.4 750.9 L1141.6 753.0 L1142.7 750.8 L1144.0 750.4 L1145.7 749.9 L1147.0 749.0 L1147.8 747.5 L1149.0 745.3 L1149.6 744.4 L1151.6 743.6 L1153.0 745.6 L1153.1 747.7 L1153.3 749.4 L1153.7 750.0 L1153.6 752.2 L1154.0 754.8 L1154.0 756.0 L1155.3 758.3 L1156.4 759.0 L1157.5 757.5 L1159.0 756.4 L1160.7 756.3 L1162.0 755.2 L1162.8 758.0 L1164.0 759.0 L1165.1 761.7 L1166.0 763.0 L1166.6 764.9 L1167.6 767.0 L1168.0 768.0 L1169.5 768.2 L1171.0 767.0 L1171.9 769.3 L1172.4 771.2 L1173.0 772.0 L1174.3 772.8 L1176.0 774.0 L1177.5 774.3 L1179.0 776.0 L1179.4 776.9 L1179.5 778.9 L1179.6 781.2 L1179.8 782.6 L1180.3 785.2 L1180.4 786.0 L1180.5 787.4 L1181.0 788.8 L1181.4 790.5 L1181.5 792.4 L1181.5 793.4 L1182.0 796.0 L1183.3 795.5 L1185.0 795.6 L1186.9 796.2 L1189.0 795.0 L1191.1 794.5 L1193.0 795.6 L1194.6 795.8 L1196.0 797.0 L1196.5 799.2 L1197.2 801.3 L1197.5 801.9 L1198.0 804.0 L1199.4 804.2 L1201.0 805.0 L1202.6 805.4 L1204.0 806.0 L1205.1 806.7 L1206.1 809.5 L1207.0 810.0 L1208.4 810.4 L1210.0 810.4 L1211.8 809.2 L1214.0 809.6 L1216.0 808.7 L1218.0 809.0 L1220.1 809.1 L1222.0 809.0 L1224.1 809.5 L1226.0 808.4 L1227.8 807.5 L1230.0 808.0 L1231.8 807.1 L1234.0 806.4 L1235.7 806.5 L1237.0 806.0 L1238.0 808.6 L1239.0 810.0 L1239.6 811.0 L1240.4 812.5 L1241.0 815.0 L1242.4 813.7 L1244.0 814.0 L1244.5 814.9 L1245.3 816.7 L1246.0 819.0 L1246.7 821.3 L1247.3 821.6 L1248.0 824.0 L1249.6 824.9 L1251.0 825.0 L1251.9 826.8 L1252.4 829.0 L1253.0 830.0 L1254.6 831.7 L1256.0 831.6 L1257.4 830.8 L1259.0 829.0 L1260.4 827.4 L1261.6 826.0 L1262.6 827.0 L1264.0 828.0 L1265.4 829.0 L1267.0 829.6 L1268.5 828.8 L1270.0 828.0 L1271.3 828.3 L1273.0 830.0 L1274.1 831.8 L1275.0 833.0 L1276.7 832.0 L1278.0 830.0 L1279.4 828.9 L1281.0 828.0 L1282.0 830.2 L1282.9 832.1 L1284.0 833.0 L1285.5 832.3 L1287.0 832.0 L1288.5 831.2 L1290.0 831.0 L1291.7 829.7 L1293.0 830.0 L1294.4 829.0 L1296.0 829.6 L1297.1 830.2 L1298.0 832.0 L1298.6 833.5 L1299.7 835.7 L1300.4 836.4 L1301.1 839.1 L1302.0 840.0 L1303.4 840.1 L1305.0 842.0 L1306.7 840.8 L1308.0 839.6 L1309.3 839.1 L1311.0 840.0 L1312.7 839.9 L1314.0 839.0 L1314.4 841.0 L1315.2 842.2 L1316.0 844.0 L1317.6 844.7 L1319.0 847.0 L1320.7 846.2 L1322.0 846.0 L1322.2 848.1 L1322.6 848.4 L1323.3 850.7 L1323.8 852.9 L1324.0 854.0 L1325.4 854.7 L1327.0 857.0 L1328.6 857.6 L1330.0 858.4 L1330.9 858.0 L1331.9 856.4 L1333.0 855.0 L1334.3 856.1 L1336.0 855.6 L1336.6 857.5 L1336.7 859.4 L1337.4 861.2 L1337.4 862.3 L1338.0 864.0 L1338.3 865.8 L1339.2 868.2 L1339.4 869.3 L1340.0 871.0 L1341.1 868.9 L1342.4 868.0 L1343.4 870.1 L1344.1 871.2 L1345.0 873.0 L1346.6 873.9 L1348.0 874.0 L1350.0 872.8 L1352.0 873.0 L1353.8 871.9 L1356.0 872.0 L1358.2 871.5 L1360.0 871.0 L1362.1 871.1 L1364.0 871.6 L1365.9 870.7 L1368.0 871.0 L1370.2 871.5 L1372.0 871.6 L1373.8 871.7 L1376.0 871.0 L1378.0 870.2 L1380.0 869.0 L1381.6 868.7 L1383.0 868.0 L1384.2 870.3 L1385.0 871.0 L1386.5 872.3 L1388.0 873.0 L1388.4 874.6 L1388.9 876.8 L1389.4 878.0 L1390.0 880.0 L1390.7 882.0 L1391.1 883.6 L1391.4 884.8 L1392.0 886.0 L1393.4 887.2 L1395.0 889.0 L1397.0 891.0 L1398.3 890.8 L1400.0 889.6 L1402.2 888.6 L1404.0 888.4 L1405.9 887.3 L1408.0 887.6 L1409.8 887.2 L1412.0 886.4 L1414.2 885.5 L1416.0 886.0 L1417.9 886.0 L1420.0 885.0 L1421.9 885.2 L1424.0 884.0 L1425.9 883.8 L1428.0 883.6 L1429.9 882.6 L1432.0 882.4 L1434.0 881.8 L1436.0 882.0 L1438.1 880.2 L1440.0 880.0 L1441.6 880.0 L1443.0 879.0 L1444.4 877.1 L1446.0 876.4 L1447.3 875.2 L1449.0 875.6 L1450.6 876.8 L1452.0 877.6 L1453.3 877.2 L1455.0 877.0 L1456.0 878.0 L1457.0 879.6 L1457.4 880.9 L1458.3 883.4 L1459.0 884.0 L1460.4 884.3 L1462.0 883.0 L1463.7 882.6 L1465.0 882.0 L1465.6 884.1 L1466.3 885.1 L1467.0 885.8 L1468.0 888.0 L1469.5 887.9 L1471.0 889.0 L1473.2 888.4 L1475.0 887.6 L1477.2 888.1 L1479.0 887.0 L1480.6 888.6 L1482.0 889.6 L1483.5 889.8 L1485.0 889.0 L1487.1 887.4 L1489.0 887.0 L1490.3 885.8 L1491.7 885.4 L1493.0 884.0 L1494.4 883.1 L1495.8 882.6 L1497.0 881.0 L1498.1 879.5 L1499.4 878.7 L1501.0 878.4 L1502.9 877.1 L1504.4 876.4 L1505.7 878.1 L1507.0 880.0 L1508.5 880.4 L1510.0 881.6 L1511.6 882.7 L1513.0 884.4 L1515.2 884.5 L1517.0 883.6 L1518.8 883.1 L1521.0 882.4 L1522.8 882.7 L1525.0 881.6 L1526.5 880.6 L1528.5 880.7 L1530.0 880.0 L1531.8 879.5 L1533.3 878.8 L1535.0 879.0 L1536.5 877.9 L1538.2 877.0 L1539.6 877.0 L1539.8 878.0 L1540.3 880.1 L1540.4 882.4 L1541.0 883.0 L1542.7 883.8 L1544.0 885.0 L1545.8 885.3 L1548.0 884.4 L1550.2 883.4 L1552.0 883.6 L1554.1 884.4 L1556.0 884.0 L1558.2 883.3 L1560.0 883.6 L1561.8 882.7 L1564.0 883.0 L1565.9 883.7 L1568.0 883.0 L1569.7 884.0 L1571.0 885.0 L1571.8 886.7 L1573.0 889.0 L1573.1 890.8 L1573.6 892.5 L1573.7 893.4 L1573.9 894.8 L1574.1 896.8 L1574.4 898.0 L1574.7 899.4 L1574.8 900.7 L1574.8 902.8 L1575.1 903.8 L1575.2 906.2 L1575.6 908.0 L1576.5 910.1 L1577.0 911.0 L1578.3 910.2 L1580.0 910.0 L1581.9 909.2 L1584.0 909.0 L1585.8 909.5 L1588.0 909.6 L1589.7 908.6 L1591.0 908.0 L1592.3 906.8 L1594.0 907.0 L1594.8 906.1 L1595.9 904.7 L1597.0 903.0 L1598.1 900.9 L1598.8 900.0 L1600.0 899.0 L1602.4 897.6 L1603.5 899.7 L1604.4 901.0 L1604.7 902.7 L1605.1 904.4 L1605.7 905.8 L1606.0 908.0 L1607.2 910.8 L1608.0 912.0 L1609.6 913.3 L1611.0 913.0 L1612.7 913.1 L1614.0 914.4 L1615.6 913.1 L1616.8 912.1 L1618.0 912.0 L1619.4 912.7 L1621.0 913.6 L1622.7 914.3 L1624.0 914.4 L1625.9 914.7 L1628.0 913.6 L1630.2 913.3 L1632.0 913.0 L1633.3 913.1 L1635.0 914.0 L1635.2 915.4 L1635.9 917.2 L1636.2 917.7 L1636.4 920.0 L1638.1 920.2 L1640.0 919.6 L1641.9 918.5 L1644.0 918.4 L1645.8 917.2 L1648.0 917.6 L1650.0 917.1 L1652.0 916.4 L1653.9 916.3 L1656.0 916.0 L1657.7 915.1 L1659.6 916.0 L1660.0 917.3 L1660.2 919.0 L1660.3 920.0 L1660.6 922.0 L1661.0 924.0 L1661.8 925.2 L1663.0 928.0 L1665.0 926.6 L1667.0 927.0 L1669.2 926.0 L1671.0 925.6 L1673.0 924.8 L1675.0 924.0 L1676.3 922.8 L1678.0 923.0 L1679.6 924.1 L1681.0 925.0 L1683.0 925.2 L1685.0 926.0 L1687.1 926.5 L1689.0 927.0 L1691.1 926.9 L1693.0 925.6 L1695.2 926.2 L1697.0 926.0 L1698.6 926.4 L1700.0 927.0 L1701.0 928.5 L1702.0 930.2 L1703.0 931.0 L1705.2 929.2 L1707.0 929.0 L1708.5 930.0 L1709.7 931.4 L1711.0 931.5 L1712.1 930.6 L1713.6 930.6 L1715.0 929.0 L1716.5 929.0 L1718.2 929.3 L1720.0 928.8 L1721.3 930.5 L1722.6 932.0 L1724.0 932.5 L1725.0 933.0 L1726.6 935.2 L1727.9 935.1 L1729.0 936.5 L1730.5 936.2 L1732.4 934.4 L1734.0 934.5 L1735.7 933.9 L1736.8 933.2 L1738.4 931.9 L1740.0 932.0 L1741.9 932.3 L1743.1 930.9 L1745.0 930.5 L1746.2 929.6 L1747.5 927.9 L1749.0 927.0 L1751.5 927.0 L1751.7 928.7 L1752.0 930.7 L1752.5 933.0 L1752.5 934.0 L1754.1 935.3 L1755.1 935.0 L1756.6 936.5 L1758.0 937.0 L1759.8 937.2 L1761.7 937.7 L1763.0 937.8 L1765.0 939.0 L1766.6 939.8 L1768.7 938.9 L1770.1 939.7 L1772.0 940.5 L1773.9 940.9 L1775.4 939.1 L1777.5 940.4 L1779.0 939.2 L1780.8 939.9 L1782.5 941.2 L1784.0 941.5 L1785.7 940.6 L1787.3 940.8 L1789.0 940.0 L1790.2 941.1 L1791.5 942.5 L1793.0 942.5 L1794.6 942.2 L1796.7 943.7 L1798.5 943.6 L1800.0 943.2 L1801.8 943.9 L1803.2 942.8 L1804.9 944.3 L1806.6 943.0 L1808.0 944.0 L1809.5 944.2 L1811.5 944.2 L1813.5 943.2 L1815.0 943.0 L1816.8 942.7 L1818.4 941.6 L1820.0 941.2 L1821.4 939.7 L1822.9 940.1 L1824.0 939.0 L1825.8 938.8 L1827.2 938.6 L1829.0 938.5 L1829.8 940.4 L1830.1 941.3 L1831.0 944.0 L1832.2 944.5 L1833.4 945.5 L1834.7 947.4 L1836.0 948.0 L1838.2 947.6 L1840.0 946.5 L1841.4 946.9 L1843.4 946.5 L1845.0 945.8 L1846.7 946.3 L1848.3 946.5 L1850.0 948.0 L1852.1 946.9 L1854.0 947.5 L1854.8 949.7 L1855.6 950.7 L1856.4 952.8 L1857.0 953.5 L1858.8 954.3 L1860.2 952.4 L1861.9 953.4 L1863.6 953.3 L1865.0 953.0 L1866.6 952.0 L1868.5 953.1 L1870.0 952.8 L1871.7 952.4 L1873.2 952.1 L1874.5 951.0 L1876.6 951.3 L1878.4 951.6 L1880.0 952.2 L1881.4 952.0 L1883.1 953.3 L1884.7 952.2 L1886.5 952.0 L1888.0 952.8 L1889.5 952.7 L1891.0 953.1 L1892.8 953.5 L1894.3 953.8 L1896.0 953.0 L1897.6 952.9 L1899.4 951.9 L1901.2 953.3 L1903.0 952.5 L1904.6 952.3 L1906.3 951.7 L1908.0 952.0 L1909.4 952.2 L1910.6 953.6 L1912.0 955.0 L1913.7 955.6 L1915.1 955.5 L1916.7 955.9 L1917.8 955.0 L1919.6 956.4 L1921.2 956.5 L1922.3 956.3 L1924.1 956.5 L1925.3 957.3 L1927.0 956.2 L1928.5 956.8 L1930.3 956.4 L1931.5 956.7 L1933.1 955.6 L1934.7 956.1 L1936.4 955.7 L1937.9 956.5 L1939.8 957.5 L1941.4 957.9 L1942.7 957.6 L1943.8 957.0 L1944.9 955.4 L1946.1 953.3 L1947.5 952.8 L1949.3 952.2 L1950.8 952.9 L1952.0 953.4 L1953.8 952.8 L1955.2 953.4 L1957.2 952.5 L1958.6 951.5 L1960.3 951.4 L1961.7 952.0 L1963.3 952.7 L1965.0 951.2 L1966.6 952.2 L1968.0 952.2 L1969.7 951.5 L1971.2 951.6 L1972.8 950.1 L1974.3 950.2 L1976.0 948.4 L1977.5 947.7 L1979.1 945.5 L1980.7 944.9 L1982.1 944.2 L1983.9 941.7 L1984.8 944.6 L1985.5 945.7 L1987.1 944.7 L1988.5 944.5 L1990.3 945.4 L1992.1 944.6 L1993.3 944.3 L1995.0 944.6 L1996.4 943.4 L1998.2 943.8 L1999.7 944.4 L2001.2 943.8 L2002.9 942.2 L2004.5 942.5 L2005.8 942.3 L2007.9 940.9 L2009.4 940.9 L2010.9 941.6 L2012.5 940.1 L2014.0 940.2 L2015.4 940.7 L2017.4 940.3 L2018.8 938.4 L2020.3 939.6 L2021.7 938.2 L2023.5 938.3 L2024.9 938.5 L2026.6 936.7 L2028.2 936.5 L2029.8 936.8 L2031.5 935.4 L2033.0 935.7 L2034.6 934.7 L2036.1 935.9 L2037.6 935.8 L2039.2 934.8 L2041.1 933.9 L2042.5 934.6 L2044.1 934.4 L2045.8 934.8 L2047.3 933.2 L2048.7 933.3 L2050.4 933.0 L2051.9 932.3 L2053.4 931.8 L2055.1 929.9 L2056.7 929.9 L2058.4 930.0 L2060.6 929.2 L2062.3 927.8 L2063.8 929.5 L2065.5 929.4 L2065.8 931.5 L2066.7 932.4 L2067.0 934.6 L2068.6 933.7 L2070.5 934.6 L2072.6 933.8 L2074.2 933.5 L2075.6 933.5 L2077.2 932.2 L2078.9 932.6 L2080.5 932.3 L2082.1 931.5 L2082.9 933.5 L2083.2 934.0 L2084.0 935.7 L2085.0 934.8 L2086.2 934.6 L2087.6 933.0 L2088.7 932.4 L2089.6 931.4 L2090.8 930.1 L2091.6 928.3 L2093.3 927.2 L2094.7 926.3 L2096.5 926.5 L2097.9 925.9 L2099.7 924.8 L2101.0 925.2 L2102.9 924.2 L2104.2 923.1 L2106.0 922.9 L2107.3 921.5 L2109.0 920.4 L2110.1 919.6 L2111.9 918.3 L2113.0 917.2 L2114.0 916.3 L2115.2 915.0 L2116.6 914.0 L2118.2 916.4 L2118.0 917.8 L2118.4 919.9 L2118.5 921.0 L2118.3 921.8 L2118.5 924.2 L2118.4 925.0 L2118.4 926.4 L2118.3 928.0 L2118.5 929.6 L2118.7 932.0 L2118.8 933.4 L2118.5 934.5 L2118.8 936.5 L2118.8 938.2 L2118.5 938.9 L2118.7 941.6 L2118.8 942.5 L2120.5 941.5 L2121.7 940.2 L2122.9 940.1 L2124.3 941.6 L2125.6 942.5 L2126.3 943.4 L2126.4 944.5 L2126.8 947.4 L2127.7 947.6 L2128.0 949.7 L2129.3 948.2 L2131.2 946.5 L2132.6 946.1 L2134.3 945.2 L2136.1 946.3 L2137.5 946.5 L2137.7 948.2 L2138.1 950.0 L2138.4 951.8 L2138.9 953.4 L2139.1 955.0 L2139.6 955.3 L2139.9 957.3 L2142.2 957.6 L2143.9 956.5 L2145.2 955.2 L2147.1 954.7 L2148.6 954.4 L2150.0 954.4 L2151.6 953.9 L2153.2 952.7 L2154.9 952.5 L2156.7 952.8 L2158.3 952.7 L2159.7 951.6 L2161.3 953.4 L2162.8 953.6 L2164.5 953.2 L2165.9 952.2 L2167.6 951.4 L2169.2 951.2 L2170.8 951.4 L2172.4 949.8 L2173.7 949.6 L2175.5 950.0 L2177.1 948.9 L2178.7 948.7 L2180.3 948.7 L2181.9 948.5 L2183.4 947.8 L2185.0 948.1 L2186.4 947.8 L2188.4 948.6 L2189.6 947.7 L2191.3 947.4 L2192.9 947.3 L2194.3 947.6 L2195.9 946.4 L2197.6 946.2 L2199.2 946.5 L2200.3 944.8 L2201.6 943.9 L2202.9 943.7 L2204.0 942.5 L2205.6 941.5 L2207.2 940.1 L2208.7 939.4 L2210.3 938.9 L2211.8 938.2 L2213.5 937.0 L2215.1 938.3 L2216.7 937.9 L2218.2 938.3 L2220.0 937.5 L2221.4 937.4 L2223.1 937.5 L2224.6 936.7 L2226.0 936.8 L2228.0 935.3 L2229.6 934.8 L2230.9 933.8 L2232.4 932.7 L2234.1 933.0 L2235.4 934.2 L2237.2 935.1 L2238.9 935.2 L2240.6 934.7 L2242.1 934.9 L2243.6 934.6 L2245.2 934.6 L2246.8 934.4 L2248.3 934.1 L2249.7 934.6 L2251.6 934.3 L2253.1 934.6" fill="none" stroke="#f7780f" stroke-width="3.1" stroke-linejoin="round" stroke-linecap="round"/>
<path d="M125.8 230.0 C127.1 231.6 131.1 236.6 133.8 239.8 C136.4 243.0 139.1 246.1 141.8 249.4 C144.4 252.6 147.1 255.9 149.8 259.2 C152.4 262.6 155.1 265.9 157.8 269.3 C160.4 272.7 163.1 276.0 165.8 279.5 C168.4 283.0 171.1 286.5 173.8 290.1 C176.4 293.6 179.1 297.2 181.8 300.9 C184.4 304.6 187.1 308.4 189.8 312.3 C192.4 316.2 195.1 320.2 197.8 324.2 C200.4 328.3 203.1 332.4 205.8 336.7 C208.4 340.9 211.1 345.2 213.8 349.6 C216.4 354.0 219.1 358.5 221.8 362.9 C224.4 367.3 227.1 371.7 229.8 376.0 C232.4 380.3 235.1 384.5 237.8 388.6 C240.4 392.7 243.1 396.8 245.8 400.8 C248.4 404.7 251.1 408.6 253.8 412.4 C256.4 416.3 259.1 419.9 261.8 423.6 C264.4 427.4 267.1 431.0 269.8 434.7 C272.4 438.3 275.1 441.9 277.8 445.5 C280.4 449.0 283.1 452.5 285.8 455.9 C288.4 459.3 291.1 462.6 293.8 465.9 C296.4 469.1 299.1 472.3 301.8 475.4 C304.4 478.5 307.1 481.4 309.8 484.4 C312.4 487.3 315.1 490.1 317.8 492.9 C320.4 495.7 323.1 498.4 325.8 501.1 C328.4 503.8 331.1 506.4 333.8 509.0 C336.4 511.6 339.1 514.1 341.8 516.5 C344.4 518.9 347.1 521.3 349.8 523.6 C352.4 525.8 355.1 527.9 357.8 529.9 C360.4 531.8 363.1 533.6 365.8 535.2 C368.4 536.8 371.1 538.2 373.8 539.5 C376.4 540.8 379.1 541.9 381.8 542.9 C384.4 543.8 387.1 544.6 389.8 545.4 C392.4 546.1 395.1 546.7 397.8 547.3 C400.4 547.9 403.1 548.5 405.8 549.0 C408.4 549.4 411.1 549.8 413.8 550.0 C416.4 550.2 419.1 550.4 421.8 550.3 C424.4 550.3 427.1 550.1 429.8 549.8 C432.4 549.4 435.1 548.9 437.8 548.3 C440.4 547.7 443.1 546.9 445.8 546.1 C448.4 545.2 451.1 544.2 453.8 543.3 C456.4 542.4 459.1 541.5 461.8 540.6 C464.4 539.7 467.1 538.8 469.8 538.0 C472.4 537.2 475.1 536.5 477.8 535.8 C480.4 535.1 483.1 534.4 485.8 533.9 C488.4 533.3 491.1 532.9 493.8 532.4 C496.4 531.9 499.1 531.5 501.8 531.0 C504.4 530.5 507.1 529.9 509.8 529.4 C512.4 528.8 515.1 528.3 517.8 527.7 C520.4 527.2 523.1 526.6 525.8 526.1 C528.4 525.6 531.1 525.0 533.8 524.5 C536.4 524.0 539.1 523.4 541.8 523.0 C544.4 522.6 547.1 522.2 549.8 521.9 C552.4 521.6 555.1 521.3 557.8 521.1 C560.4 520.9 563.1 520.7 565.8 520.6 C568.4 520.5 571.1 520.4 573.8 520.4 C576.4 520.5 579.1 520.6 581.8 520.7 C584.4 520.9 587.1 521.1 589.8 521.4 C592.4 521.6 595.1 521.9 597.8 522.2 C600.4 522.5 603.1 522.9 605.8 523.2 C608.4 523.6 611.1 523.9 613.8 524.2 C616.4 524.6 619.1 524.9 621.8 525.2 C624.4 525.5 627.1 525.9 629.8 526.3 C632.4 526.6 635.1 527.0 637.8 527.5 C640.4 528.0 643.1 528.5 645.8 529.1 C648.4 529.6 651.1 530.3 653.8 531.0 C656.4 531.7 659.1 532.5 661.8 533.3 C664.4 534.1 667.1 535.0 669.8 536.0 C672.4 536.9 675.1 538.0 677.8 539.0 C680.4 540.1 683.1 541.2 685.8 542.5 C688.4 543.7 691.1 545.1 693.8 546.6 C696.4 548.1 699.1 549.7 701.8 551.4 C704.4 553.1 707.1 555.0 709.8 556.8 C712.4 558.7 715.1 560.6 717.8 562.5 C720.4 564.4 723.1 566.4 725.8 568.3 C728.4 570.1 731.1 572.0 733.8 573.7 C736.4 575.5 739.1 577.2 741.8 578.8 C744.4 580.4 747.1 582.0 749.8 583.5 C752.4 585.1 755.1 586.7 757.8 588.3 C760.4 589.9 763.1 591.5 765.8 593.1 C768.4 594.7 771.1 596.4 773.8 598.0 C776.4 599.6 779.1 601.2 781.8 602.7 C784.4 604.3 787.1 605.8 789.8 607.3 C792.4 608.8 795.1 610.3 797.8 611.7 C800.4 613.1 803.1 614.5 805.8 615.9 C808.4 617.2 811.1 618.6 813.8 619.9 C816.4 621.2 819.1 622.4 821.8 623.6 C824.4 624.7 827.1 625.9 829.8 627.0 C832.4 628.1 835.1 629.1 837.8 630.2 C840.4 631.2 843.1 632.2 845.8 633.2 C848.4 634.2 851.1 635.0 853.8 635.9 C856.4 636.9 859.1 637.8 861.8 638.7 C864.4 639.6 867.1 640.6 869.8 641.5 C872.4 642.4 875.1 643.3 877.8 644.2 C880.4 645.0 883.1 645.9 885.8 646.8 C888.4 647.7 891.1 648.6 893.8 649.5 C896.4 650.4 899.1 651.2 901.8 652.1 C904.4 653.0 907.1 653.8 909.8 654.7 C912.4 655.6 915.1 656.4 917.8 657.3 C920.4 658.1 923.1 659.0 925.8 659.8 C928.4 660.6 931.1 661.4 933.8 662.3 C936.4 663.1 939.1 663.9 941.8 664.7 C944.4 665.6 947.1 666.4 949.8 667.2 C952.4 668.0 955.1 668.8 957.8 669.5 C960.4 670.3 963.1 671.1 965.8 671.9 C968.4 672.6 971.1 673.4 973.8 674.1 C976.4 674.8 979.1 675.5 981.8 676.2 C984.4 677.0 987.1 677.7 989.8 678.4 C992.4 679.1 995.1 679.9 997.8 680.6 C1000.4 681.3 1003.1 682.0 1005.8 682.7 C1008.4 683.4 1011.1 684.2 1013.8 685.0 C1016.4 685.7 1019.1 686.4 1021.8 687.1 C1024.4 687.7 1027.1 688.4 1029.8 688.9 C1032.4 689.5 1035.1 690.0 1037.8 690.5 C1040.4 691.0 1043.1 691.4 1045.8 691.8 C1048.4 692.2 1051.1 692.5 1053.8 692.8 C1056.4 693.1 1059.1 693.4 1061.8 693.7 C1064.4 694.1 1067.1 694.4 1069.8 694.8 C1072.4 695.1 1075.1 695.5 1077.8 696.0 C1080.4 696.5 1083.1 697.0 1085.8 697.5 C1088.4 698.0 1091.1 698.7 1093.8 699.3 C1096.4 699.9 1099.1 700.6 1101.8 701.2 C1104.4 701.9 1107.1 702.6 1109.8 703.2 C1112.4 703.9 1115.1 704.6 1117.8 705.2 C1120.4 705.8 1123.1 706.5 1125.8 707.1 C1128.4 707.7 1131.1 708.2 1133.8 708.8 C1136.4 709.4 1139.1 710.0 1141.8 710.6 C1144.4 711.2 1147.1 711.8 1149.8 712.5 C1152.4 713.2 1155.1 713.9 1157.8 714.7 C1160.4 715.5 1163.1 716.4 1165.8 717.3 C1168.4 718.3 1171.1 719.4 1173.8 720.5 C1176.4 721.6 1179.1 722.9 1181.8 724.1 C1184.4 725.3 1187.1 726.5 1189.8 727.8 C1192.4 729.0 1195.1 730.3 1197.8 731.6 C1200.4 732.8 1203.1 734.1 1205.8 735.2 C1208.4 736.4 1211.1 737.5 1213.8 738.5 C1216.4 739.6 1219.1 740.7 1221.8 741.8 C1224.4 742.9 1227.1 744.0 1229.8 745.1 C1232.4 746.2 1235.1 747.3 1237.8 748.4 C1240.4 749.5 1243.1 750.7 1245.8 751.8 C1248.4 753.0 1251.1 754.2 1253.8 755.3 C1256.4 756.5 1259.1 757.6 1261.8 758.7 C1264.4 759.9 1267.1 761.0 1269.8 762.2 C1272.4 763.3 1275.1 764.5 1277.8 765.7 C1280.4 766.9 1283.1 768.1 1285.8 769.3 C1288.4 770.5 1291.1 771.6 1293.8 772.8 C1296.4 774.0 1299.1 775.3 1301.8 776.6 C1304.4 778.0 1307.1 779.3 1309.8 780.7 C1312.4 782.1 1315.1 783.5 1317.8 784.9 C1320.4 786.3 1323.1 787.7 1325.8 789.2 C1328.4 790.7 1331.1 792.2 1333.8 793.7 C1336.4 795.2 1339.1 796.7 1341.8 798.2 C1344.4 799.6 1347.1 801.1 1349.8 802.6 C1352.4 804.0 1355.1 805.5 1357.8 807.0 C1360.4 808.4 1363.1 809.9 1365.8 811.4 C1368.4 812.8 1371.1 814.3 1373.8 815.8 C1376.4 817.3 1379.1 818.8 1381.8 820.3 C1384.4 821.8 1387.1 823.3 1389.8 824.8 C1392.4 826.2 1395.1 827.7 1397.8 829.1 C1400.4 830.4 1403.1 831.8 1405.8 833.0 C1408.4 834.3 1411.1 835.5 1413.8 836.6 C1416.4 837.7 1419.1 838.7 1421.8 839.7 C1424.4 840.7 1427.1 841.6 1429.8 842.5 C1432.4 843.4 1435.1 844.2 1437.8 845.0 C1440.4 845.8 1443.1 846.6 1445.8 847.4 C1448.4 848.2 1451.1 849.0 1453.8 849.8 C1456.4 850.6 1459.1 851.4 1461.8 852.2 C1464.4 853.0 1467.1 853.8 1469.8 854.6 C1472.4 855.4 1475.1 856.2 1477.8 857.0 C1480.4 857.8 1483.1 858.6 1485.8 859.4 C1488.4 860.2 1491.1 861.0 1493.8 861.8 C1496.4 862.5 1499.1 863.3 1501.8 864.0 C1504.4 864.7 1507.1 865.4 1509.8 866.1 C1512.4 866.7 1515.1 867.3 1517.8 867.9 C1520.4 868.5 1523.1 869.1 1525.8 869.7 C1528.4 870.3 1531.1 870.8 1533.8 871.4 C1536.4 871.9 1539.1 872.4 1541.8 873.0 C1544.4 873.5 1547.1 874.0 1549.8 874.5 C1552.4 875.1 1555.1 875.6 1557.8 876.1 C1560.4 876.7 1563.1 877.2 1565.8 877.8 C1568.4 878.3 1571.1 878.8 1573.8 879.4 C1576.4 879.9 1579.1 880.4 1581.8 880.9 C1584.4 881.4 1587.1 881.9 1589.8 882.4 C1592.4 882.9 1595.1 883.4 1597.8 883.8 C1600.4 884.3 1603.1 884.7 1605.8 885.2 C1608.4 885.6 1611.1 886.0 1613.8 886.4 C1616.4 886.9 1619.1 887.3 1621.8 887.7 C1624.4 888.1 1627.1 888.5 1629.8 888.9 C1632.4 889.3 1635.1 889.8 1637.8 890.2 C1640.4 890.6 1643.1 891.0 1645.8 891.4 C1648.4 891.8 1651.1 892.2 1653.8 892.6 C1656.4 893.0 1659.1 893.4 1661.8 893.7 C1664.4 894.1 1667.1 894.5 1669.8 894.8 C1672.4 895.2 1675.1 895.5 1677.8 895.9 C1680.4 896.3 1683.1 896.7 1685.8 897.1 C1688.4 897.5 1691.1 897.9 1693.8 898.4 C1696.4 898.8 1699.1 899.3 1701.8 899.8 C1704.4 900.3 1707.1 900.8 1709.8 901.3 C1712.4 901.8 1715.1 902.3 1717.8 902.8 C1720.4 903.3 1723.1 903.8 1725.8 904.3 C1728.4 904.8 1731.1 905.3 1733.8 905.7 C1736.4 906.2 1739.1 906.6 1741.8 907.0 C1744.4 907.5 1747.1 907.9 1749.8 908.4 C1752.4 908.9 1755.1 909.3 1757.8 909.8 C1760.4 910.3 1763.1 910.8 1765.8 911.3 C1768.4 911.9 1771.1 912.4 1773.8 912.9 C1776.4 913.5 1779.1 914.1 1781.8 914.6 C1784.4 915.2 1787.1 915.8 1789.8 916.3 C1792.4 916.9 1795.1 917.5 1797.8 918.1 C1800.4 918.7 1803.1 919.2 1805.8 919.8 C1808.4 920.4 1811.1 921.0 1813.8 921.6 C1816.4 922.2 1819.1 922.8 1821.8 923.4 C1824.4 924.0 1827.1 924.6 1829.8 925.1 C1832.4 925.7 1835.1 926.3 1837.8 926.8 C1840.4 927.3 1843.1 927.9 1845.8 928.4 C1848.4 928.9 1851.1 929.4 1853.8 929.9 C1856.4 930.4 1859.1 930.8 1861.8 931.3 C1864.4 931.8 1867.1 932.2 1869.8 932.7 C1872.4 933.2 1875.1 933.6 1877.8 934.1 C1880.4 934.5 1883.1 935.0 1885.8 935.4 C1888.4 935.9 1891.1 936.3 1893.8 936.8 C1896.4 937.2 1899.1 937.6 1901.8 938.1 C1904.4 938.5 1907.1 939.0 1909.8 939.4 C1912.4 939.8 1915.1 940.3 1917.8 940.7 C1920.4 941.1 1923.1 941.5 1925.8 941.9 C1928.4 942.3 1931.1 942.6 1933.8 943.0 C1936.4 943.3 1939.1 943.6 1941.8 943.9 C1944.4 944.3 1947.1 944.5 1949.8 944.8 C1952.4 945.1 1955.1 945.3 1957.8 945.5 C1960.4 945.8 1963.1 946.0 1965.8 946.2 C1968.4 946.4 1971.1 946.6 1973.8 946.8 C1976.4 947.0 1979.1 947.2 1981.8 947.3 C1984.4 947.5 1987.1 947.6 1989.8 947.7 C1992.4 947.8 1995.1 947.9 1997.8 948.0 C2000.4 948.1 2003.1 948.2 2005.8 948.2 C2008.4 948.3 2011.1 948.3 2013.8 948.3 C2016.4 948.3 2019.1 948.3 2021.8 948.3 C2024.4 948.3 2027.1 948.3 2029.8 948.2 C2032.4 948.2 2035.1 948.1 2037.8 948.1 C2040.4 948.0 2043.1 947.9 2045.8 947.8 C2048.4 947.7 2051.1 947.6 2053.8 947.5 C2056.4 947.4 2059.1 947.2 2061.8 947.1 C2064.4 947.0 2067.1 946.8 2069.8 946.6 C2072.4 946.5 2075.1 946.3 2077.8 946.1 C2080.4 945.9 2083.1 945.8 2085.8 945.6 C2088.4 945.4 2091.1 945.2 2093.8 945.0 C2096.4 944.8 2099.1 944.6 2101.8 944.4 C2104.4 944.2 2107.1 944.0 2109.8 943.9 C2112.4 943.7 2115.1 943.6 2117.8 943.5 C2120.4 943.4 2123.1 943.3 2125.8 943.2 C2128.4 943.1 2131.1 943.1 2133.8 943.0 C2136.4 943.0 2139.1 943.0 2141.8 943.0 C2144.4 943.0 2147.1 943.0 2149.8 943.0 C2152.4 943.0 2155.1 943.0 2157.8 942.9 C2160.4 942.9 2163.1 942.9 2165.8 942.9 C2168.4 942.8 2171.1 942.8 2173.8 942.7 C2176.4 942.7 2179.1 942.6 2181.8 942.6 C2184.4 942.5 2187.1 942.4 2189.8 942.4 C2192.4 942.3 2195.1 942.2 2197.8 942.1 C2200.4 942.0 2203.1 941.9 2205.8 941.8 C2208.4 941.7 2211.1 941.6 2213.8 941.5 C2216.4 941.3 2219.1 941.2 2221.8 941.1 C2224.4 941.0 2227.1 940.8 2229.8 940.7 C2232.4 940.6 2235.1 940.4 2237.8 940.3 C2240.4 940.2 2243.2 940.0 2245.8 939.9 C2248.3 939.8 2251.9 939.6 2253.1 939.5" fill="none" stroke="#1d08dc" stroke-width="2.7" stroke-linejoin="round" stroke-linecap="round"/>
<g class="ax" text-anchor="end">
<text x="125.2" y="188.3">$80k</text>
<text x="125.2" y="222.4">$60k</text>
<text x="125.2" y="270.6">$40k</text>
<text x="125.2" y="353.0">$20k</text>
<text x="125.2" y="435.4">$10k</text>
<text x="125.2" y="462.0">$8k</text>
<text x="125.2" y="496.2">$6k</text>
<text x="125.2" y="544.5">$4k</text>
<text x="125.2" y="627.1">$2k</text>
<text x="125.2" y="709.9">$1k</text>
<text x="125.2" y="736.5">$800</text>
<text x="125.2" y="770.9">$600</text>
<text x="125.2" y="819.3">$400</text>
<text x="125.2" y="902.2">$200</text>
<text x="125.2" y="985.2">$100</text>
<text x="125.2" y="1011.9">$80</text>
<text x="125.2" y="1046.4">$60</text>
<text x="125.2" y="1095.0">$40</text>
</g>
<g class="ax">
<text x="2255.5" y="1095.3" textLength="64" lengthAdjust="spacingAndGlyphs">1 700k</text>
<text x="2255.5" y="978.6" textLength="64" lengthAdjust="spacingAndGlyphs">1 750k</text>
<text x="2255.5" y="861.9" textLength="64" lengthAdjust="spacingAndGlyphs">1 800k</text>
<text x="2255.5" y="745.2" textLength="64" lengthAdjust="spacingAndGlyphs">1 850k</text>
<text x="2255.5" y="628.5" textLength="64" lengthAdjust="spacingAndGlyphs">1 900k</text>
<text x="2255.5" y="511.8" textLength="64" lengthAdjust="spacingAndGlyphs">1 950k</text>
<text x="2255.5" y="395.1" textLength="64" lengthAdjust="spacingAndGlyphs">2 000k</text>
<text x="2255.5" y="278.4" textLength="64" lengthAdjust="spacingAndGlyphs">2 050k</text>
</g>
<g class="ax" text-anchor="middle">
<text x="168.5" y="1131.3">Jul '13</text>
<text x="299.0" y="1131.3">Jan '14</text>
<text x="428.0" y="1131.3">Jul '14</text>
<text x="559.5" y="1131.3">Jan '15</text>
<text x="688.0" y="1131.3">Jul '15</text>
<text x="819.0" y="1131.3">Jan '16</text>
<text x="949.0" y="1131.3">Jul '16</text>
<text x="1080.0" y="1131.3">Jan '17</text>
<text x="1208.0" y="1131.3">Jul '17</text>
<text x="1340.0" y="1131.3">Jan '18</text>
<text x="1469.0" y="1131.3">Jul '18</text>
<text x="1600.0" y="1131.3">Jan '19</text>
<text x="1729.0" y="1131.3">Jul '19</text>
<text x="1860.5" y="1131.3">Jan '20</text>
<text x="1990.5" y="1131.3">Jul '20</text>
<text x="2121.0" y="1131.3">Jan '21</text>
<text x="2250.0" y="1131.3">Jul '21</text>
</g>
<circle cx="1278" cy="159" r="7" fill="#7a7a7a"/>
<circle cx="1574" cy="159" r="7" fill="#f7790f"/>
<circle cx="1965" cy="159" r="7" fill="#1a0ee0"/>
<g class="lg">
<text x="1293" y="166.3" textLength="239" lengthAdjust="spacingAndGlyphs">Bitcoin: Price (USD) [USD]</text>
<text x="1589" y="166.3" textLength="334" lengthAdjust="spacingAndGlyphs">Bitcoin: Miner Unspent Supply [BTC]</text>
<text x="1980" y="166.3" textLength="334" lengthAdjust="spacingAndGlyphs">Bitcoin: Miner Unspent Supply [BTC]</text>
</g>
<g stroke="#f2085a" stroke-width="6.4" stroke-linecap="round" stroke-linejoin="round" fill="none"><path d="M673.3 473.4 L1431.4 803.8" stroke-linecap="butt"/><path d="M1423.0 778.0 L1431.4 802.3 L1406.0 819.0"/></g>
<g stroke="#f5790f" stroke-width="6.5" stroke-linecap="round" stroke-linejoin="round" fill="none"><path d="M1436.5 807.0 L1943.5 907.8" stroke-linecap="butt"/><path d="M1925.6 883.0 L1943.5 907.8 L1917.0 925.5"/></g>
<g stroke="#12a045" stroke-width="6.5" stroke-linecap="round" stroke-linejoin="round" fill="none"><path d="M1949.5 908.4 L2253.7 894.5" stroke-linecap="butt"/><path d="M2234.0 874.0 L2253.7 894.5 L2235.3 916.5"/></g>
<g stroke="#000" stroke-width="2.8" stroke-dasharray="8 9" stroke-dashoffset="4">
<line x1="1433" x2="1433" y1="196" y2="1100.5"/>
<line x1="1948" x2="1948" y1="196" y2="1100.5"/>
</g>
<g stroke="#000" stroke-width="2.2" fill="none" stroke-linecap="round" stroke-linejoin="round">
<path d="M475.8 666 L428.8 554 M425.5 567 L428.8 554 L442 560"/>
<path d="M1330 963.5 L1393 894.5 M1380 894.5 L1393 894.5 L1393.5 906"/>
</g>
<g class="an">
<text x="948.8" y="288" fill="#f2085a" stroke="#f2085a" textLength="131.2" lengthAdjust="spacingAndGlyphs">Strong</text>
<text x="903.8" y="337" fill="#f2085a" stroke="#f2085a" textLength="231.2" lengthAdjust="spacingAndGlyphs">Distribution</text>
<text x="1619" y="288" fill="#e0700f" stroke="#e0700f" textLength="189" lengthAdjust="spacingAndGlyphs">Moderate</text>
<text x="1597.5" y="337" fill="#e0700f" stroke="#e0700f" textLength="231.2" lengthAdjust="spacingAndGlyphs">Distribution</text>
<text x="2055" y="511.8" fill="#12a045" stroke="#12a045" textLength="111.6" lengthAdjust="spacingAndGlyphs">Miner</text>
<text x="2024" y="561" fill="#12a045" stroke="#12a045" textLength="173.5" lengthAdjust="spacingAndGlyphs">HODLing</text>
<text x="477.5" y="706" fill="#0a0adf" stroke="#0a0adf" textLength="222.5" lengthAdjust="spacingAndGlyphs">365DMA of</text>
<text x="434.5" y="755" fill="#0a0adf" stroke="#0a0adf" textLength="311.2" lengthAdjust="spacingAndGlyphs">Unspent Supply</text>
<text x="871.3" y="970.8" fill="#f0460f" stroke="#f0460f" textLength="437.5" lengthAdjust="spacingAndGlyphs">Miner Unspent Supply</text>
</g>
<text x="780.4" y="1020.4" fill="#f0460f" font-size="40" font-style="italic" textLength="624" lengthAdjust="spacingAndGlyphs">(Includes Satoshi + Early Miners)</text>
<rect x="947.5" y="297.2" width="143.0" height="3.3" fill="#f2085a"/>
<rect x="902.0" y="346.7" width="234.0" height="3.3" fill="#f2085a"/>
<rect x="1617.0" y="297.4" width="191.5" height="3.3" fill="#e0700f"/>
<rect x="1595.0" y="346.0" width="235.0" height="3.3" fill="#e0700f"/>
<rect x="2053.7" y="520.4" width="114.3" height="3.3" fill="#12a045"/>
<rect x="2022.7" y="569.6" width="176.3" height="3.3" fill="#12a045"/>
<text x="47.5" y="1262.5" font-size="24" fill="#8b8b8b" textLength="423.5" lengthAdjust="spacingAndGlyphs">© 2021 Glassnode. All Rights Reserved.</text>
<g fill="none" stroke="#0b0b0b" stroke-width="4.2" stroke-linecap="butt" stroke-linejoin="round"><ellipse cx="2170.50" cy="1255.30" rx="9.30" ry="9.85"/><path d="M2179.8 1243.6 L2179.8 1264.5 C2179.8 1270.8 2175.5 1273.7 2170.6 1273.7 C2166.6 1273.7 2163.4 1272 2161.6 1269.2"/><path d="M2188.9 1234.9 L2188.9 1267"/><ellipse cx="2206.10" cy="1255.30" rx="9.30" ry="9.85"/><path d="M2215.4 1243.6 L2215.4 1267"/><path d="M2235.10 1248.6 C2233.70 1246.2 2231.90 1245.3 2229.60 1245.3 C2226.50 1245.3 2224.50 1247 2224.50 1249.8 C2224.50 1253.2 2227.30 1254 2229.70 1255.3 C2232.50 1256.6 2235.20 1257.6 2235.20 1260.6 C2235.20 1263.6 2232.70 1265.3 2229.50 1265.3 C2226.50 1265.3 2224.20 1264 2223.10 1261.4"/><path d="M2252.80 1248.6 C2251.40 1246.2 2249.60 1245.3 2247.30 1245.3 C2244.20 1245.3 2242.20 1247 2242.20 1249.8 C2242.20 1253.2 2245.00 1254 2247.40 1255.3 C2250.20 1256.6 2252.90 1257.6 2252.90 1260.6 C2252.90 1263.6 2250.40 1265.3 2247.20 1265.3 C2244.20 1265.3 2241.90 1264 2240.80 1261.4"/><path d="M2262.2 1243.6 L2262.2 1267 M2262.2 1253.5 C2262.2 1248.5 2265.3 1245.4 2269.6 1245.4 C2274 1245.4 2276.6 1248.4 2276.6 1253 L2276.6 1267"/><ellipse cx="2294.05" cy="1255.30" rx="9.30" ry="9.85"/><ellipse cx="2319.70" cy="1255.30" rx="9.30" ry="9.85"/><path d="M2328.8 1236.5 L2328.8 1267"/><path d="M2337 1255.2 L2353.5 1255.2 C2353.5 1249.4 2349.8 1245.45 2345.05 1245.45 C2340 1245.45 2336.4 1249.8 2336.4 1255.3 C2336.4 1260.8 2340 1265.15 2345.1 1265.15 C2348.6 1265.15 2351.3 1263.4 2352.7 1260.6"/></g>
</svg>
</body></html>
